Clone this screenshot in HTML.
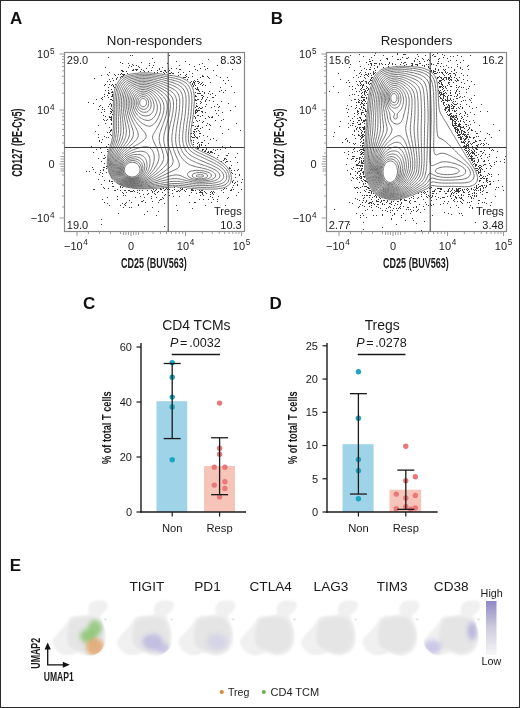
<!DOCTYPE html><html><head><meta charset="utf-8"><style>svg{will-change:transform}html,body{margin:0;padding:0;background:#fff;width:520px;height:708px;overflow:hidden}</style></head><body><svg width="520" height="708" viewBox="0 0 520 708" style="display:block">
<defs><filter id="blur2" x="-50%" y="-50%" width="200%" height="200%"><feGaussianBlur stdDeviation="2"/></filter><filter id="blur07" x="-20%" y="-20%" width="140%" height="140%"><feGaussianBlur stdDeviation="0.7"/></filter><filter id="blur10" x="-20%" y="-20%" width="140%" height="140%"><feGaussianBlur stdDeviation="1.0"/></filter><filter id="blur15" x="-20%" y="-20%" width="140%" height="140%"><feGaussianBlur stdDeviation="1.8"/></filter><linearGradient id="lg" x1="0" y1="0" x2="0" y2="1"><stop offset="0" stop-color="#8f88c6"/><stop offset="0.5" stop-color="#cfcdde"/><stop offset="1" stop-color="#f6f6f6"/></linearGradient></defs>
<rect x="0" y="0" width="520" height="708" fill="#fff"/>
<g font-family='"Liberation Sans", sans-serif'>
<g fill="none" stroke="#5c5c5c" stroke-width="0.85" stroke-linejoin="round">
<path d="M216.5,189.0 215.0,189.0 213.5,189.1 212.0,189.1 210.5,189.1 209.0,189.1 207.5,189.1 206.0,189.1 204.5,189.1 203.0,189.1 201.5,189.1 200.0,189.1 198.5,189.1 197.0,189.0 196.0,188.7 194.5,188.6 193.0,188.6 191.5,188.5 190.5,188.2 189.0,188.1 187.5,188.0 186.5,187.7 185.0,187.6 183.5,187.6 182.5,187.2 181.0,187.1 179.5,187.1 178.0,187.1 177.0,186.7 175.5,186.7 174.0,186.7 173.0,187.1 171.5,187.1 170.0,187.1 168.5,187.2 167.5,187.5 166.0,187.6 164.5,187.7 163.0,187.7 162.0,188.1 160.5,188.1 159.0,188.1 157.5,188.2 156.0,188.2 154.5,188.3 153.2,188.5 152.0,188.6 150.5,188.7 149.0,188.7 147.5,188.7 146.0,188.8 144.5,188.8 143.0,188.8 141.5,188.8 140.0,188.8 138.5,188.8 137.0,188.7 136.0,188.4 134.5,188.3 133.0,188.2 132.0,187.9 130.5,187.8 129.0,187.7 128.0,187.3 126.5,187.2 125.5,186.8 124.0,186.7 123.0,186.2 122.0,185.8 121.0,185.3 120.0,184.8 119.0,184.3 118.0,183.7 117.0,183.2 116.3,182.5 115.5,181.8 114.5,181.2 113.8,180.5 113.0,179.7 112.4,179.0 111.8,178.0 111.2,177.0 110.7,176.0 110.2,175.0 109.7,174.0 109.3,173.0 108.8,172.0 108.5,170.7 108.3,169.5 107.9,168.5 107.7,167.0 107.4,166.0 107.3,164.5 107.3,163.0 107.3,161.5 107.3,160.0 107.4,158.5 107.7,157.5 107.8,156.0 107.9,154.5 108.3,153.5 108.4,152.0 108.8,151.0 109.0,149.8 109.4,148.5 109.8,147.5 110.0,146.4 110.4,145.0 110.9,144.0 111.3,143.0 111.5,141.8 111.9,140.5 112.0,139.4 112.4,138.0 112.4,136.5 112.8,135.5 112.9,134.0 112.9,132.5 113.0,131.4 113.3,130.0 113.3,128.5 113.4,127.0 113.4,125.5 113.4,124.0 113.4,122.5 113.4,121.0 113.4,119.5 113.4,118.0 113.4,116.5 113.3,115.0 113.3,113.5 113.3,112.0 113.3,110.5 113.0,109.5 113.0,108.0 113.3,107.0 113.3,105.5 113.3,104.0 113.3,102.5 113.4,101.0 113.4,99.5 113.4,98.0 113.4,96.5 113.5,95.4 113.9,94.0 114.0,92.5 114.4,91.5 114.5,90.4 114.9,89.0 115.4,88.0 115.8,87.0 116.0,86.0 116.5,84.9 117.0,83.9 117.5,82.9 118.0,82.0 118.9,81.0 119.5,80.0 120.0,79.4 121.0,78.5 121.5,78.0 122.5,77.4 123.5,76.8 124.5,76.0 125.5,75.8 126.5,75.4 127.5,74.9 128.9,74.5 130.0,74.3 131.0,74.0 132.5,73.9 133.9,73.5 135.0,73.4 136.5,73.3 138.0,73.3 139.0,72.9 140.5,72.9 142.0,72.9 143.5,72.8 145.0,72.8 146.5,72.9 148.0,72.9 149.5,72.9 151.0,72.9 152.0,73.3 153.5,73.3 155.0,73.4 156.5,73.4 157.6,73.5 159.0,73.8 160.5,73.9 162.0,74.0 163.0,74.4 164.5,74.5 165.5,74.8 167.0,74.9 168.5,75.0 169.5,75.4 171.0,75.5 172.0,75.5 173.5,75.9 174.7,76.0 176.0,76.4 177.2,76.5 178.5,76.9 179.5,77.1 180.8,77.5 182.0,78.0 183.0,78.5 184.0,79.0 185.0,79.5 186.0,80.0 186.8,80.5 187.5,81.0 188.5,81.8 189.2,82.5 190.0,83.4 190.5,84.1 191.0,85.0 191.7,86.0 192.2,87.0 192.5,88.0 193.0,89.1 193.4,90.5 193.5,91.5 193.9,93.0 194.0,94.0 194.1,95.5 194.3,97.0 194.4,98.5 194.4,100.0 194.4,101.5 194.3,103.0 194.1,104.5 194.0,106.0 194.0,107.5 193.9,108.5 193.6,110.0 193.6,111.5 193.5,113.0 193.4,114.0 193.1,115.5 193.0,117.0 192.9,118.0 192.5,119.5 192.5,120.5 192.1,122.0 192.0,123.5 191.6,124.5 191.5,126.0 191.5,127.2 191.1,128.5 191.0,130.0 191.0,131.5 190.9,132.5 190.6,134.0 190.6,135.5 190.6,137.0 190.6,138.5 190.6,140.0 191.0,141.0 191.2,142.5 191.6,143.5 192.1,144.5 192.6,145.5 193.5,146.4 194.0,147.0 195.0,147.9 196.0,148.5 196.6,149.0 197.5,149.5 198.5,150.0 199.5,150.5 200.5,151.0 201.5,151.5 202.5,152.0 203.8,152.5 204.8,153.0 205.9,153.5 206.9,154.0 208.0,154.5 209.0,155.0 210.0,155.5 211.0,156.0 212.0,156.5 213.0,157.0 214.0,157.5 214.9,158.0 215.8,158.5 216.5,159.0 217.5,159.5 218.5,160.1 219.5,160.9 220.5,161.5 221.4,162.0 222.0,162.5 223.0,163.4 224.0,164.0 224.5,164.5 225.5,165.4 226.1,166.0 227.0,166.9 227.5,167.5 228.1,168.5 229.0,169.5 229.5,170.5 230.0,171.5 230.1,172.5 230.6,173.5 231.0,174.5 231.1,176.0 231.4,177.5 231.4,179.0 231.1,180.5 230.9,181.5 230.5,182.6 230.0,183.5 229.3,184.5 228.5,185.3 227.6,186.0 226.8,186.5 225.7,187.0 224.5,187.5 223.5,187.6 222.5,188.0 221.0,188.2 220.0,188.5 218.5,188.6 217.0,189.0Z"/>
<path d="M144.5,188.0 143.0,188.1 141.5,188.1 140.0,188.1 138.5,188.0 137.5,188.0 136.0,187.9 134.5,187.7 133.0,187.5 132.0,187.4 130.5,187.2 129.2,187.0 128.0,186.8 126.5,186.5 125.5,186.3 124.5,186.0 123.0,185.5 122.0,185.1 121.0,184.7 120.0,184.2 119.0,183.6 118.2,183.0 117.5,182.5 116.5,181.8 115.6,181.0 115.0,180.4 114.1,179.5 113.5,178.9 112.8,178.0 112.1,177.0 111.5,176.0 111.0,175.0 110.6,174.0 110.2,173.0 109.9,172.0 109.5,170.7 109.2,169.5 109.0,168.5 108.7,167.0 108.5,165.6 108.4,164.5 108.3,163.0 108.4,161.5 108.5,160.0 108.6,159.0 108.7,157.5 108.9,156.0 109.1,155.0 109.4,153.5 109.6,152.5 110.0,151.1 110.3,150.0 110.6,149.0 111.0,147.9 111.5,146.5 111.8,145.5 112.2,144.5 112.5,143.5 113.0,142.0 113.2,141.0 113.5,139.8 113.8,138.5 114.0,137.1 114.2,136.0 114.4,134.5 114.5,133.2 114.6,132.0 114.7,130.5 114.8,129.0 114.9,127.5 114.9,126.0 114.9,124.5 114.9,123.0 114.9,121.5 114.9,120.0 114.9,118.5 114.9,117.0 114.8,115.5 114.8,114.0 114.7,112.5 114.7,111.0 114.7,109.5 114.7,108.0 114.7,106.5 114.7,105.0 114.8,103.5 114.8,102.0 114.9,100.5 115.0,99.0 115.0,98.0 115.1,96.5 115.3,95.0 115.5,93.7 115.7,92.5 116.0,91.5 116.4,90.0 116.7,89.0 117.1,88.0 117.5,87.0 118.0,85.9 118.5,84.9 119.0,83.9 119.6,83.0 120.3,82.0 121.0,81.1 121.5,80.5 122.5,79.6 123.2,79.0 124.0,78.4 125.0,77.8 126.0,77.3 127.0,76.9 128.0,76.5 129.5,76.0 130.5,75.8 131.7,75.5 133.0,75.2 134.5,75.0 135.5,74.9 137.0,74.7 138.5,74.5 139.5,74.4 141.0,74.3 142.5,74.2 144.0,74.2 145.5,74.2 147.0,74.3 148.5,74.4 150.0,74.5 151.0,74.5 152.5,74.7 154.0,74.8 155.5,75.0 156.5,75.1 158.0,75.3 159.5,75.5 160.5,75.6 162.0,75.9 163.0,76.1 164.5,76.3 165.5,76.5 167.0,76.8 168.1,77.0 169.5,77.3 170.7,77.5 172.0,77.7 173.3,78.0 174.5,78.2 175.6,78.5 177.0,78.8 178.0,79.1 179.2,79.5 180.5,80.0 181.5,80.4 182.5,80.9 183.5,81.4 184.4,82.0 185.2,82.5 186.0,83.1 186.9,84.0 187.5,84.6 188.2,85.5 188.9,86.5 189.5,87.5 190.0,88.5 190.4,89.5 190.7,90.5 191.0,91.6 191.3,93.0 191.5,94.3 191.6,95.5 191.8,97.0 191.8,98.5 191.9,100.0 191.9,101.5 191.8,103.0 191.7,104.5 191.7,106.0 191.5,107.5 191.5,108.5 191.3,110.0 191.2,111.5 191.0,113.0 190.9,114.0 190.8,115.5 190.6,117.0 190.4,118.0 190.2,119.5 190.0,120.8 189.8,122.0 189.6,123.5 189.5,124.5 189.3,126.0 189.1,127.5 189.0,128.5 188.8,130.0 188.7,131.5 188.5,133.0 188.5,134.0 188.4,135.5 188.3,137.0 188.4,138.5 188.5,140.0 188.6,141.0 188.9,142.5 189.2,143.5 189.6,144.5 190.1,145.5 190.6,146.5 191.3,147.5 192.0,148.3 192.7,149.0 193.5,149.7 194.5,150.4 195.5,151.0 196.3,151.5 197.3,152.0 198.2,152.5 199.3,153.0 200.3,153.5 201.4,154.0 202.4,154.5 203.5,155.0 204.5,155.5 205.5,156.0 206.5,156.4 207.5,156.9 208.5,157.4 209.5,157.9 210.5,158.4 211.5,158.9 212.5,159.4 213.5,159.9 214.5,160.4 215.5,161.0 216.4,161.5 217.2,162.0 218.0,162.5 219.0,163.1 220.0,163.8 221.0,164.5 221.7,165.0 222.5,165.6 223.5,166.5 224.1,167.0 225.0,167.9 225.6,168.5 226.4,169.5 227.0,170.4 227.5,171.2 228.0,172.3 228.5,173.5 228.8,174.5 229.0,175.5 229.2,177.0 229.2,178.5 229.0,179.6 228.5,181.0 228.0,182.0 227.5,182.7 226.7,183.5 226.0,184.1 225.0,184.7 224.0,185.2 223.0,185.5 221.5,186.0 220.5,186.2 219.2,186.5 218.0,186.7 216.5,186.9 215.4,187.0 214.0,187.1 212.5,187.2 211.0,187.2 209.5,187.3 208.0,187.3 206.5,187.3 205.0,187.4 203.5,187.4 202.0,187.4 200.5,187.4 199.0,187.3 197.5,187.3 196.0,187.2 194.5,187.0 193.5,187.0 192.0,186.8 190.5,186.6 189.3,186.5 188.0,186.4 186.5,186.2 185.0,186.0 184.0,185.9 182.5,185.7 181.0,185.6 180.0,185.5 178.5,185.4 177.0,185.3 175.5,185.3 174.0,185.3 172.5,185.4 171.2,185.5 170.0,185.6 168.5,185.8 167.0,185.9 166.0,186.1 164.5,186.2 163.0,186.4 162.0,186.5 160.5,186.6 159.0,186.8 157.5,186.9 156.5,187.0 155.0,187.1 153.5,187.3 152.0,187.4 150.9,187.5 149.5,187.6 148.0,187.8 146.5,187.9 145.0,188.0Z"/>
<path d="M144.5,187.0 143.0,187.1 141.5,187.2 140.0,187.2 138.5,187.2 137.0,187.1 135.5,187.0 134.5,186.9 133.0,186.8 131.5,186.6 130.5,186.4 129.0,186.2 127.8,186.0 126.5,185.7 125.5,185.5 124.0,185.0 123.0,184.7 122.0,184.3 121.0,183.8 120.0,183.2 119.0,182.6 118.2,182.0 117.5,181.5 116.5,180.6 115.8,180.0 115.0,179.2 114.4,178.5 113.6,177.5 113.0,176.6 112.5,175.8 112.0,174.8 111.5,173.7 111.1,172.5 110.7,171.5 110.5,170.5 110.1,169.0 109.9,168.0 109.7,166.5 109.5,165.0 109.5,164.0 109.4,162.5 109.5,161.3 109.6,160.0 109.8,158.5 110.0,157.0 110.2,156.0 110.5,154.5 110.7,153.5 111.0,152.4 111.4,151.0 111.8,150.0 112.1,149.0 112.5,147.9 113.0,146.6 113.4,145.5 113.8,144.5 114.1,143.5 114.5,142.3 114.9,141.0 115.1,140.0 115.4,138.5 115.6,137.5 115.9,136.0 116.0,135.0 116.2,133.5 116.4,132.0 116.5,130.5 116.5,129.5 116.6,128.0 116.6,126.5 116.6,125.0 116.6,123.5 116.6,122.0 116.6,120.5 116.6,119.0 116.5,117.5 116.5,116.5 116.4,115.0 116.4,113.5 116.3,112.0 116.3,110.5 116.3,109.0 116.3,107.5 116.3,106.0 116.3,104.5 116.4,103.0 116.4,101.5 116.5,100.0 116.5,99.0 116.6,97.5 116.8,96.0 117.0,94.5 117.2,93.5 117.5,92.2 117.8,91.0 118.1,90.0 118.5,89.0 119.0,87.7 119.5,86.6 120.0,85.6 120.5,84.7 121.0,83.9 121.6,83.0 122.5,82.0 123.0,81.4 124.0,80.5 124.7,80.0 125.5,79.4 126.5,78.9 127.5,78.4 128.5,78.0 129.9,77.5 131.0,77.2 132.0,76.9 133.5,76.6 134.5,76.5 136.0,76.2 137.5,76.0 138.5,75.9 140.0,75.8 141.5,75.7 143.0,75.6 144.5,75.6 146.0,75.6 147.5,75.7 149.0,75.8 150.5,75.9 151.5,76.0 153.0,76.2 154.5,76.4 155.6,76.5 157.0,76.7 158.5,77.0 159.5,77.1 161.0,77.4 162.0,77.6 163.5,78.0 164.5,78.2 165.9,78.5 167.0,78.8 168.0,79.0 169.5,79.3 170.5,79.6 172.0,79.9 173.0,80.2 174.2,80.5 175.5,80.9 176.5,81.2 177.5,81.5 178.8,82.0 179.9,82.5 180.9,83.0 181.8,83.5 182.5,84.0 183.5,84.7 184.4,85.5 185.0,86.1 185.7,87.0 186.4,88.0 187.0,89.0 187.5,90.0 187.8,91.0 188.2,92.0 188.5,93.4 188.7,94.5 188.9,96.0 189.0,97.0 189.1,98.5 189.1,100.0 189.1,101.5 189.1,103.0 189.0,104.5 189.0,105.5 188.9,107.0 188.8,108.5 188.7,110.0 188.5,111.5 188.4,112.5 188.3,114.0 188.1,115.5 188.0,116.5 187.8,118.0 187.5,119.5 187.4,120.5 187.2,122.0 187.0,123.3 186.8,124.5 186.6,126.0 186.5,127.3 186.4,128.5 186.2,130.0 186.1,131.5 186.0,132.5 185.9,134.0 185.8,135.5 185.8,137.0 185.8,138.5 185.9,140.0 186.0,141.2 186.2,142.5 186.5,143.6 186.9,145.0 187.3,146.0 187.8,147.0 188.3,148.0 189.0,149.0 189.5,149.7 190.3,150.5 191.0,151.2 192.0,152.0 192.7,152.5 193.5,153.0 194.5,153.6 195.5,154.2 196.5,154.7 197.5,155.2 198.5,155.7 199.5,156.1 200.5,156.6 201.5,157.1 202.5,157.6 203.5,158.0 204.5,158.5 205.6,159.0 206.7,159.5 207.7,160.0 208.8,160.5 209.8,161.0 210.9,161.5 211.9,162.0 212.9,162.5 213.9,163.0 214.9,163.5 215.8,164.0 216.6,164.5 217.5,165.0 218.5,165.6 219.5,166.3 220.5,167.0 221.1,167.5 222.0,168.2 222.9,169.0 223.5,169.6 224.3,170.5 225.0,171.5 225.5,172.3 226.0,173.3 226.4,174.5 226.6,175.5 226.8,177.0 226.6,178.5 226.3,179.5 225.7,180.5 225.0,181.4 224.3,182.0 223.5,182.6 222.5,183.1 221.5,183.5 220.1,184.0 219.0,184.3 218.0,184.5 216.5,184.8 215.1,185.0 214.0,185.1 212.5,185.2 211.0,185.4 209.5,185.4 208.2,185.5 207.0,185.5 205.5,185.6 204.0,185.6 202.5,185.6 201.0,185.6 199.5,185.6 198.0,185.6 196.7,185.5 195.5,185.4 194.0,185.3 192.5,185.2 191.1,185.0 190.0,184.9 188.5,184.7 187.0,184.5 186.0,184.4 184.5,184.2 183.0,184.0 182.0,183.9 180.5,183.8 179.0,183.6 177.5,183.5 176.0,183.5 174.5,183.5 173.0,183.6 171.5,183.7 170.0,183.8 168.7,184.0 167.5,184.2 166.0,184.4 165.0,184.5 163.5,184.7 162.0,184.9 161.0,185.1 159.5,185.3 158.0,185.4 157.0,185.6 155.5,185.8 154.0,185.9 153.0,186.1 151.5,186.2 150.0,186.4 149.0,186.6 147.5,186.7 146.0,186.9 144.7,187.0Z"/>
<path d="M145.0,186.0 143.5,186.2 142.0,186.3 140.5,186.4 139.0,186.4 137.5,186.4 136.0,186.3 134.5,186.2 133.0,186.1 132.0,186.0 130.5,185.8 129.0,185.5 128.0,185.4 126.5,185.0 125.5,184.8 124.5,184.5 123.2,184.0 122.1,183.5 121.1,183.0 120.3,182.5 119.5,182.0 118.5,181.3 117.5,180.5 117.0,180.0 116.0,179.1 115.5,178.5 114.6,177.5 114.0,176.6 113.5,175.8 113.0,174.8 112.5,173.7 112.0,172.5 111.7,171.5 111.4,170.5 111.1,169.0 110.9,168.0 110.7,166.5 110.5,165.0 110.5,163.5 110.6,162.0 110.7,160.5 110.9,159.0 111.0,158.0 111.3,156.5 111.6,155.5 111.9,154.0 112.2,153.0 112.6,152.0 113.0,150.8 113.5,149.5 113.9,148.5 114.3,147.5 114.7,146.5 115.2,145.5 115.6,144.5 116.0,143.3 116.5,142.0 116.8,141.0 117.1,140.0 117.4,138.5 117.6,137.5 117.9,136.0 118.1,135.0 118.3,133.5 118.4,132.0 118.5,131.0 118.6,129.5 118.6,128.0 118.6,126.5 118.6,125.0 118.6,123.5 118.6,122.0 118.5,120.5 118.5,119.5 118.4,118.0 118.3,116.5 118.3,115.0 118.2,113.5 118.1,112.0 118.0,110.5 118.0,109.5 118.0,108.0 118.0,106.5 118.0,105.0 118.0,104.0 118.0,102.5 118.1,101.0 118.2,99.5 118.3,98.0 118.4,96.5 118.6,95.5 118.8,94.0 119.1,93.0 119.5,91.5 119.8,90.5 120.2,89.5 120.6,88.5 121.0,87.5 121.5,86.5 122.1,85.5 122.8,84.5 123.5,83.5 124.0,83.0 125.0,82.0 125.6,81.5 126.5,80.9 127.5,80.3 128.5,79.8 129.5,79.3 130.5,79.0 132.0,78.5 133.0,78.3 134.3,78.0 135.5,77.8 137.0,77.5 138.0,77.4 139.5,77.2 141.0,77.1 142.5,77.0 144.0,77.0 145.5,77.0 147.0,77.1 148.5,77.2 150.0,77.4 151.3,77.5 152.5,77.7 154.0,77.9 155.0,78.0 156.5,78.3 157.5,78.5 159.0,78.8 160.0,79.1 161.5,79.4 162.5,79.7 163.6,80.0 165.0,80.4 166.0,80.7 167.1,81.0 168.5,81.4 169.5,81.7 170.6,82.0 172.0,82.4 173.0,82.8 174.0,83.1 175.1,83.5 176.4,84.0 177.5,84.5 178.4,85.0 179.3,85.5 180.1,86.0 181.0,86.7 181.9,87.5 182.5,88.1 183.2,89.0 183.8,90.0 184.4,91.0 184.8,92.0 185.1,93.0 185.5,94.5 185.7,95.5 185.9,97.0 186.0,98.3 186.1,99.5 186.1,101.0 186.1,102.5 186.0,104.0 186.0,105.0 185.9,106.5 185.8,108.0 185.7,109.5 185.5,111.0 185.4,112.0 185.3,113.5 185.1,115.0 185.0,116.0 184.8,117.5 184.5,119.0 184.4,120.0 184.2,121.5 184.0,122.8 183.8,124.0 183.6,125.5 183.5,126.6 183.3,128.0 183.2,129.5 183.0,131.0 182.9,132.0 182.8,133.5 182.7,135.0 182.7,136.5 182.6,138.0 182.7,139.5 182.8,141.0 183.0,142.5 183.2,143.5 183.5,144.8 183.9,146.0 184.2,147.0 184.6,148.0 185.1,149.0 185.6,150.0 186.3,151.0 187.0,152.0 187.5,152.6 188.4,153.5 189.0,154.0 190.0,154.8 191.0,155.5 191.8,156.0 192.6,156.5 193.5,157.0 194.5,157.5 195.5,158.0 196.5,158.5 197.6,159.0 198.7,159.5 199.8,160.0 200.9,160.5 202.0,161.0 203.0,161.4 204.0,161.8 205.0,162.2 206.0,162.7 207.0,163.1 208.0,163.5 209.2,164.0 210.3,164.5 211.5,165.0 212.5,165.5 213.5,166.0 214.5,166.5 215.5,167.0 216.4,167.5 217.2,168.0 218.0,168.5 219.0,169.2 220.0,170.0 220.6,170.5 221.5,171.4 222.0,172.0 222.7,173.0 223.2,174.0 223.5,175.0 223.7,176.5 223.5,177.6 223.0,178.7 222.4,179.5 221.5,180.3 220.5,181.0 219.5,181.5 218.5,181.9 217.5,182.2 216.4,182.5 215.0,182.8 213.9,183.0 212.5,183.2 211.0,183.4 209.9,183.5 208.5,183.6 207.0,183.7 205.5,183.8 204.0,183.9 202.5,183.9 201.0,183.9 199.5,183.9 198.0,183.9 196.5,183.8 195.0,183.7 193.5,183.5 192.5,183.4 191.0,183.2 189.5,183.0 188.5,182.9 187.0,182.6 186.0,182.5 184.5,182.2 183.0,182.0 182.0,181.9 180.5,181.7 179.2,181.5 178.0,181.4 176.5,181.3 175.0,181.3 173.5,181.3 172.0,181.4 171.0,181.5 169.5,181.7 168.0,182.0 167.0,182.1 165.5,182.4 164.5,182.6 163.0,182.9 162.0,183.1 160.5,183.4 159.5,183.6 158.0,183.8 157.0,184.0 155.5,184.3 154.3,184.5 153.0,184.7 151.5,185.0 150.5,185.2 149.0,185.4 148.0,185.6 146.5,185.8 145.1,186.0Z"/>
<path d="M141.0,185.5 139.5,185.6 138.0,185.6 136.5,185.6 135.0,185.6 134.0,185.5 132.5,185.4 131.0,185.2 129.6,185.0 128.5,184.8 127.0,184.5 126.0,184.2 125.0,183.9 123.8,183.5 122.7,183.0 121.7,182.5 120.8,182.0 120.0,181.5 119.0,180.7 118.1,180.0 117.5,179.4 116.6,178.5 116.0,177.9 115.3,177.0 114.6,176.0 114.1,175.0 113.6,174.0 113.2,173.0 112.8,172.0 112.5,171.0 112.1,169.5 111.9,168.5 111.7,167.0 111.6,165.5 111.6,164.0 111.6,162.5 111.8,161.0 112.0,159.5 112.2,158.5 112.5,157.0 112.8,156.0 113.0,155.0 113.5,153.6 113.9,152.5 114.3,151.5 114.7,150.5 115.2,149.5 115.6,148.5 116.1,147.5 116.6,146.5 117.1,145.5 117.5,144.5 118.0,143.4 118.5,142.2 118.9,141.0 119.3,140.0 119.6,139.0 119.9,137.5 120.2,136.5 120.4,135.0 120.6,134.0 120.8,132.5 120.9,131.0 120.9,129.5 120.9,128.0 120.9,126.5 120.8,125.0 120.8,123.5 120.7,122.0 120.6,120.5 120.5,119.5 120.4,118.0 120.3,116.5 120.1,115.0 120.0,113.5 120.0,112.5 119.9,111.0 119.8,109.5 119.7,108.0 119.7,106.5 119.7,105.0 119.7,103.5 119.8,102.0 119.8,100.5 119.9,99.0 120.0,97.9 120.2,96.5 120.4,95.0 120.6,94.0 121.0,92.5 121.3,91.5 121.7,90.5 122.1,89.5 122.5,88.5 123.0,87.5 123.6,86.5 124.3,85.5 125.0,84.6 125.5,84.0 126.5,83.1 127.3,82.5 128.0,82.0 129.0,81.4 130.0,81.0 131.2,80.5 132.5,80.1 133.5,79.8 134.7,79.5 136.0,79.2 137.3,79.0 138.5,78.8 140.0,78.7 141.5,78.5 142.5,78.5 144.0,78.5 145.5,78.5 146.5,78.5 148.0,78.7 149.5,78.8 150.8,79.0 152.0,79.2 153.5,79.4 154.5,79.6 156.0,80.0 157.0,80.2 158.2,80.5 159.5,80.9 160.5,81.2 161.6,81.5 163.0,82.0 164.0,82.3 165.0,82.7 166.0,83.0 167.4,83.5 168.5,83.9 169.5,84.3 170.5,84.6 171.5,85.0 172.6,85.5 173.8,86.0 174.8,86.5 175.8,87.0 176.7,87.5 177.5,88.1 178.5,88.8 179.2,89.5 180.0,90.4 180.5,91.1 181.1,92.0 181.6,93.0 182.0,94.2 182.4,95.5 182.6,96.5 182.8,98.0 182.9,99.5 182.9,101.0 182.9,102.5 182.9,104.0 182.8,105.5 182.7,107.0 182.6,108.5 182.5,109.6 182.4,111.0 182.2,112.5 182.0,114.0 181.9,115.0 181.7,116.5 181.5,117.8 181.3,119.0 181.1,120.5 180.9,121.5 180.7,123.0 180.5,124.3 180.3,125.5 180.1,127.0 180.0,128.1 179.8,129.5 179.7,131.0 179.5,132.5 179.4,133.5 179.3,135.0 179.2,136.5 179.2,138.0 179.2,139.5 179.3,141.0 179.5,142.5 179.6,143.5 179.9,145.0 180.2,146.0 180.5,147.0 181.0,148.5 181.4,149.5 181.8,150.5 182.3,151.5 182.9,152.5 183.5,153.5 184.0,154.2 184.6,155.0 185.5,156.0 186.0,156.5 187.0,157.4 187.7,158.0 188.5,158.5 189.5,159.2 190.5,159.8 191.5,160.3 192.5,160.9 193.5,161.3 194.5,161.8 195.5,162.2 196.5,162.7 197.5,163.0 198.7,163.5 200.0,164.0 201.0,164.3 202.0,164.7 203.0,165.0 204.4,165.5 205.5,165.9 206.5,166.2 207.5,166.6 208.7,167.0 210.0,167.5 211.0,167.9 212.0,168.3 213.0,168.8 214.0,169.3 215.0,169.8 216.0,170.5 216.8,171.0 217.5,171.6 218.5,172.5 219.0,173.2 219.5,174.0 219.9,175.5 219.7,177.0 219.1,178.0 218.5,178.6 217.5,179.4 216.5,179.9 215.5,180.3 214.5,180.6 213.2,181.0 212.0,181.3 210.9,181.5 209.5,181.7 208.0,181.9 207.0,182.0 205.5,182.2 204.0,182.3 202.5,182.4 201.0,182.4 199.5,182.4 198.0,182.3 196.5,182.2 195.0,182.1 194.0,182.0 192.5,181.8 191.0,181.5 190.0,181.3 188.5,181.0 187.5,180.8 186.1,180.5 185.0,180.2 184.0,180.0 182.5,179.6 181.5,179.4 180.0,179.1 179.0,178.9 177.5,178.7 176.0,178.6 174.5,178.6 173.0,178.6 171.5,178.8 170.2,179.0 169.0,179.2 167.8,179.5 166.5,179.8 165.5,180.1 164.0,180.5 163.0,180.7 162.0,181.0 160.5,181.4 159.5,181.7 158.2,182.0 157.0,182.3 156.0,182.6 154.5,182.9 153.5,183.2 152.2,183.5 151.0,183.8 150.0,184.0 148.5,184.3 147.5,184.5 146.0,184.8 145.0,185.0 143.5,185.2 142.0,185.4 141.0,185.5Z"/>
<path d="M142.0,184.5 140.5,184.7 139.0,184.9 137.5,184.9 136.0,184.9 134.5,184.9 133.0,184.8 131.5,184.6 130.5,184.5 129.0,184.3 127.7,184.0 126.5,183.7 125.5,183.4 124.3,183.0 123.2,182.5 122.2,182.0 121.3,181.5 120.5,180.9 119.5,180.2 118.7,179.5 118.0,178.9 117.2,178.0 116.5,177.2 116.0,176.5 115.3,175.5 114.8,174.5 114.3,173.5 113.9,172.5 113.5,171.2 113.2,170.0 113.0,169.0 112.8,167.5 112.7,166.0 112.6,164.5 112.7,163.0 112.9,161.5 113.0,160.5 113.3,159.0 113.5,158.0 114.0,156.5 114.3,155.5 114.6,154.5 115.0,153.5 115.5,152.4 116.0,151.4 116.5,150.4 117.0,149.4 117.5,148.5 118.0,147.5 118.6,146.5 119.1,145.5 119.7,144.5 120.2,143.5 120.7,142.5 121.1,141.5 121.5,140.5 122.0,139.1 122.4,138.0 122.6,137.0 123.0,135.5 123.2,134.5 123.4,133.0 123.5,131.5 123.5,130.5 123.5,129.1 123.5,128.0 123.3,126.5 123.2,125.0 123.1,123.5 122.9,122.5 122.8,121.0 122.6,119.5 122.5,118.5 122.3,117.0 122.1,115.5 122.0,114.4 121.9,113.0 121.7,111.5 121.6,110.0 121.5,108.5 121.5,107.5 121.4,106.0 121.4,104.5 121.4,103.0 121.5,101.5 121.5,100.5 121.6,99.0 121.8,97.5 122.0,96.0 122.2,95.0 122.5,93.6 122.8,92.5 123.2,91.5 123.5,90.5 124.0,89.5 124.5,88.5 125.1,87.5 125.8,86.5 126.5,85.6 127.1,85.0 128.0,84.2 129.0,83.5 129.8,83.0 130.8,82.5 132.0,82.0 133.0,81.6 134.0,81.3 135.2,81.0 136.5,80.7 137.6,80.5 139.0,80.3 140.5,80.1 141.9,80.0 143.0,80.0 144.5,80.0 145.6,80.0 147.0,80.1 148.5,80.3 150.0,80.5 151.0,80.6 152.5,80.9 153.5,81.2 154.9,81.5 156.0,81.8 157.0,82.1 158.3,82.5 159.5,82.9 160.5,83.3 161.5,83.6 162.5,84.0 163.6,84.5 164.8,85.0 166.0,85.5 167.0,86.0 168.0,86.4 169.0,86.9 170.0,87.3 171.0,87.8 172.0,88.4 173.0,88.9 174.0,89.5 174.7,90.0 175.5,90.6 176.4,91.5 177.0,92.1 177.6,93.0 178.2,94.0 178.7,95.0 179.0,96.0 179.4,97.5 179.6,98.5 179.7,100.0 179.8,101.5 179.8,103.0 179.7,104.5 179.6,106.0 179.5,107.5 179.5,108.5 179.3,110.0 179.2,111.5 179.0,112.8 178.8,114.0 178.6,115.5 178.5,116.5 178.2,118.0 178.0,119.2 177.8,120.5 177.5,122.0 177.4,123.0 177.1,124.5 176.9,125.5 176.7,127.0 176.5,128.5 176.4,129.5 176.2,131.0 176.0,132.5 175.9,133.5 175.8,135.0 175.7,136.5 175.6,138.0 175.6,139.5 175.7,141.0 175.8,142.5 176.0,143.9 176.2,145.0 176.5,146.2 176.8,147.5 177.2,148.5 177.5,149.5 178.0,150.8 178.5,152.0 178.9,153.0 179.4,154.0 179.9,155.0 180.5,156.0 181.0,156.8 181.5,157.5 182.2,158.5 183.0,159.4 183.5,160.0 184.5,161.0 185.0,161.5 186.0,162.3 186.9,163.0 187.7,163.5 188.5,164.0 189.5,164.6 190.5,165.0 191.7,165.5 193.0,165.9 194.0,166.2 195.0,166.5 196.5,166.9 197.5,167.1 199.0,167.4 200.0,167.6 201.5,167.9 202.5,168.2 203.9,168.5 205.0,168.8 206.0,169.0 207.5,169.5 208.5,169.8 209.5,170.2 210.5,170.6 211.5,171.1 212.5,171.6 213.5,172.2 214.4,173.0 215.0,173.7 215.5,174.5 215.7,176.0 215.2,177.0 214.5,177.8 213.5,178.5 212.5,179.0 211.5,179.4 210.5,179.7 209.4,180.0 208.0,180.3 207.0,180.5 205.5,180.7 204.0,180.9 202.6,181.0 201.5,181.0 200.0,181.1 198.5,181.0 197.5,181.0 196.0,180.8 194.5,180.6 193.5,180.4 192.0,180.1 191.0,179.9 189.6,179.5 188.5,179.2 187.5,178.8 186.5,178.4 185.5,178.0 184.5,177.5 183.4,177.0 182.4,176.5 181.3,176.0 180.0,175.5 179.0,175.2 177.5,175.0 176.5,174.9 175.0,175.0 174.0,175.1 172.5,175.3 171.5,175.5 170.0,175.9 169.0,176.2 168.0,176.5 166.6,177.0 165.5,177.4 164.5,177.7 163.5,178.1 162.5,178.5 161.1,179.0 160.0,179.4 159.0,179.8 158.0,180.1 156.9,180.5 155.5,181.0 154.5,181.3 153.5,181.6 152.3,182.0 151.0,182.4 150.0,182.7 148.9,183.0 147.5,183.4 146.5,183.6 145.0,184.0 144.0,184.2 142.5,184.5Z"/>
<path d="M139.5,184.0 138.0,184.2 136.5,184.2 135.0,184.2 133.5,184.2 132.0,184.1 131.0,184.0 129.5,183.7 128.3,183.5 127.0,183.2 126.0,182.9 124.9,182.5 123.7,182.0 122.7,181.5 121.9,181.0 121.0,180.4 120.0,179.7 119.2,179.0 118.5,178.3 117.8,177.5 117.0,176.5 116.5,175.8 116.0,175.0 115.5,174.0 115.0,172.9 114.5,171.5 114.3,170.5 114.0,169.2 113.8,168.0 113.7,166.5 113.7,165.0 113.7,163.5 113.9,162.0 114.1,161.0 114.4,159.5 114.7,158.5 115.0,157.5 115.5,156.1 115.9,155.0 116.4,154.0 116.9,153.0 117.4,152.0 117.9,151.0 118.5,150.0 119.0,149.2 119.5,148.4 120.1,147.5 120.8,146.5 121.4,145.5 122.0,144.5 122.5,143.7 123.0,142.8 123.5,141.9 124.0,140.9 124.5,139.8 125.0,138.6 125.4,137.5 125.7,136.5 126.0,135.2 126.2,134.0 126.3,132.5 126.4,131.0 126.3,129.5 126.1,128.0 126.0,127.0 125.8,125.5 125.5,124.0 125.3,123.0 125.1,121.5 124.9,120.5 124.6,119.0 124.5,118.0 124.2,116.5 124.0,115.0 123.9,114.0 123.7,112.5 123.5,111.2 123.4,110.0 123.3,108.5 123.2,107.0 123.1,105.5 123.1,104.0 123.1,102.5 123.2,101.0 123.3,99.5 123.4,98.0 123.5,97.0 123.8,95.5 124.0,94.5 124.5,93.0 124.8,92.0 125.2,91.0 125.7,90.0 126.3,89.0 126.9,88.0 127.5,87.3 128.2,86.5 129.0,85.8 130.0,85.0 130.8,84.5 131.7,84.0 132.8,83.5 134.0,83.0 135.0,82.7 136.0,82.4 137.5,82.1 138.5,81.9 140.0,81.7 141.5,81.5 142.5,81.5 144.0,81.5 145.2,81.5 146.5,81.6 148.0,81.8 149.5,82.0 150.5,82.2 151.9,82.5 153.0,82.8 154.0,83.1 155.4,83.5 156.5,83.9 157.5,84.2 158.5,84.6 159.5,85.1 160.5,85.5 161.6,86.0 162.6,86.5 163.6,87.0 164.6,87.5 165.5,88.0 166.5,88.5 167.5,89.1 168.5,89.7 169.5,90.3 170.5,90.9 171.3,91.5 172.0,92.0 173.0,92.9 173.6,93.5 174.4,94.5 175.0,95.4 175.5,96.4 175.9,97.5 176.2,98.5 176.5,100.0 176.6,101.0 176.6,102.5 176.6,104.0 176.6,105.5 176.5,106.8 176.4,108.0 176.3,109.5 176.1,111.0 176.0,112.0 175.7,113.5 175.5,115.0 175.3,116.0 175.1,117.5 174.9,118.5 174.6,120.0 174.4,121.0 174.1,122.5 173.9,123.5 173.6,125.0 173.4,126.0 173.1,127.5 173.0,128.5 172.7,130.0 172.5,131.4 172.4,132.5 172.2,134.0 172.0,135.5 171.9,136.5 171.9,138.0 171.8,139.5 171.9,141.0 172.0,142.2 172.2,143.5 172.4,145.0 172.6,146.0 173.0,147.4 173.3,148.5 173.6,149.5 174.0,150.6 174.5,152.0 174.9,153.0 175.3,154.0 175.7,155.0 176.1,156.0 176.6,157.0 177.0,158.0 177.5,159.1 178.0,160.2 178.5,161.4 178.9,162.5 179.2,163.5 179.4,165.0 179.1,166.5 178.5,167.5 178.0,168.0 177.0,168.7 176.0,169.3 175.0,169.8 174.0,170.2 173.0,170.7 172.0,171.1 171.0,171.6 170.0,172.0 169.0,172.5 168.0,173.0 167.0,173.5 166.0,174.0 165.0,174.5 164.0,175.0 163.0,175.5 162.0,176.0 161.0,176.5 160.0,177.0 159.0,177.5 157.9,178.0 156.8,178.5 155.7,179.0 154.5,179.5 153.5,179.9 152.5,180.3 151.5,180.7 150.5,181.1 149.5,181.5 148.1,182.0 147.0,182.3 146.0,182.7 144.8,183.0 143.5,183.3 142.5,183.5 141.0,183.8 139.7,184.0Z"/>
<path d="M204.5,179.6 203.0,179.8 201.5,179.9 200.0,179.9 198.5,179.8 197.0,179.7 195.5,179.5 194.5,179.3 193.3,179.0 192.0,178.6 191.0,178.1 190.0,177.6 189.1,177.0 188.5,176.5 187.8,175.5 187.5,174.5 187.6,173.5 188.3,172.5 189.0,172.0 190.0,171.5 191.4,171.0 192.5,170.8 194.0,170.6 195.0,170.5 196.5,170.4 198.0,170.4 199.5,170.5 200.5,170.6 202.0,170.7 203.5,171.0 204.5,171.2 205.8,171.5 207.0,171.9 208.0,172.2 209.0,172.7 210.0,173.3 210.8,174.0 211.4,175.0 211.2,176.5 210.5,177.3 209.5,178.0 208.5,178.5 207.5,178.8 206.5,179.1 205.0,179.5Z"/>
<path d="M136.5,183.5 135.0,183.6 133.5,183.5 132.5,183.5 131.0,183.3 129.5,183.1 128.5,182.9 127.0,182.6 126.0,182.2 125.0,181.9 124.0,181.4 123.0,180.9 122.0,180.3 121.0,179.5 120.3,179.0 119.5,178.2 118.8,177.5 118.0,176.5 117.5,175.8 117.0,175.0 116.4,174.0 116.0,173.0 115.5,171.6 115.2,170.5 115.0,169.5 114.8,168.0 114.7,166.5 114.7,165.0 114.8,163.5 115.0,162.3 115.3,161.0 115.5,160.0 116.0,158.5 116.3,157.5 116.8,156.5 117.2,155.5 117.7,154.5 118.2,153.5 118.8,152.5 119.5,151.5 120.0,150.7 120.5,150.0 121.2,149.0 122.0,148.0 122.5,147.3 123.1,146.5 123.9,145.5 124.5,144.7 125.0,144.0 125.7,143.0 126.4,142.0 127.0,141.0 127.5,140.1 128.0,139.1 128.5,138.0 128.9,137.0 129.2,136.0 129.5,134.5 129.6,133.5 129.6,132.0 129.5,130.9 129.3,129.5 129.0,128.0 128.8,127.0 128.5,125.7 128.2,124.5 127.9,123.5 127.6,122.0 127.3,121.0 127.0,119.8 126.7,118.5 126.5,117.5 126.2,116.0 126.0,115.0 125.7,113.5 125.5,112.5 125.3,111.0 125.1,109.5 125.0,108.5 124.9,107.0 124.8,105.5 124.8,104.0 124.8,102.5 124.8,101.0 124.9,99.5 125.0,98.5 125.2,97.0 125.5,95.8 125.8,94.5 126.1,93.5 126.5,92.5 127.0,91.4 127.5,90.5 128.1,89.5 128.9,88.5 129.5,87.8 130.4,87.0 131.0,86.5 132.0,85.8 133.0,85.3 134.0,84.8 135.0,84.4 136.4,84.0 137.5,83.7 138.5,83.5 140.0,83.2 141.5,83.1 143.0,83.0 144.0,83.0 145.0,83.0 146.5,83.2 148.0,83.4 149.0,83.6 150.5,83.9 151.5,84.2 152.7,84.5 154.0,84.9 155.0,85.3 156.0,85.7 157.0,86.2 158.0,86.6 159.0,87.1 160.0,87.7 161.0,88.2 162.0,88.8 163.0,89.4 163.9,90.0 164.7,90.5 165.5,91.0 166.5,91.7 167.5,92.5 168.2,93.0 169.0,93.7 169.9,94.5 170.5,95.1 171.2,96.0 171.9,97.0 172.4,98.0 172.8,99.0 173.1,100.0 173.3,101.5 173.5,103.0 173.5,104.0 173.5,105.5 173.5,106.5 173.3,108.0 173.2,109.5 173.0,111.0 172.9,112.0 172.6,113.5 172.4,114.5 172.2,116.0 172.0,117.0 171.6,118.5 171.4,119.5 171.1,121.0 170.8,122.0 170.5,123.4 170.2,124.5 170.0,125.5 169.7,127.0 169.4,128.0 169.1,129.5 168.9,130.5 168.6,132.0 168.5,133.0 168.2,134.5 168.1,136.0 168.0,137.0 167.9,138.5 167.9,140.0 168.0,141.3 168.1,142.5 168.3,144.0 168.5,145.0 168.9,146.5 169.1,147.5 169.5,148.7 169.9,150.0 170.3,151.0 170.6,152.0 171.0,153.1 171.5,154.5 171.8,155.5 172.1,156.5 172.5,157.8 172.8,159.0 173.0,160.3 173.1,161.5 173.0,162.5 172.5,164.0 172.0,164.9 171.5,165.5 170.6,166.5 170.0,167.1 169.0,167.9 168.2,168.5 167.5,169.1 166.5,169.8 165.5,170.5 164.8,171.0 164.0,171.6 163.0,172.3 162.0,172.9 161.2,173.5 160.4,174.0 159.5,174.6 158.5,175.2 157.5,175.8 156.5,176.4 155.5,177.0 154.5,177.5 153.6,178.0 152.7,178.5 151.7,179.0 150.7,179.5 149.6,180.0 148.5,180.5 147.5,180.9 146.5,181.3 145.5,181.7 144.5,182.0 143.0,182.5 142.0,182.7 140.7,183.0 139.5,183.2 138.0,183.4 136.8,183.5Z"/>
<path d="M203.0,178.6 201.5,178.7 200.0,178.8 198.5,178.7 197.0,178.5 196.0,178.3 194.8,178.0 193.7,177.5 192.9,177.0 192.2,176.0 192.5,174.6 193.1,174.0 194.0,173.5 195.4,173.0 196.5,172.8 198.0,172.6 199.5,172.5 201.0,172.6 202.5,172.8 203.8,173.0 205.0,173.4 206.0,173.8 207.0,174.4 207.5,175.0 207.5,176.5 207.0,177.1 206.0,177.7 205.0,178.1 203.5,178.5Z"/>
<path d="M138.5,182.6 137.0,182.8 135.5,182.9 134.0,182.9 132.5,182.9 131.0,182.7 129.5,182.5 128.5,182.3 127.3,182.0 126.0,181.6 125.0,181.2 124.0,180.7 123.0,180.1 122.1,179.5 121.5,179.0 120.5,178.2 119.8,177.5 119.0,176.5 118.5,175.9 117.9,175.0 117.4,174.0 116.9,173.0 116.5,171.8 116.1,170.5 115.9,169.5 115.8,168.0 115.7,166.5 115.7,165.0 115.9,163.5 116.1,162.5 116.5,161.0 116.8,160.0 117.1,159.0 117.5,158.0 118.0,157.0 118.5,156.0 119.0,155.0 119.7,154.0 120.3,153.0 121.0,152.1 121.5,151.4 122.3,150.5 123.0,149.6 123.6,149.0 124.5,148.0 125.0,147.4 125.9,146.5 126.5,145.8 127.3,145.0 128.0,144.2 128.6,143.5 129.5,142.5 130.0,141.8 130.6,141.0 131.3,140.0 131.9,139.0 132.4,138.0 132.9,137.0 133.1,136.0 133.4,134.5 133.4,133.0 133.2,131.5 133.0,130.5 132.6,129.0 132.2,128.0 131.9,127.0 131.5,125.9 131.0,124.5 130.6,123.5 130.3,122.5 129.9,121.5 129.5,120.3 129.1,119.0 128.8,118.0 128.5,117.0 128.1,115.5 127.8,114.5 127.5,113.1 127.3,112.0 127.0,110.5 126.9,109.5 126.7,108.0 126.5,106.5 126.5,105.5 126.4,104.0 126.4,102.5 126.5,101.0 126.5,100.0 126.7,98.5 127.0,97.0 127.2,96.0 127.5,94.9 128.0,93.5 128.4,92.5 129.0,91.5 129.5,90.7 130.0,90.0 130.9,89.0 131.5,88.4 132.5,87.6 133.5,87.0 134.5,86.5 135.5,86.0 136.5,85.7 137.5,85.4 139.0,85.0 140.0,84.8 141.5,84.6 143.0,84.6 144.5,84.6 146.0,84.7 147.5,84.9 148.5,85.1 150.0,85.5 151.0,85.8 152.0,86.1 153.0,86.5 154.1,87.0 155.2,87.5 156.2,88.0 157.1,88.5 158.0,89.0 159.0,89.6 160.0,90.3 161.0,91.0 161.7,91.5 162.5,92.1 163.5,92.9 164.2,93.5 165.0,94.2 165.9,95.0 166.5,95.6 167.3,96.5 168.0,97.4 168.5,98.1 169.0,99.0 169.5,100.1 170.0,101.5 170.2,102.5 170.3,104.0 170.4,105.5 170.4,107.0 170.2,108.5 170.1,110.0 169.9,111.0 169.7,112.5 169.5,113.6 169.2,115.0 169.0,116.0 168.6,117.5 168.4,118.5 168.0,119.8 167.7,121.0 167.4,122.0 167.0,123.4 166.7,124.5 166.4,125.5 166.0,126.9 165.7,128.0 165.4,129.0 165.0,130.5 164.8,131.5 164.5,132.7 164.2,134.0 164.0,135.5 163.9,136.5 163.8,138.0 163.8,139.5 163.8,141.0 164.0,142.3 164.2,143.5 164.5,144.9 164.8,146.0 165.0,147.0 165.5,148.5 165.8,149.5 166.2,150.5 166.5,151.5 167.0,153.0 167.3,154.0 167.6,155.0 168.0,156.5 168.1,157.5 168.2,159.0 168.1,160.5 167.9,161.5 167.5,162.5 167.0,163.5 166.3,164.5 165.5,165.5 165.0,166.0 164.1,167.0 163.5,167.6 162.6,168.5 162.0,169.0 161.0,170.0 160.4,170.5 159.5,171.3 158.7,172.0 158.0,172.5 157.0,173.3 156.2,174.0 155.5,174.5 154.5,175.2 153.5,175.9 152.7,176.5 151.9,177.0 151.0,177.6 150.0,178.2 149.0,178.7 148.0,179.3 147.0,179.8 146.0,180.3 145.0,180.7 144.0,181.1 142.9,181.5 141.5,181.9 140.5,182.2 139.0,182.5Z"/>
<path d="M201.5,177.0 200.0,177.1 198.5,177.0 197.5,176.8 196.5,176.5 196.5,175.3 197.5,174.9 199.0,174.7 200.5,174.7 202.0,174.8 203.0,175.1 203.9,176.0 203.0,176.7 201.7,177.0Z"/>
<path d="M137.0,182.1 135.5,182.2 134.0,182.3 132.5,182.2 131.0,182.1 130.0,182.0 128.5,181.7 127.5,181.4 126.3,181.0 125.1,180.5 124.1,180.0 123.3,179.5 122.5,178.9 121.5,178.1 120.9,177.5 120.0,176.6 119.5,175.9 118.9,175.0 118.3,174.0 117.8,173.0 117.5,172.0 117.1,170.5 116.9,169.5 116.7,168.0 116.7,166.5 116.8,165.0 117.0,163.6 117.2,162.5 117.5,161.5 118.0,160.1 118.5,159.0 119.0,158.0 119.5,157.0 120.0,156.2 120.5,155.4 121.1,154.5 121.9,153.5 122.5,152.8 123.2,152.0 124.0,151.2 124.7,150.5 125.5,149.7 126.3,149.0 127.0,148.4 128.0,147.5 128.6,147.0 129.5,146.3 130.4,145.5 131.0,145.0 132.0,144.2 132.8,143.5 133.5,142.8 134.4,142.0 135.0,141.4 135.8,140.5 136.5,139.7 137.0,138.9 137.5,138.0 138.0,136.8 138.2,135.5 138.2,134.0 138.0,132.8 137.6,131.5 137.2,130.5 136.7,129.5 136.3,128.5 135.7,127.5 135.2,126.5 134.7,125.5 134.1,124.5 133.6,123.5 133.1,122.5 132.6,121.5 132.2,120.5 131.7,119.5 131.3,118.5 130.9,117.5 130.5,116.4 130.0,115.0 129.7,114.0 129.4,113.0 129.0,111.5 128.8,110.5 128.5,109.0 128.4,108.0 128.2,106.5 128.1,105.0 128.1,103.5 128.1,102.0 128.2,100.5 128.3,99.0 128.5,97.9 128.8,96.5 129.1,95.5 129.5,94.5 130.0,93.4 130.5,92.5 131.1,91.5 132.0,90.5 132.5,90.0 133.5,89.1 134.4,88.5 135.3,88.0 136.4,87.5 137.5,87.1 138.5,86.8 139.8,86.5 141.0,86.3 142.5,86.2 144.0,86.2 145.5,86.3 147.0,86.5 148.0,86.7 149.0,87.0 150.5,87.5 151.5,87.9 152.5,88.3 153.5,88.8 154.5,89.3 155.5,89.9 156.4,90.5 157.1,91.0 158.0,91.7 159.0,92.5 159.6,93.0 160.5,93.8 161.3,94.5 162.0,95.2 162.7,96.0 163.5,96.8 164.0,97.5 164.8,98.5 165.4,99.5 166.0,100.5 166.4,101.5 166.7,102.5 167.0,103.8 167.2,105.0 167.2,106.5 167.2,108.0 167.1,109.5 166.9,110.5 166.7,112.0 166.5,113.0 166.2,114.5 165.9,115.5 165.5,117.0 165.2,118.0 164.9,119.0 164.5,120.2 164.0,121.5 163.7,122.5 163.3,123.5 163.0,124.5 162.5,125.8 162.0,127.0 161.7,128.0 161.3,129.0 161.0,130.0 160.5,131.4 160.1,132.5 159.9,133.5 159.5,135.0 159.4,136.0 159.2,137.5 159.2,139.0 159.3,140.5 159.5,141.8 159.7,143.0 160.0,144.0 160.4,145.5 160.8,146.5 161.1,147.5 161.5,148.7 162.0,150.0 162.3,151.0 162.6,152.0 163.0,153.2 163.3,154.5 163.5,155.5 163.7,157.0 163.6,158.5 163.5,159.5 163.0,161.0 162.6,162.0 162.1,163.0 161.5,164.0 161.0,164.7 160.5,165.5 159.7,166.5 159.0,167.4 158.5,168.0 157.7,169.0 157.0,169.8 156.4,170.5 155.5,171.4 154.9,172.0 154.0,172.9 153.4,173.5 152.5,174.3 151.6,175.0 151.0,175.5 150.0,176.3 149.1,177.0 148.3,177.5 147.5,178.0 146.5,178.7 145.5,179.2 144.5,179.7 143.5,180.2 142.5,180.6 141.4,181.0 140.0,181.4 139.0,181.7 137.5,182.0Z"/>
<path d="M135.5,181.5 134.0,181.6 132.5,181.6 131.0,181.5 130.0,181.4 128.5,181.1 127.5,180.8 126.5,180.4 125.5,180.0 124.5,179.5 123.5,178.8 122.5,178.0 121.9,177.5 121.0,176.6 120.5,176.0 119.8,175.0 119.2,174.0 118.8,173.0 118.4,172.0 118.0,170.6 117.8,169.5 117.7,168.0 117.7,166.5 117.8,165.0 118.0,164.0 118.4,162.5 118.7,161.5 119.2,160.5 119.6,159.5 120.2,158.5 120.8,157.5 121.5,156.5 122.0,155.8 122.7,155.0 123.5,154.1 124.1,153.5 125.0,152.6 125.7,152.0 126.5,151.4 127.5,150.6 128.3,150.0 129.0,149.5 130.0,148.8 131.0,148.2 132.0,147.6 133.0,147.0 133.9,146.5 134.8,146.0 135.6,145.5 136.5,145.0 137.5,144.4 138.5,143.9 139.5,143.3 140.5,142.7 141.5,142.0 142.2,141.5 143.0,140.9 144.0,140.1 144.6,139.5 145.4,138.5 145.9,137.5 146.2,136.5 146.0,135.0 145.6,134.0 145.0,133.0 144.5,132.3 143.9,131.5 143.1,130.5 142.5,129.8 141.8,129.0 141.0,128.0 140.5,127.5 139.7,126.5 139.0,125.7 138.4,125.0 137.6,124.0 137.0,123.2 136.5,122.5 135.8,121.5 135.1,120.5 134.5,119.5 134.0,118.7 133.5,117.8 133.0,116.8 132.5,115.7 132.0,114.5 131.6,113.5 131.3,112.5 130.9,111.5 130.5,110.0 130.3,109.0 130.0,107.5 129.9,106.5 129.8,105.0 129.7,103.5 129.7,102.0 129.8,100.5 130.0,99.0 130.2,98.0 130.5,96.8 131.0,95.5 131.4,94.5 132.0,93.5 132.5,92.7 133.1,92.0 134.0,91.1 134.7,90.5 135.5,89.9 136.5,89.4 137.5,88.9 138.6,88.5 140.0,88.1 141.0,87.9 142.5,87.8 144.0,87.8 145.5,87.9 146.5,88.1 148.0,88.5 149.0,88.8 150.0,89.2 151.0,89.6 152.0,90.2 153.0,90.8 154.0,91.4 154.8,92.0 155.5,92.5 156.5,93.4 157.2,94.0 158.0,94.8 158.6,95.5 159.5,96.5 160.0,97.1 160.7,98.0 161.4,99.0 162.0,100.0 162.5,100.9 163.0,102.0 163.4,103.0 163.6,104.0 163.9,105.5 164.0,106.5 164.0,108.0 164.0,109.0 163.8,110.5 163.5,112.0 163.3,113.0 163.0,114.2 162.6,115.5 162.3,116.5 162.0,117.5 161.5,118.7 161.0,120.0 160.6,121.0 160.1,122.0 159.6,123.0 159.2,124.0 158.7,125.0 158.1,126.0 157.6,127.0 157.0,128.0 156.5,128.9 156.0,129.8 155.5,130.6 155.0,131.5 154.4,132.5 153.8,133.5 153.3,134.5 152.9,135.5 152.6,137.0 152.7,138.5 153.0,139.6 153.5,140.9 154.0,142.0 154.4,143.0 154.9,144.0 155.4,145.0 155.9,146.0 156.3,147.0 156.8,148.0 157.2,149.0 157.6,150.0 158.0,151.1 158.4,152.5 158.7,153.5 158.9,155.0 159.0,156.0 159.0,157.5 158.9,158.5 158.6,160.0 158.3,161.0 157.9,162.0 157.5,163.0 157.0,164.0 156.5,165.0 156.0,166.0 155.4,167.0 154.8,168.0 154.1,169.0 153.5,169.9 153.0,170.6 152.3,171.5 151.5,172.4 151.0,173.0 150.1,174.0 149.5,174.6 148.5,175.5 147.9,176.0 147.0,176.7 146.0,177.5 145.2,178.0 144.4,178.5 143.5,179.0 142.5,179.5 141.5,180.0 140.2,180.5 139.0,180.9 138.0,181.1 136.5,181.4 135.5,181.5Z"/>
<path d="M150.0,126.1 148.5,126.1 147.5,125.9 146.1,125.5 145.0,125.0 144.1,124.5 143.2,124.0 142.5,123.5 141.5,122.8 140.5,122.0 139.9,121.5 139.0,120.7 138.3,120.0 137.5,119.1 137.0,118.5 136.2,117.5 135.5,116.5 135.0,115.7 134.5,114.8 134.0,113.9 133.5,112.9 133.0,111.7 132.6,110.5 132.3,109.5 132.0,108.5 131.7,107.0 131.5,105.8 131.4,104.5 131.3,103.0 131.4,101.5 131.5,100.2 131.7,99.0 132.0,97.8 132.4,96.5 132.9,95.5 133.5,94.5 134.0,93.7 134.6,93.0 135.5,92.2 136.4,91.5 137.2,91.0 138.2,90.5 139.5,90.0 140.5,89.7 142.0,89.5 143.0,89.4 144.4,89.5 145.5,89.6 147.0,90.0 148.0,90.3 149.0,90.7 150.0,91.2 151.0,91.8 152.0,92.5 152.7,93.0 153.5,93.6 154.4,94.5 155.0,95.1 155.8,96.0 156.5,96.8 157.0,97.5 157.7,98.5 158.3,99.5 158.8,100.5 159.3,101.5 159.7,102.5 160.1,103.5 160.5,105.0 160.6,106.0 160.7,107.5 160.7,109.0 160.5,110.5 160.4,111.5 160.0,113.0 159.7,114.0 159.4,115.0 159.0,116.0 158.5,117.1 158.0,118.1 157.5,119.1 157.0,120.0 156.3,121.0 155.6,122.0 155.0,122.8 154.3,123.5 153.5,124.3 152.6,125.0 151.8,125.5 150.5,126.0Z"/>
<path d="M134.0,181.0 132.5,181.0 131.5,181.0 130.0,180.8 128.7,180.5 127.5,180.1 126.5,179.7 125.5,179.3 124.5,178.7 123.5,178.0 122.9,177.5 122.0,176.6 121.5,176.0 120.7,175.0 120.1,174.0 119.7,173.0 119.3,172.0 119.0,171.0 118.7,169.5 118.6,168.0 118.7,166.5 118.9,165.0 119.1,164.0 119.5,162.8 120.0,161.5 120.5,160.5 121.0,159.6 121.5,158.8 122.1,158.0 122.9,157.0 123.5,156.3 124.3,155.5 125.0,154.9 126.0,154.0 126.7,153.5 127.5,152.9 128.5,152.3 129.5,151.7 130.5,151.1 131.5,150.6 132.5,150.2 133.5,149.7 134.5,149.3 135.5,149.0 136.8,148.5 138.0,148.1 139.0,147.9 140.4,147.5 141.5,147.2 142.8,147.0 144.0,146.8 145.5,146.7 147.0,146.8 148.2,147.0 149.4,147.5 150.2,148.0 151.0,148.7 151.7,149.5 152.4,150.5 152.9,151.5 153.3,152.5 153.7,153.5 154.0,154.9 154.2,156.0 154.2,157.5 154.2,159.0 154.0,160.4 153.8,161.5 153.5,162.9 153.2,164.0 152.9,165.0 152.5,166.0 152.0,167.2 151.5,168.3 151.0,169.3 150.5,170.2 150.0,171.0 149.3,172.0 148.6,173.0 148.0,173.7 147.3,174.5 146.5,175.3 145.8,176.0 145.0,176.7 144.0,177.4 143.2,178.0 142.4,178.5 141.4,179.0 140.4,179.5 139.1,180.0 138.0,180.3 137.0,180.6 135.5,180.9 134.1,181.0Z"/>
<path d="M150.0,120.1 148.5,120.4 147.0,120.4 145.5,120.1 144.5,119.9 143.5,119.5 142.5,119.0 141.5,118.5 140.5,117.8 139.5,117.0 138.9,116.5 138.0,115.6 137.4,115.0 136.6,114.0 136.0,113.1 135.5,112.3 135.0,111.4 134.5,110.3 134.0,109.0 133.7,108.0 133.4,107.0 133.1,105.5 133.0,104.1 133.0,103.0 133.0,101.7 133.1,100.5 133.4,99.0 133.7,98.0 134.1,97.0 134.6,96.0 135.3,95.0 136.0,94.2 136.7,93.5 137.5,92.9 138.5,92.3 139.5,91.8 140.5,91.5 142.0,91.2 143.5,91.1 145.0,91.3 146.0,91.5 147.4,92.0 148.5,92.5 149.4,93.0 150.1,93.5 151.0,94.2 151.9,95.0 152.5,95.6 153.3,96.5 154.0,97.5 154.5,98.2 155.0,99.1 155.5,100.0 156.0,101.1 156.5,102.4 156.8,103.5 157.1,104.5 157.3,106.0 157.4,107.5 157.3,109.0 157.1,110.5 156.9,111.5 156.5,112.7 156.0,113.9 155.5,114.9 155.0,115.8 154.5,116.5 153.7,117.5 153.0,118.2 152.1,119.0 151.3,119.5 150.1,120.0Z"/>
<path d="M136.0,180.1 134.5,180.3 133.0,180.4 131.5,180.4 130.0,180.2 129.0,180.0 127.5,179.5 126.5,179.1 125.5,178.5 124.7,178.0 124.0,177.5 123.0,176.6 122.4,176.0 121.7,175.0 121.0,174.0 120.5,173.0 120.2,172.0 119.9,171.0 119.6,169.5 119.6,168.0 119.7,166.5 120.0,165.0 120.3,164.0 120.6,163.0 121.1,162.0 121.6,161.0 122.3,160.0 123.0,159.0 123.5,158.5 124.4,157.5 125.0,156.9 126.0,156.1 126.8,155.5 127.6,155.0 128.5,154.5 129.5,153.9 130.5,153.4 131.6,153.0 133.0,152.5 134.0,152.2 135.0,151.9 136.5,151.6 137.5,151.5 139.0,151.3 140.5,151.3 142.0,151.3 143.1,151.5 144.5,151.8 145.5,152.2 146.5,152.8 147.3,153.5 148.0,154.3 148.5,155.0 149.0,156.0 149.5,157.4 149.7,158.5 150.0,160.0 150.0,161.0 150.0,162.5 149.9,163.5 149.8,165.0 149.5,166.2 149.2,167.5 148.8,168.5 148.4,169.5 148.0,170.5 147.5,171.5 146.9,172.5 146.2,173.5 145.5,174.3 144.9,175.0 144.0,175.9 143.4,176.5 142.5,177.2 141.5,177.9 140.5,178.5 139.5,179.0 138.5,179.4 137.5,179.7 136.4,180.0Z"/>
<path d="M148.5,115.5 147.0,115.9 145.5,115.9 144.0,115.7 143.0,115.5 141.8,115.0 140.9,114.5 140.0,113.9 139.0,113.1 138.4,112.5 137.5,111.5 137.0,110.8 136.5,110.0 136.0,109.0 135.5,107.8 135.1,106.5 134.9,105.5 134.6,104.0 134.6,102.5 134.7,101.0 135.0,99.6 135.4,98.5 135.8,97.5 136.4,96.5 137.0,95.7 137.7,95.0 138.5,94.4 139.5,93.8 140.5,93.3 141.8,93.0 143.0,92.9 144.5,93.0 145.5,93.2 146.5,93.6 147.5,94.0 148.5,94.7 149.5,95.5 150.0,96.0 150.9,97.0 151.5,97.8 152.0,98.6 152.5,99.5 153.0,100.6 153.5,102.0 153.7,103.0 154.0,104.5 154.1,105.5 154.1,107.0 154.0,108.0 153.7,109.5 153.3,110.5 152.9,111.5 152.3,112.5 151.5,113.5 151.0,114.0 150.0,114.8 149.0,115.3Z"/>
<path d="M135.5,179.5 134.0,179.7 132.5,179.8 131.0,179.7 129.6,179.5 128.5,179.2 127.5,178.8 126.5,178.4 125.5,177.8 124.5,177.0 123.9,176.5 123.0,175.6 122.5,174.9 121.9,174.0 121.4,173.0 121.0,171.9 120.7,170.5 120.5,169.0 120.6,167.5 120.8,166.0 121.1,165.0 121.5,163.8 122.0,162.8 122.5,161.9 123.1,161.0 123.9,160.0 124.5,159.4 125.5,158.5 126.1,158.0 127.0,157.3 128.0,156.7 129.0,156.2 130.0,155.8 131.0,155.4 132.2,155.0 133.5,154.7 134.7,154.5 136.0,154.4 137.5,154.4 139.0,154.5 140.0,154.7 141.1,155.0 142.3,155.5 143.1,156.0 144.0,156.7 144.7,157.5 145.4,158.5 145.9,159.5 146.3,160.5 146.6,161.5 146.9,163.0 147.0,164.0 147.0,165.5 147.0,166.5 146.7,168.0 146.5,169.0 146.0,170.5 145.6,171.5 145.0,172.5 144.5,173.4 144.0,174.1 143.2,175.0 142.5,175.8 141.7,176.5 141.0,177.0 140.0,177.7 139.0,178.3 138.0,178.7 137.0,179.1 135.6,179.5Z"/>
<path d="M146.5,112.0 145.0,112.3 143.5,112.3 142.3,112.0 141.1,111.5 140.3,111.0 139.5,110.4 138.7,109.5 138.0,108.6 137.5,107.8 137.0,106.7 136.6,105.5 136.4,104.5 136.2,103.0 136.3,101.5 136.5,100.5 137.0,99.0 137.5,98.0 138.0,97.3 138.7,96.5 139.5,95.8 140.5,95.3 141.5,94.9 143.0,94.7 144.5,94.8 145.5,95.1 146.5,95.6 147.5,96.3 148.3,97.0 149.0,97.8 149.5,98.5 150.0,99.5 150.5,100.6 150.9,102.0 151.1,103.0 151.2,104.5 151.1,106.0 150.9,107.0 150.5,108.1 150.0,109.1 149.4,110.0 148.5,110.9 147.7,111.5 146.6,112.0Z"/>
<path d="M134.5,179.0 133.0,179.2 131.5,179.2 130.1,179.0 129.0,178.7 128.0,178.4 127.0,177.9 126.0,177.3 125.0,176.6 124.3,176.0 123.5,175.0 123.0,174.3 122.5,173.5 122.0,172.3 121.6,171.0 121.5,170.0 121.4,168.5 121.5,167.5 121.8,166.0 122.2,165.0 122.6,164.0 123.2,163.0 123.9,162.0 124.5,161.3 125.3,160.5 126.0,159.9 127.0,159.2 128.0,158.6 129.0,158.1 130.0,157.7 131.0,157.3 132.5,157.0 133.5,156.9 135.0,156.8 136.5,156.9 137.5,157.1 138.9,157.5 140.0,158.0 140.8,158.5 141.5,159.1 142.4,160.0 143.0,160.8 143.5,161.6 144.0,162.7 144.4,164.0 144.6,165.0 144.8,166.5 144.7,168.0 144.5,169.5 144.2,170.5 143.9,171.5 143.4,172.5 142.9,173.5 142.2,174.5 141.5,175.3 140.8,176.0 140.0,176.6 139.0,177.3 138.0,177.9 137.0,178.3 136.0,178.7 134.7,179.0Z"/>
<path d="M145.0,109.2 143.5,109.4 142.0,109.1 141.0,108.6 140.1,108.0 139.5,107.3 138.9,106.5 138.4,105.5 138.0,104.0 137.9,103.0 138.0,101.5 138.2,100.5 138.6,99.5 139.2,98.5 140.0,97.7 141.0,97.0 142.0,96.7 143.5,96.5 145.0,96.9 146.0,97.5 146.6,98.0 147.5,99.0 148.0,100.0 148.4,101.0 148.6,102.0 148.7,103.5 148.5,105.0 148.2,106.0 147.7,107.0 147.0,107.9 146.3,108.5 145.4,109.0Z"/>
<path d="M133.5,178.5 132.0,178.6 130.9,178.5 129.5,178.2 128.5,177.9 127.5,177.5 126.5,176.9 125.5,176.1 124.8,175.5 124.0,174.5 123.5,173.7 123.0,172.7 122.6,171.5 122.4,170.5 122.3,169.0 122.5,167.5 122.7,166.5 123.1,165.5 123.6,164.5 124.2,163.5 125.0,162.5 125.5,162.0 126.5,161.2 127.5,160.5 128.4,160.0 129.5,159.6 130.5,159.2 131.6,159.0 133.0,158.8 134.5,158.9 135.5,159.0 137.0,159.4 138.0,159.8 139.0,160.4 139.8,161.0 140.5,161.7 141.2,162.5 141.8,163.5 142.3,164.5 142.6,165.5 142.9,167.0 143.0,168.5 142.8,170.0 142.5,171.3 142.0,172.5 141.5,173.5 141.0,174.2 140.4,175.0 139.5,175.9 138.7,176.5 138.0,177.0 137.0,177.5 135.9,178.0 134.5,178.4 133.5,178.5Z"/>
<path d="M144.0,106.7 142.5,106.7 141.5,106.3 140.6,105.5 140.0,104.5 139.7,103.5 139.7,102.0 140.0,100.7 140.5,99.9 141.4,99.0 142.5,98.6 143.1,98.5 144.5,98.9 145.3,99.5 146.0,100.4 146.4,101.5 146.6,102.5 146.5,103.6 146.0,105.0 145.5,105.7 144.5,106.5Z"/>
<path d="M134.5,177.6 133.0,177.9 131.5,177.9 130.0,177.6 129.0,177.4 128.0,176.9 127.0,176.4 126.0,175.6 125.4,175.0 124.6,174.0 124.0,173.0 123.6,172.0 123.4,171.0 123.2,169.5 123.4,168.0 123.6,167.0 124.0,166.0 124.5,165.0 125.3,164.0 126.0,163.2 126.9,162.5 127.6,162.0 128.5,161.5 129.8,161.0 131.0,160.7 132.5,160.5 134.0,160.6 135.5,161.0 136.5,161.3 137.5,161.9 138.4,162.5 139.0,163.0 139.8,164.0 140.5,165.0 140.9,166.0 141.2,167.0 141.5,168.5 141.4,170.0 141.1,171.5 140.8,172.5 140.2,173.5 139.5,174.5 139.0,175.1 138.0,176.0 137.2,176.5 136.3,177.0 135.0,177.5Z"/>
<path d="M134.5,176.6 133.0,176.9 131.5,177.0 130.0,176.7 129.0,176.4 128.0,175.9 127.0,175.2 126.3,174.5 125.5,173.5 125.0,172.6 124.6,171.5 124.4,170.5 124.4,169.0 124.6,168.0 125.0,166.7 125.5,165.8 126.1,165.0 127.0,164.1 127.8,163.5 128.7,163.0 130.0,162.5 131.0,162.3 132.5,162.2 134.0,162.4 135.0,162.6 136.0,163.1 137.0,163.7 137.9,164.5 138.5,165.1 139.1,166.0 139.5,167.0 139.9,168.5 140.0,169.5 140.0,170.5 139.6,172.0 139.1,173.0 138.5,173.9 138.0,174.5 137.0,175.4 136.1,176.0 135.0,176.5Z"/>
</g>
<g fill="#3a3a3a">
<rect x="95" y="131" width="1" height="1"/>
<rect x="217" y="199" width="1" height="1"/>
<rect x="180" y="74" width="1" height="1"/>
<rect x="143" y="200" width="1" height="1"/>
<rect x="111" y="99" width="1" height="1"/>
<rect x="212" y="116" width="1" height="1"/>
<rect x="202" y="190" width="1" height="1"/>
<rect x="112" y="114" width="1" height="1"/>
<rect x="197" y="138" width="1" height="1"/>
<rect x="167" y="63" width="1" height="1"/>
<rect x="232" y="181" width="1" height="1"/>
<rect x="195" y="136" width="1" height="1"/>
<rect x="205" y="101" width="1" height="1"/>
<rect x="94" y="189" width="1" height="1"/>
<rect x="202" y="98" width="1" height="1"/>
<rect x="203" y="121" width="1" height="1"/>
<rect x="172" y="73" width="1" height="1"/>
<rect x="195" y="113" width="1" height="1"/>
<rect x="194" y="82" width="1" height="1"/>
<rect x="112" y="91" width="1" height="1"/>
<rect x="233" y="180" width="1" height="1"/>
<rect x="210" y="94" width="1" height="1"/>
<rect x="198" y="126" width="1" height="1"/>
<rect x="123" y="207" width="1" height="1"/>
<rect x="126" y="202" width="1" height="1"/>
<rect x="95" y="172" width="1" height="1"/>
<rect x="197" y="137" width="1" height="1"/>
<rect x="204" y="93" width="1" height="1"/>
<rect x="183" y="77" width="1" height="1"/>
<rect x="124" y="204" width="1" height="1"/>
<rect x="194" y="132" width="1" height="1"/>
<rect x="157" y="72" width="1" height="1"/>
<rect x="220" y="149" width="1" height="1"/>
<rect x="120" y="187" width="1" height="1"/>
<rect x="100" y="148" width="1" height="1"/>
<rect x="169" y="195" width="1" height="1"/>
<rect x="153" y="65" width="1" height="1"/>
<rect x="98" y="134" width="1" height="1"/>
<rect x="202" y="122" width="1" height="1"/>
<rect x="168" y="68" width="1" height="1"/>
<rect x="93" y="152" width="1" height="1"/>
<rect x="213" y="191" width="1" height="1"/>
<rect x="199" y="145" width="1" height="1"/>
<rect x="199" y="91" width="1" height="1"/>
<rect x="200" y="191" width="1" height="1"/>
<rect x="110" y="131" width="1" height="1"/>
<rect x="199" y="131" width="1" height="1"/>
<rect x="109" y="181" width="1" height="1"/>
<rect x="123" y="75" width="1" height="1"/>
<rect x="124" y="190" width="1" height="1"/>
<rect x="224" y="159" width="1" height="1"/>
<rect x="224" y="188" width="1" height="1"/>
<rect x="107" y="81" width="1" height="1"/>
<rect x="182" y="189" width="1" height="1"/>
<rect x="228" y="80" width="1" height="1"/>
<rect x="197" y="70" width="1" height="1"/>
<rect x="122" y="192" width="1" height="1"/>
<rect x="200" y="192" width="1" height="1"/>
<rect x="157" y="192" width="1" height="1"/>
<rect x="98" y="125" width="1" height="1"/>
<rect x="212" y="93" width="1" height="1"/>
<rect x="152" y="58" width="1" height="1"/>
<rect x="208" y="152" width="1" height="1"/>
<rect x="234" y="170" width="1" height="1"/>
<rect x="154" y="191" width="1" height="1"/>
<rect x="112" y="94" width="1" height="1"/>
<rect x="109" y="84" width="1" height="1"/>
<rect x="207" y="152" width="1" height="1"/>
<rect x="231" y="189" width="1" height="1"/>
<rect x="104" y="202" width="1" height="1"/>
<rect x="216" y="75" width="1" height="1"/>
<rect x="197" y="126" width="1" height="1"/>
<rect x="202" y="194" width="1" height="1"/>
<rect x="200" y="116" width="1" height="1"/>
<rect x="199" y="144" width="1" height="1"/>
<rect x="149" y="63" width="1" height="1"/>
<rect x="105" y="157" width="1" height="1"/>
<rect x="210" y="196" width="1" height="1"/>
<rect x="195" y="190" width="1" height="1"/>
<rect x="172" y="193" width="1" height="1"/>
<rect x="104" y="155" width="1" height="1"/>
<rect x="111" y="89" width="1" height="1"/>
<rect x="233" y="185" width="1" height="1"/>
<rect x="105" y="84" width="1" height="1"/>
<rect x="230" y="190" width="1" height="1"/>
<rect x="176" y="68" width="1" height="1"/>
<rect x="184" y="190" width="1" height="1"/>
<rect x="185" y="77" width="1" height="1"/>
<rect x="201" y="108" width="1" height="1"/>
<rect x="206" y="99" width="1" height="1"/>
<rect x="227" y="161" width="1" height="1"/>
<rect x="116" y="79" width="1" height="1"/>
<rect x="111" y="112" width="1" height="1"/>
<rect x="108" y="57" width="1" height="1"/>
<rect x="195" y="92" width="1" height="1"/>
<rect x="109" y="116" width="1" height="1"/>
<rect x="122" y="71" width="1" height="1"/>
<rect x="210" y="151" width="1" height="1"/>
<rect x="111" y="109" width="1" height="1"/>
<rect x="106" y="172" width="1" height="1"/>
<rect x="237" y="153" width="1" height="1"/>
<rect x="195" y="117" width="1" height="1"/>
<rect x="152" y="192" width="1" height="1"/>
<rect x="204" y="151" width="1" height="1"/>
<rect x="156" y="189" width="1" height="1"/>
<rect x="196" y="103" width="1" height="1"/>
<rect x="194" y="137" width="1" height="1"/>
<rect x="191" y="81" width="1" height="1"/>
<rect x="101" y="219" width="1" height="1"/>
<rect x="196" y="89" width="1" height="1"/>
<rect x="199" y="91" width="1" height="1"/>
<rect x="159" y="69" width="1" height="1"/>
<rect x="225" y="90" width="1" height="1"/>
<rect x="101" y="184" width="1" height="1"/>
<rect x="104" y="163" width="1" height="1"/>
<rect x="170" y="73" width="1" height="1"/>
<rect x="98" y="109" width="1" height="1"/>
<rect x="105" y="116" width="1" height="1"/>
<rect x="227" y="155" width="1" height="1"/>
<rect x="197" y="121" width="1" height="1"/>
<rect x="201" y="144" width="1" height="1"/>
<rect x="199" y="190" width="1" height="1"/>
<rect x="102" y="173" width="1" height="1"/>
<rect x="199" y="107" width="1" height="1"/>
<rect x="104" y="120" width="1" height="1"/>
<rect x="195" y="107" width="1" height="1"/>
<rect x="160" y="71" width="1" height="1"/>
<rect x="193" y="82" width="1" height="1"/>
<rect x="215" y="95" width="1" height="1"/>
<rect x="96" y="99" width="1" height="1"/>
<rect x="201" y="99" width="1" height="1"/>
<rect x="201" y="142" width="1" height="1"/>
<rect x="120" y="205" width="1" height="1"/>
<rect x="122" y="187" width="1" height="1"/>
<rect x="161" y="189" width="1" height="1"/>
<rect x="241" y="182" width="1" height="1"/>
<rect x="205" y="145" width="1" height="1"/>
<rect x="179" y="196" width="1" height="1"/>
<rect x="230" y="161" width="1" height="1"/>
<rect x="228" y="129" width="1" height="1"/>
<rect x="132" y="70" width="1" height="1"/>
<rect x="202" y="127" width="1" height="1"/>
<rect x="192" y="84" width="1" height="1"/>
<rect x="123" y="74" width="1" height="1"/>
<rect x="240" y="130" width="1" height="1"/>
<rect x="168" y="188" width="1" height="1"/>
<rect x="111" y="96" width="1" height="1"/>
<rect x="237" y="185" width="1" height="1"/>
<rect x="222" y="133" width="1" height="1"/>
<rect x="185" y="75" width="1" height="1"/>
<rect x="189" y="202" width="1" height="1"/>
<rect x="222" y="112" width="1" height="1"/>
<rect x="112" y="96" width="1" height="1"/>
<rect x="152" y="191" width="1" height="1"/>
<rect x="183" y="72" width="1" height="1"/>
<rect x="239" y="175" width="1" height="1"/>
<rect x="223" y="80" width="1" height="1"/>
<rect x="104" y="111" width="1" height="1"/>
<rect x="108" y="87" width="1" height="1"/>
<rect x="211" y="191" width="1" height="1"/>
<rect x="111" y="111" width="1" height="1"/>
<rect x="225" y="205" width="1" height="1"/>
<rect x="203" y="149" width="1" height="1"/>
<rect x="237" y="162" width="1" height="1"/>
<rect x="193" y="133" width="1" height="1"/>
<rect x="195" y="99" width="1" height="1"/>
<rect x="101" y="112" width="1" height="1"/>
<rect x="227" y="198" width="1" height="1"/>
<rect x="210" y="82" width="1" height="1"/>
<rect x="147" y="211" width="1" height="1"/>
<rect x="112" y="183" width="1" height="1"/>
<rect x="99" y="106" width="1" height="1"/>
<rect x="101" y="152" width="1" height="1"/>
<rect x="196" y="109" width="1" height="1"/>
<rect x="199" y="110" width="1" height="1"/>
<rect x="110" y="130" width="1" height="1"/>
<rect x="176" y="61" width="1" height="1"/>
<rect x="196" y="128" width="1" height="1"/>
<rect x="109" y="205" width="1" height="1"/>
<rect x="195" y="95" width="1" height="1"/>
<rect x="109" y="180" width="1" height="1"/>
<rect x="110" y="119" width="1" height="1"/>
<rect x="115" y="84" width="1" height="1"/>
<rect x="147" y="194" width="1" height="1"/>
<rect x="185" y="61" width="1" height="1"/>
<rect x="207" y="97" width="1" height="1"/>
<rect x="164" y="226" width="1" height="1"/>
<rect x="112" y="92" width="1" height="1"/>
<rect x="179" y="191" width="1" height="1"/>
<rect x="102" y="147" width="1" height="1"/>
<rect x="115" y="190" width="1" height="1"/>
<rect x="215" y="150" width="1" height="1"/>
<rect x="219" y="106" width="1" height="1"/>
<rect x="234" y="183" width="1" height="1"/>
<rect x="132" y="64" width="1" height="1"/>
<rect x="196" y="120" width="1" height="1"/>
<rect x="201" y="108" width="1" height="1"/>
<rect x="206" y="125" width="1" height="1"/>
<rect x="127" y="73" width="1" height="1"/>
<rect x="113" y="85" width="1" height="1"/>
<rect x="216" y="140" width="1" height="1"/>
<rect x="198" y="110" width="1" height="1"/>
<rect x="165" y="189" width="1" height="1"/>
<rect x="222" y="146" width="1" height="1"/>
<rect x="199" y="192" width="1" height="1"/>
<rect x="99" y="174" width="1" height="1"/>
<rect x="91" y="146" width="1" height="1"/>
<rect x="104" y="96" width="1" height="1"/>
<rect x="104" y="188" width="1" height="1"/>
<rect x="221" y="90" width="1" height="1"/>
<rect x="205" y="69" width="1" height="1"/>
<rect x="194" y="202" width="1" height="1"/>
<rect x="108" y="137" width="1" height="1"/>
<rect x="113" y="186" width="1" height="1"/>
<rect x="110" y="134" width="1" height="1"/>
<rect x="206" y="148" width="1" height="1"/>
<rect x="189" y="64" width="1" height="1"/>
<rect x="194" y="80" width="1" height="1"/>
<rect x="225" y="158" width="1" height="1"/>
<rect x="202" y="142" width="1" height="1"/>
<rect x="207" y="76" width="1" height="1"/>
<rect x="159" y="200" width="1" height="1"/>
<rect x="202" y="75" width="1" height="1"/>
<rect x="193" y="131" width="1" height="1"/>
<rect x="178" y="75" width="1" height="1"/>
<rect x="100" y="170" width="1" height="1"/>
<rect x="198" y="93" width="1" height="1"/>
<rect x="173" y="73" width="1" height="1"/>
<rect x="128" y="67" width="1" height="1"/>
<rect x="116" y="78" width="1" height="1"/>
<rect x="110" y="81" width="1" height="1"/>
<rect x="104" y="136" width="1" height="1"/>
<rect x="221" y="120" width="1" height="1"/>
<rect x="152" y="201" width="1" height="1"/>
<rect x="129" y="200" width="1" height="1"/>
<rect x="117" y="189" width="1" height="1"/>
<rect x="217" y="157" width="1" height="1"/>
<rect x="131" y="191" width="1" height="1"/>
<rect x="151" y="198" width="1" height="1"/>
<rect x="167" y="63" width="1" height="1"/>
<rect x="178" y="72" width="1" height="1"/>
<rect x="108" y="106" width="1" height="1"/>
<rect x="157" y="70" width="1" height="1"/>
<rect x="197" y="146" width="1" height="1"/>
<rect x="202" y="91" width="1" height="1"/>
<rect x="223" y="92" width="1" height="1"/>
<rect x="111" y="96" width="1" height="1"/>
<rect x="123" y="71" width="1" height="1"/>
<rect x="235" y="177" width="1" height="1"/>
<rect x="228" y="153" width="1" height="1"/>
<rect x="197" y="147" width="1" height="1"/>
<rect x="199" y="64" width="1" height="1"/>
<rect x="209" y="117" width="1" height="1"/>
<rect x="223" y="160" width="1" height="1"/>
<rect x="122" y="76" width="1" height="1"/>
<rect x="218" y="110" width="1" height="1"/>
<rect x="141" y="62" width="1" height="1"/>
<rect x="213" y="70" width="1" height="1"/>
<rect x="193" y="85" width="1" height="1"/>
<rect x="103" y="115" width="1" height="1"/>
<rect x="105" y="123" width="1" height="1"/>
<rect x="154" y="193" width="1" height="1"/>
<rect x="205" y="100" width="1" height="1"/>
<rect x="120" y="62" width="1" height="1"/>
<rect x="191" y="190" width="1" height="1"/>
<rect x="159" y="68" width="1" height="1"/>
<rect x="151" y="70" width="1" height="1"/>
<rect x="211" y="202" width="1" height="1"/>
<rect x="112" y="181" width="1" height="1"/>
<rect x="110" y="103" width="1" height="1"/>
<rect x="118" y="74" width="1" height="1"/>
<rect x="110" y="111" width="1" height="1"/>
<rect x="200" y="103" width="1" height="1"/>
<rect x="126" y="192" width="1" height="1"/>
<rect x="194" y="116" width="1" height="1"/>
<rect x="232" y="69" width="1" height="1"/>
<rect x="162" y="197" width="1" height="1"/>
<rect x="206" y="149" width="1" height="1"/>
<rect x="163" y="72" width="1" height="1"/>
<rect x="109" y="72" width="1" height="1"/>
<rect x="236" y="123" width="1" height="1"/>
<rect x="144" y="71" width="1" height="1"/>
<rect x="107" y="151" width="1" height="1"/>
<rect x="225" y="148" width="1" height="1"/>
<rect x="133" y="65" width="1" height="1"/>
<rect x="133" y="190" width="1" height="1"/>
<rect x="182" y="188" width="1" height="1"/>
<rect x="117" y="196" width="1" height="1"/>
<rect x="235" y="157" width="1" height="1"/>
<rect x="225" y="162" width="1" height="1"/>
<rect x="117" y="77" width="1" height="1"/>
<rect x="128" y="63" width="1" height="1"/>
<rect x="137" y="69" width="1" height="1"/>
<rect x="158" y="202" width="1" height="1"/>
<rect x="208" y="152" width="1" height="1"/>
<rect x="199" y="199" width="1" height="1"/>
<rect x="206" y="104" width="1" height="1"/>
<rect x="232" y="182" width="1" height="1"/>
<rect x="135" y="69" width="1" height="1"/>
<rect x="208" y="77" width="1" height="1"/>
<rect x="208" y="93" width="1" height="1"/>
<rect x="213" y="138" width="1" height="1"/>
<rect x="191" y="140" width="1" height="1"/>
<rect x="194" y="129" width="1" height="1"/>
<rect x="110" y="117" width="1" height="1"/>
<rect x="193" y="142" width="1" height="1"/>
<rect x="164" y="203" width="1" height="1"/>
<rect x="193" y="122" width="1" height="1"/>
<rect x="177" y="191" width="1" height="1"/>
<rect x="146" y="68" width="1" height="1"/>
<rect x="215" y="110" width="1" height="1"/>
<rect x="193" y="140" width="1" height="1"/>
<rect x="96" y="149" width="1" height="1"/>
<rect x="197" y="89" width="1" height="1"/>
<rect x="110" y="113" width="1" height="1"/>
<rect x="203" y="199" width="1" height="1"/>
<rect x="209" y="153" width="1" height="1"/>
<rect x="108" y="144" width="1" height="1"/>
<rect x="133" y="69" width="1" height="1"/>
<rect x="162" y="67" width="1" height="1"/>
<rect x="225" y="83" width="1" height="1"/>
<rect x="120" y="74" width="1" height="1"/>
<rect x="192" y="208" width="1" height="1"/>
<rect x="130" y="55" width="1" height="1"/>
<rect x="211" y="107" width="1" height="1"/>
<rect x="207" y="68" width="1" height="1"/>
<rect x="211" y="151" width="1" height="1"/>
<rect x="139" y="67" width="1" height="1"/>
<rect x="179" y="69" width="1" height="1"/>
<rect x="164" y="70" width="1" height="1"/>
<rect x="108" y="93" width="1" height="1"/>
<rect x="198" y="142" width="1" height="1"/>
<rect x="241" y="189" width="1" height="1"/>
<rect x="204" y="92" width="1" height="1"/>
<rect x="201" y="95" width="1" height="1"/>
<rect x="172" y="190" width="1" height="1"/>
<rect x="242" y="179" width="1" height="1"/>
<rect x="121" y="73" width="1" height="1"/>
<rect x="120" y="190" width="1" height="1"/>
<rect x="231" y="190" width="1" height="1"/>
<rect x="109" y="79" width="1" height="1"/>
<rect x="217" y="149" width="1" height="1"/>
<rect x="193" y="81" width="1" height="1"/>
<rect x="197" y="88" width="1" height="1"/>
<rect x="200" y="128" width="1" height="1"/>
<rect x="199" y="133" width="1" height="1"/>
<rect x="195" y="126" width="1" height="1"/>
<rect x="196" y="137" width="1" height="1"/>
<rect x="194" y="84" width="1" height="1"/>
<rect x="108" y="188" width="1" height="1"/>
<rect x="104" y="94" width="1" height="1"/>
<rect x="189" y="195" width="1" height="1"/>
<rect x="109" y="132" width="1" height="1"/>
<rect x="212" y="97" width="1" height="1"/>
<rect x="112" y="78" width="1" height="1"/>
<rect x="197" y="126" width="1" height="1"/>
<rect x="102" y="109" width="1" height="1"/>
<rect x="213" y="149" width="1" height="1"/>
<rect x="111" y="129" width="1" height="1"/>
<rect x="179" y="65" width="1" height="1"/>
<rect x="130" y="191" width="1" height="1"/>
<rect x="152" y="67" width="1" height="1"/>
<rect x="201" y="190" width="1" height="1"/>
<rect x="181" y="189" width="1" height="1"/>
<rect x="210" y="196" width="1" height="1"/>
<rect x="218" y="155" width="1" height="1"/>
<rect x="183" y="77" width="1" height="1"/>
<rect x="223" y="119" width="1" height="1"/>
<rect x="107" y="119" width="1" height="1"/>
<rect x="205" y="150" width="1" height="1"/>
<rect x="197" y="110" width="1" height="1"/>
<rect x="104" y="158" width="1" height="1"/>
<rect x="198" y="83" width="1" height="1"/>
<rect x="100" y="105" width="1" height="1"/>
<rect x="192" y="137" width="1" height="1"/>
<rect x="111" y="117" width="1" height="1"/>
<rect x="164" y="73" width="1" height="1"/>
<rect x="107" y="203" width="1" height="1"/>
<rect x="227" y="161" width="1" height="1"/>
<rect x="129" y="190" width="1" height="1"/>
<rect x="111" y="106" width="1" height="1"/>
<rect x="117" y="199" width="1" height="1"/>
<rect x="178" y="190" width="1" height="1"/>
<rect x="131" y="207" width="1" height="1"/>
<rect x="199" y="82" width="1" height="1"/>
<rect x="210" y="125" width="1" height="1"/>
<rect x="230" y="110" width="1" height="1"/>
<rect x="198" y="148" width="1" height="1"/>
<rect x="198" y="90" width="1" height="1"/>
<rect x="148" y="71" width="1" height="1"/>
<rect x="198" y="125" width="1" height="1"/>
<rect x="208" y="151" width="1" height="1"/>
<rect x="195" y="110" width="1" height="1"/>
<rect x="158" y="211" width="1" height="1"/>
<rect x="112" y="114" width="1" height="1"/>
<rect x="202" y="97" width="1" height="1"/>
<rect x="191" y="189" width="1" height="1"/>
<rect x="111" y="124" width="1" height="1"/>
<rect x="199" y="93" width="1" height="1"/>
<rect x="202" y="95" width="1" height="1"/>
<rect x="208" y="199" width="1" height="1"/>
<rect x="131" y="202" width="1" height="1"/>
<rect x="211" y="152" width="1" height="1"/>
<rect x="112" y="94" width="1" height="1"/>
<rect x="103" y="167" width="1" height="1"/>
<rect x="195" y="85" width="1" height="1"/>
<rect x="196" y="100" width="1" height="1"/>
<rect x="207" y="136" width="1" height="1"/>
<rect x="205" y="112" width="1" height="1"/>
<rect x="111" y="105" width="1" height="1"/>
<rect x="176" y="205" width="1" height="1"/>
<rect x="227" y="77" width="1" height="1"/>
<rect x="197" y="148" width="1" height="1"/>
<rect x="131" y="66" width="1" height="1"/>
<rect x="140" y="71" width="1" height="1"/>
<rect x="194" y="83" width="1" height="1"/>
<rect x="118" y="213" width="1" height="1"/>
<rect x="100" y="172" width="1" height="1"/>
<rect x="162" y="192" width="1" height="1"/>
<rect x="105" y="67" width="1" height="1"/>
<rect x="226" y="159" width="1" height="1"/>
<rect x="111" y="119" width="1" height="1"/>
<rect x="198" y="115" width="1" height="1"/>
<rect x="104" y="167" width="1" height="1"/>
<rect x="110" y="99" width="1" height="1"/>
<rect x="196" y="131" width="1" height="1"/>
<rect x="209" y="91" width="1" height="1"/>
<rect x="202" y="111" width="1" height="1"/>
<rect x="203" y="135" width="1" height="1"/>
<rect x="192" y="76" width="1" height="1"/>
<rect x="197" y="93" width="1" height="1"/>
<rect x="218" y="115" width="1" height="1"/>
<rect x="193" y="125" width="1" height="1"/>
<rect x="160" y="189" width="1" height="1"/>
<rect x="210" y="152" width="1" height="1"/>
<rect x="99" y="141" width="1" height="1"/>
<rect x="191" y="192" width="1" height="1"/>
<rect x="198" y="81" width="1" height="1"/>
<rect x="189" y="71" width="1" height="1"/>
<rect x="196" y="112" width="1" height="1"/>
<rect x="114" y="74" width="1" height="1"/>
<rect x="210" y="139" width="1" height="1"/>
<rect x="201" y="142" width="1" height="1"/>
<rect x="107" y="74" width="1" height="1"/>
<rect x="103" y="169" width="1" height="1"/>
<rect x="99" y="140" width="1" height="1"/>
<rect x="208" y="116" width="1" height="1"/>
<rect x="173" y="196" width="1" height="1"/>
<rect x="132" y="191" width="1" height="1"/>
<rect x="205" y="85" width="1" height="1"/>
<rect x="94" y="78" width="1" height="1"/>
<rect x="125" y="195" width="1" height="1"/>
<rect x="186" y="76" width="1" height="1"/>
<rect x="235" y="182" width="1" height="1"/>
<rect x="197" y="99" width="1" height="1"/>
<rect x="196" y="106" width="1" height="1"/>
<rect x="102" y="139" width="1" height="1"/>
<rect x="140" y="196" width="1" height="1"/>
<rect x="132" y="55" width="1" height="1"/>
<rect x="202" y="76" width="1" height="1"/>
<rect x="89" y="171" width="1" height="1"/>
<rect x="201" y="111" width="1" height="1"/>
<rect x="107" y="95" width="1" height="1"/>
<rect x="195" y="202" width="1" height="1"/>
<rect x="209" y="91" width="1" height="1"/>
<rect x="93" y="169" width="1" height="1"/>
<rect x="145" y="202" width="1" height="1"/>
<rect x="237" y="184" width="1" height="1"/>
<rect x="92" y="167" width="1" height="1"/>
<rect x="86" y="171" width="1" height="1"/>
<rect x="233" y="189" width="1" height="1"/>
<rect x="234" y="92" width="1" height="1"/>
<rect x="213" y="149" width="1" height="1"/>
<rect x="186" y="189" width="1" height="1"/>
<rect x="212" y="193" width="1" height="1"/>
<rect x="164" y="195" width="1" height="1"/>
<rect x="123" y="195" width="1" height="1"/>
<rect x="122" y="71" width="1" height="1"/>
<rect x="104" y="109" width="1" height="1"/>
<rect x="202" y="122" width="1" height="1"/>
<rect x="148" y="193" width="1" height="1"/>
<rect x="197" y="115" width="1" height="1"/>
<rect x="108" y="92" width="1" height="1"/>
<rect x="141" y="62" width="1" height="1"/>
<rect x="195" y="96" width="1" height="1"/>
<rect x="174" y="187" width="1" height="1"/>
<rect x="154" y="62" width="1" height="1"/>
<rect x="188" y="77" width="1" height="1"/>
<rect x="102" y="99" width="1" height="1"/>
<rect x="111" y="135" width="1" height="1"/>
<rect x="102" y="107" width="1" height="1"/>
<rect x="123" y="193" width="1" height="1"/>
<rect x="201" y="83" width="1" height="1"/>
<rect x="204" y="140" width="1" height="1"/>
<rect x="232" y="187" width="1" height="1"/>
<rect x="107" y="197" width="1" height="1"/>
<rect x="238" y="192" width="1" height="1"/>
<rect x="186" y="74" width="1" height="1"/>
<rect x="166" y="188" width="1" height="1"/>
<rect x="98" y="158" width="1" height="1"/>
<rect x="111" y="116" width="1" height="1"/>
<rect x="202" y="63" width="1" height="1"/>
<rect x="120" y="77" width="1" height="1"/>
<rect x="104" y="180" width="1" height="1"/>
<rect x="136" y="70" width="1" height="1"/>
<rect x="198" y="99" width="1" height="1"/>
<rect x="108" y="90" width="1" height="1"/>
<rect x="98" y="179" width="1" height="1"/>
<rect x="205" y="106" width="1" height="1"/>
<rect x="169" y="70" width="1" height="1"/>
<rect x="110" y="108" width="1" height="1"/>
<rect x="213" y="101" width="1" height="1"/>
<rect x="238" y="169" width="1" height="1"/>
<rect x="209" y="100" width="1" height="1"/>
<rect x="237" y="162" width="1" height="1"/>
<rect x="199" y="136" width="1" height="1"/>
<rect x="206" y="193" width="1" height="1"/>
<rect x="235" y="174" width="1" height="1"/>
<rect x="216" y="113" width="1" height="1"/>
<rect x="195" y="126" width="1" height="1"/>
<rect x="209" y="124" width="1" height="1"/>
<rect x="210" y="192" width="1" height="1"/>
<rect x="122" y="74" width="1" height="1"/>
<rect x="109" y="117" width="1" height="1"/>
<rect x="191" y="136" width="1" height="1"/>
<rect x="103" y="119" width="1" height="1"/>
<rect x="230" y="146" width="1" height="1"/>
<rect x="194" y="129" width="1" height="1"/>
<rect x="202" y="115" width="1" height="1"/>
<rect x="221" y="161" width="1" height="1"/>
<rect x="200" y="101" width="1" height="1"/>
<rect x="199" y="147" width="1" height="1"/>
<rect x="232" y="173" width="1" height="1"/>
<rect x="192" y="73" width="1" height="1"/>
<rect x="205" y="101" width="1" height="1"/>
<rect x="102" y="199" width="1" height="1"/>
<rect x="125" y="203" width="1" height="1"/>
<rect x="144" y="214" width="1" height="1"/>
<rect x="138" y="66" width="1" height="1"/>
<rect x="193" y="190" width="1" height="1"/>
<rect x="163" y="198" width="1" height="1"/>
<rect x="210" y="194" width="1" height="1"/>
<rect x="229" y="168" width="1" height="1"/>
<rect x="103" y="158" width="1" height="1"/>
<rect x="231" y="170" width="1" height="1"/>
<rect x="101" y="142" width="1" height="1"/>
<rect x="93" y="189" width="1" height="1"/>
<rect x="195" y="129" width="1" height="1"/>
<rect x="113" y="86" width="1" height="1"/>
<rect x="165" y="70" width="1" height="1"/>
<rect x="213" y="194" width="1" height="1"/>
<rect x="112" y="181" width="1" height="1"/>
<rect x="209" y="78" width="1" height="1"/>
<rect x="151" y="190" width="1" height="1"/>
<rect x="213" y="97" width="1" height="1"/>
<rect x="205" y="151" width="1" height="1"/>
<rect x="214" y="106" width="1" height="1"/>
<rect x="203" y="84" width="1" height="1"/>
<rect x="187" y="79" width="1" height="1"/>
<rect x="133" y="69" width="1" height="1"/>
<rect x="180" y="69" width="1" height="1"/>
<rect x="200" y="68" width="1" height="1"/>
<rect x="122" y="70" width="1" height="1"/>
<rect x="139" y="190" width="1" height="1"/>
<rect x="107" y="132" width="1" height="1"/>
<rect x="169" y="73" width="1" height="1"/>
<rect x="200" y="133" width="1" height="1"/>
<rect x="106" y="137" width="1" height="1"/>
<rect x="197" y="128" width="1" height="1"/>
<rect x="192" y="83" width="1" height="1"/>
<rect x="195" y="118" width="1" height="1"/>
<rect x="201" y="192" width="1" height="1"/>
<rect x="112" y="110" width="1" height="1"/>
<rect x="111" y="130" width="1" height="1"/>
<rect x="135" y="197" width="1" height="1"/>
<rect x="114" y="87" width="1" height="1"/>
<rect x="231" y="172" width="1" height="1"/>
<rect x="109" y="127" width="1" height="1"/>
<rect x="226" y="188" width="1" height="1"/>
<rect x="235" y="106" width="1" height="1"/>
<rect x="98" y="137" width="1" height="1"/>
<rect x="198" y="108" width="1" height="1"/>
<rect x="137" y="192" width="1" height="1"/>
<rect x="236" y="195" width="1" height="1"/>
<rect x="202" y="150" width="1" height="1"/>
<rect x="152" y="207" width="1" height="1"/>
<rect x="239" y="174" width="1" height="1"/>
<rect x="221" y="190" width="1" height="1"/>
<rect x="202" y="193" width="1" height="1"/>
<rect x="109" y="93" width="1" height="1"/>
<rect x="177" y="210" width="1" height="1"/>
<rect x="195" y="111" width="1" height="1"/>
<rect x="209" y="129" width="1" height="1"/>
<rect x="197" y="79" width="1" height="1"/>
<rect x="142" y="190" width="1" height="1"/>
<rect x="228" y="103" width="1" height="1"/>
<rect x="226" y="161" width="1" height="1"/>
<rect x="104" y="85" width="1" height="1"/>
<rect x="196" y="105" width="1" height="1"/>
<rect x="196" y="110" width="1" height="1"/>
<rect x="195" y="88" width="1" height="1"/>
<rect x="129" y="65" width="1" height="1"/>
<rect x="120" y="186" width="1" height="1"/>
<rect x="213" y="199" width="1" height="1"/>
<rect x="193" y="86" width="1" height="1"/>
<rect x="220" y="77" width="1" height="1"/>
<rect x="111" y="104" width="1" height="1"/>
<rect x="121" y="70" width="1" height="1"/>
<rect x="214" y="153" width="1" height="1"/>
<rect x="200" y="108" width="1" height="1"/>
<rect x="99" y="141" width="1" height="1"/>
<rect x="165" y="194" width="1" height="1"/>
<rect x="202" y="192" width="1" height="1"/>
<rect x="151" y="196" width="1" height="1"/>
<rect x="156" y="197" width="1" height="1"/>
<rect x="201" y="145" width="1" height="1"/>
<rect x="198" y="130" width="1" height="1"/>
<rect x="217" y="65" width="1" height="1"/>
<rect x="165" y="71" width="1" height="1"/>
<rect x="191" y="133" width="1" height="1"/>
<rect x="134" y="191" width="1" height="1"/>
<rect x="211" y="117" width="1" height="1"/>
<rect x="169" y="55" width="1" height="1"/>
<rect x="112" y="84" width="1" height="1"/>
<rect x="112" y="183" width="1" height="1"/>
<rect x="203" y="76" width="1" height="1"/>
<rect x="190" y="82" width="1" height="1"/>
<rect x="195" y="95" width="1" height="1"/>
<rect x="101" y="147" width="1" height="1"/>
<rect x="164" y="190" width="1" height="1"/>
<rect x="111" y="85" width="1" height="1"/>
<rect x="197" y="146" width="1" height="1"/>
<rect x="194" y="135" width="1" height="1"/>
<rect x="215" y="120" width="1" height="1"/>
<rect x="208" y="143" width="1" height="1"/>
<rect x="192" y="190" width="1" height="1"/>
<rect x="202" y="85" width="1" height="1"/>
<rect x="209" y="129" width="1" height="1"/>
<rect x="126" y="71" width="1" height="1"/>
<rect x="194" y="131" width="1" height="1"/>
<rect x="160" y="188" width="1" height="1"/>
<rect x="101" y="224" width="1" height="1"/>
<rect x="192" y="125" width="1" height="1"/>
<rect x="203" y="96" width="1" height="1"/>
<rect x="197" y="143" width="1" height="1"/>
<rect x="200" y="108" width="1" height="1"/>
<rect x="166" y="72" width="1" height="1"/>
<rect x="194" y="134" width="1" height="1"/>
<rect x="153" y="189" width="1" height="1"/>
<rect x="139" y="193" width="1" height="1"/>
<rect x="129" y="207" width="1" height="1"/>
<rect x="195" y="107" width="1" height="1"/>
<rect x="105" y="90" width="1" height="1"/>
<rect x="171" y="72" width="1" height="1"/>
<rect x="103" y="119" width="1" height="1"/>
<rect x="128" y="190" width="1" height="1"/>
<rect x="220" y="87" width="1" height="1"/>
<rect x="185" y="191" width="1" height="1"/>
<rect x="229" y="167" width="1" height="1"/>
<rect x="202" y="82" width="1" height="1"/>
<rect x="107" y="151" width="1" height="1"/>
<rect x="125" y="190" width="1" height="1"/>
<rect x="212" y="197" width="1" height="1"/>
<rect x="200" y="77" width="1" height="1"/>
<rect x="147" y="190" width="1" height="1"/>
<rect x="103" y="187" width="1" height="1"/>
<rect x="198" y="89" width="1" height="1"/>
<rect x="108" y="97" width="1" height="1"/>
<rect x="142" y="201" width="1" height="1"/>
<rect x="202" y="107" width="1" height="1"/>
<rect x="196" y="96" width="1" height="1"/>
<rect x="237" y="170" width="1" height="1"/>
<rect x="124" y="74" width="1" height="1"/>
<rect x="220" y="126" width="1" height="1"/>
<rect x="197" y="106" width="1" height="1"/>
<rect x="197" y="137" width="1" height="1"/>
<rect x="199" y="146" width="1" height="1"/>
<rect x="212" y="152" width="1" height="1"/>
<rect x="205" y="118" width="1" height="1"/>
<rect x="196" y="193" width="1" height="1"/>
<rect x="155" y="190" width="1" height="1"/>
<rect x="228" y="197" width="1" height="1"/>
<rect x="111" y="120" width="1" height="1"/>
<rect x="232" y="173" width="1" height="1"/>
<rect x="111" y="118" width="1" height="1"/>
<rect x="112" y="94" width="1" height="1"/>
<rect x="209" y="153" width="1" height="1"/>
<rect x="161" y="199" width="1" height="1"/>
<rect x="223" y="189" width="1" height="1"/>
<rect x="112" y="95" width="1" height="1"/>
<rect x="231" y="86" width="1" height="1"/>
<rect x="112" y="186" width="1" height="1"/>
<rect x="106" y="166" width="1" height="1"/>
<rect x="223" y="192" width="1" height="1"/>
<rect x="101" y="75" width="1" height="1"/>
<rect x="204" y="191" width="1" height="1"/>
<rect x="212" y="117" width="1" height="1"/>
<rect x="200" y="93" width="1" height="1"/>
<rect x="217" y="104" width="1" height="1"/>
<rect x="156" y="215" width="1" height="1"/>
<rect x="217" y="201" width="1" height="1"/>
<rect x="133" y="70" width="1" height="1"/>
<rect x="112" y="100" width="1" height="1"/>
<rect x="231" y="170" width="1" height="1"/>
<rect x="136" y="65" width="1" height="1"/>
<rect x="149" y="65" width="1" height="1"/>
<rect x="204" y="66" width="1" height="1"/>
<rect x="168" y="192" width="1" height="1"/>
<rect x="88" y="102" width="1" height="1"/>
<rect x="195" y="100" width="1" height="1"/>
<rect x="180" y="188" width="1" height="1"/>
<rect x="195" y="100" width="1" height="1"/>
<rect x="102" y="176" width="1" height="1"/>
<rect x="218" y="107" width="1" height="1"/>
<rect x="102" y="97" width="1" height="1"/>
<rect x="195" y="110" width="1" height="1"/>
<rect x="184" y="77" width="1" height="1"/>
<rect x="195" y="69" width="1" height="1"/>
<rect x="205" y="192" width="1" height="1"/>
<rect x="168" y="192" width="1" height="1"/>
<rect x="111" y="123" width="1" height="1"/>
<rect x="101" y="161" width="1" height="1"/>
<rect x="212" y="192" width="1" height="1"/>
<rect x="197" y="111" width="1" height="1"/>
<rect x="230" y="168" width="1" height="1"/>
<rect x="111" y="181" width="1" height="1"/>
<rect x="143" y="70" width="1" height="1"/>
<rect x="123" y="74" width="1" height="1"/>
<rect x="233" y="180" width="1" height="1"/>
<rect x="231" y="165" width="1" height="1"/>
<rect x="113" y="80" width="1" height="1"/>
<rect x="195" y="190" width="1" height="1"/>
<rect x="167" y="189" width="1" height="1"/>
<rect x="201" y="102" width="1" height="1"/>
<rect x="93" y="103" width="1" height="1"/>
<rect x="168" y="71" width="1" height="1"/>
<rect x="106" y="120" width="1" height="1"/>
<rect x="161" y="71" width="1" height="1"/>
<rect x="193" y="137" width="1" height="1"/>
<rect x="107" y="149" width="1" height="1"/>
<rect x="193" y="144" width="1" height="1"/>
<rect x="141" y="69" width="1" height="1"/>
<rect x="202" y="149" width="1" height="1"/>
<rect x="237" y="181" width="1" height="1"/>
<rect x="108" y="75" width="1" height="1"/>
<rect x="106" y="146" width="1" height="1"/>
<rect x="114" y="190" width="1" height="1"/>
<rect x="195" y="81" width="1" height="1"/>
<rect x="203" y="195" width="1" height="1"/>
<rect x="138" y="204" width="1" height="1"/>
<rect x="106" y="168" width="1" height="1"/>
<rect x="214" y="192" width="1" height="1"/>
<rect x="108" y="93" width="1" height="1"/>
<rect x="226" y="155" width="1" height="1"/>
<rect x="144" y="197" width="1" height="1"/>
<rect x="194" y="66" width="1" height="1"/>
<rect x="137" y="190" width="1" height="1"/>
<rect x="197" y="87" width="1" height="1"/>
<rect x="169" y="189" width="1" height="1"/>
<rect x="207" y="152" width="1" height="1"/>
<rect x="174" y="189" width="1" height="1"/>
<rect x="202" y="112" width="1" height="1"/>
<rect x="199" y="120" width="1" height="1"/>
<rect x="218" y="196" width="1" height="1"/>
<rect x="136" y="69" width="1" height="1"/>
<rect x="121" y="76" width="1" height="1"/>
<rect x="205" y="205" width="1" height="1"/>
<rect x="200" y="195" width="1" height="1"/>
<rect x="115" y="75" width="1" height="1"/>
<rect x="125" y="205" width="1" height="1"/>
<rect x="111" y="92" width="1" height="1"/>
<rect x="155" y="194" width="1" height="1"/>
<rect x="143" y="194" width="1" height="1"/>
<rect x="122" y="63" width="1" height="1"/>
<rect x="208" y="59" width="1" height="1"/>
<rect x="221" y="101" width="1" height="1"/>
<rect x="162" y="197" width="1" height="1"/>
<rect x="163" y="188" width="1" height="1"/>
<rect x="111" y="111" width="1" height="1"/>
<rect x="158" y="191" width="1" height="1"/>
<rect x="101" y="98" width="1" height="1"/>
<rect x="109" y="104" width="1" height="1"/>
<rect x="197" y="81" width="1" height="1"/>
<rect x="141" y="201" width="1" height="1"/>
<rect x="192" y="189" width="1" height="1"/>
<rect x="207" y="123" width="1" height="1"/>
<rect x="219" y="91" width="1" height="1"/>
<rect x="122" y="203" width="1" height="1"/>
<rect x="195" y="112" width="1" height="1"/>
<rect x="200" y="84" width="1" height="1"/>
<rect x="111" y="116" width="1" height="1"/>
<rect x="103" y="170" width="1" height="1"/>
<rect x="233" y="185" width="1" height="1"/>
<rect x="154" y="72" width="1" height="1"/>
<rect x="160" y="199" width="1" height="1"/>
<rect x="224" y="158" width="1" height="1"/>
<rect x="171" y="68" width="1" height="1"/>
<rect x="176" y="191" width="1" height="1"/>
<rect x="138" y="205" width="1" height="1"/>
<rect x="180" y="190" width="1" height="1"/>
</g>
<text x="10.0" y="23.8" font-size="17" text-anchor="start" font-weight="bold" fill="#111" >A</text>
<text x="154.5" y="44.9" font-size="13.3" text-anchor="middle" font-weight="normal" fill="#1a1a1a" >Non-responders</text>
<rect x="64.5" y="52.5" width="180" height="179" fill="none" stroke="#888" stroke-width="1.2"/>
<line x1="168.2" y1="52.5" x2="168.2" y2="231.5" stroke="#3a3a3a" stroke-width="1"/>
<line x1="64.5" y1="147.5" x2="244.5" y2="147.5" stroke="#3a3a3a" stroke-width="1"/>
<text x="66.8" y="63.5" font-size="11" text-anchor="start" font-weight="normal" fill="#1a1a1a" >29.0</text>
<text x="241.7" y="63.5" font-size="11" text-anchor="end" font-weight="normal" fill="#1a1a1a" >8.33</text>
<text x="66.8" y="229" font-size="11" text-anchor="start" font-weight="normal" fill="#1a1a1a" >19.0</text>
<text x="241.7" y="215" font-size="11" text-anchor="end" font-weight="normal" fill="#1a1a1a" >Tregs</text>
<text x="241.7" y="228.8" font-size="11" text-anchor="end" font-weight="normal" fill="#1a1a1a" >10.3</text>
<line x1="59.5" y1="54" x2="64.5" y2="54" stroke="#999" stroke-width="1"/>
<text x="54.5" y="58.4" font-size="11" text-anchor="end" fill="#1a1a1a">10<tspan font-size="8.2" dx="0.6" dy="-4.9">5</tspan></text>
<line x1="59.5" y1="110" x2="64.5" y2="110" stroke="#999" stroke-width="1"/>
<text x="54.5" y="114.4" font-size="11" text-anchor="end" fill="#1a1a1a">10<tspan font-size="8.2" dx="0.6" dy="-4.9">4</tspan></text>
<line x1="59.5" y1="218" x2="64.5" y2="218" stroke="#999" stroke-width="1"/>
<text x="54.5" y="222.4" font-size="11" text-anchor="end" fill="#1a1a1a">&#8722;10<tspan font-size="8.2" dx="0.6" dy="-4.9">4</tspan></text>
<line x1="59.5" y1="164" x2="64.5" y2="164" stroke="#999" stroke-width="1"/>
<text x="54.5" y="167.9" font-size="11" text-anchor="end" font-weight="normal" fill="#1a1a1a" >0</text>
<line x1="60.5" y1="156.5" x2="64.5" y2="156.5" stroke="#8a8a8a" stroke-width="0.8"/>
<line x1="60.5" y1="159" x2="64.5" y2="159" stroke="#8a8a8a" stroke-width="0.8"/>
<line x1="60.5" y1="161.5" x2="64.5" y2="161.5" stroke="#8a8a8a" stroke-width="0.8"/>
<line x1="60.5" y1="166.5" x2="64.5" y2="166.5" stroke="#8a8a8a" stroke-width="0.8"/>
<line x1="60.5" y1="169" x2="64.5" y2="169" stroke="#8a8a8a" stroke-width="0.8"/>
<line x1="60.5" y1="171" x2="64.5" y2="171" stroke="#8a8a8a" stroke-width="0.8"/>
<line x1="123.5" y1="231.5" x2="123.5" y2="235.0" stroke="#8a8a8a" stroke-width="0.8"/>
<line x1="126.0" y1="231.5" x2="126.0" y2="235.0" stroke="#8a8a8a" stroke-width="0.8"/>
<line x1="128.5" y1="231.5" x2="128.5" y2="235.0" stroke="#8a8a8a" stroke-width="0.8"/>
<line x1="133.5" y1="231.5" x2="133.5" y2="235.0" stroke="#8a8a8a" stroke-width="0.8"/>
<line x1="136.0" y1="231.5" x2="136.0" y2="235.0" stroke="#8a8a8a" stroke-width="0.8"/>
<line x1="138.5" y1="231.5" x2="138.5" y2="235.0" stroke="#8a8a8a" stroke-width="0.8"/>
<line x1="62.0" y1="93.14232024281705" x2="64.5" y2="93.14232024281705" stroke="#8a8a8a" stroke-width="0.8"/>
<line x1="62.0" y1="83.28120973569891" x2="64.5" y2="83.28120973569891" stroke="#8a8a8a" stroke-width="0.8"/>
<line x1="62.0" y1="76.2846404856341" x2="64.5" y2="76.2846404856341" stroke="#8a8a8a" stroke-width="0.8"/>
<line x1="62.0" y1="70.85767975718295" x2="64.5" y2="70.85767975718295" stroke="#8a8a8a" stroke-width="0.8"/>
<line x1="62.0" y1="66.42352997851596" x2="64.5" y2="66.42352997851596" stroke="#8a8a8a" stroke-width="0.8"/>
<line x1="62.0" y1="62.67450975920162" x2="64.5" y2="62.67450975920162" stroke="#8a8a8a" stroke-width="0.8"/>
<line x1="62.0" y1="59.426960728451164" x2="64.5" y2="59.426960728451164" stroke="#8a8a8a" stroke-width="0.8"/>
<line x1="62.0" y1="56.56241947139781" x2="64.5" y2="56.56241947139781" stroke="#8a8a8a" stroke-width="0.8"/>
<line x1="62.0" y1="113.2" x2="64.5" y2="113.2" stroke="#8a8a8a" stroke-width="0.8"/>
<line x1="62.0" y1="116.6" x2="64.5" y2="116.6" stroke="#8a8a8a" stroke-width="0.8"/>
<line x1="62.0" y1="120.1" x2="64.5" y2="120.1" stroke="#8a8a8a" stroke-width="0.8"/>
<line x1="62.0" y1="124.5" x2="64.5" y2="124.5" stroke="#8a8a8a" stroke-width="0.8"/>
<line x1="62.0" y1="129.5" x2="64.5" y2="129.5" stroke="#8a8a8a" stroke-width="0.8"/>
<line x1="62.0" y1="135.5" x2="64.5" y2="135.5" stroke="#8a8a8a" stroke-width="0.8"/>
<line x1="62.0" y1="143" x2="64.5" y2="143" stroke="#8a8a8a" stroke-width="0.8"/>
<line x1="62.0" y1="153" x2="64.5" y2="153" stroke="#8a8a8a" stroke-width="0.8"/>
<line x1="62.0" y1="175" x2="64.5" y2="175" stroke="#8a8a8a" stroke-width="0.8"/>
<line x1="62.0" y1="185" x2="64.5" y2="185" stroke="#8a8a8a" stroke-width="0.8"/>
<line x1="62.0" y1="196" x2="64.5" y2="196" stroke="#8a8a8a" stroke-width="0.8"/>
<line x1="62.0" y1="207" x2="64.5" y2="207" stroke="#8a8a8a" stroke-width="0.8"/>
<line x1="77.0" y1="231.5" x2="77.0" y2="236.0" stroke="#999" stroke-width="1"/>
<text x="76.0" y="249.5" font-size="11" text-anchor="middle" fill="#1a1a1a">&#8722;10<tspan font-size="8.2" dx="0.6" dy="-4.9">4</tspan></text>
<line x1="185.5" y1="231.5" x2="185.5" y2="236.0" stroke="#999" stroke-width="1"/>
<text x="185.5" y="249.5" font-size="11" text-anchor="middle" fill="#1a1a1a">10<tspan font-size="8.2" dx="0.6" dy="-4.9">4</tspan></text>
<line x1="241.5" y1="231.5" x2="241.5" y2="236.0" stroke="#999" stroke-width="1"/>
<text x="241.5" y="249.5" font-size="11" text-anchor="middle" fill="#1a1a1a">10<tspan font-size="8.2" dx="0.6" dy="-4.9">5</tspan></text>
<line x1="131.0" y1="231.5" x2="131.0" y2="236.0" stroke="#999" stroke-width="1"/>
<text x="131.0" y="249.6" font-size="11" text-anchor="middle" font-weight="normal" fill="#1a1a1a" >0</text>
<line x1="202.35767975718295" y1="231.5" x2="202.35767975718295" y2="234.0" stroke="#8a8a8a" stroke-width="0.8"/>
<line x1="212.2187902643011" y1="231.5" x2="212.2187902643011" y2="234.0" stroke="#8a8a8a" stroke-width="0.8"/>
<line x1="219.2153595143659" y1="231.5" x2="219.2153595143659" y2="234.0" stroke="#8a8a8a" stroke-width="0.8"/>
<line x1="224.64232024281705" y1="231.5" x2="224.64232024281705" y2="234.0" stroke="#8a8a8a" stroke-width="0.8"/>
<line x1="229.07647002148406" y1="231.5" x2="229.07647002148406" y2="234.0" stroke="#8a8a8a" stroke-width="0.8"/>
<line x1="232.8254902407984" y1="231.5" x2="232.8254902407984" y2="234.0" stroke="#8a8a8a" stroke-width="0.8"/>
<line x1="236.07303927154885" y1="231.5" x2="236.07303927154885" y2="234.0" stroke="#8a8a8a" stroke-width="0.8"/>
<line x1="238.93758052860218" y1="231.5" x2="238.93758052860218" y2="234.0" stroke="#8a8a8a" stroke-width="0.8"/>
<line x1="182.7" y1="231.5" x2="182.7" y2="234.0" stroke="#8a8a8a" stroke-width="0.8"/>
<line x1="179.3" y1="231.5" x2="179.3" y2="234.0" stroke="#8a8a8a" stroke-width="0.8"/>
<line x1="175.8" y1="231.5" x2="175.8" y2="234.0" stroke="#8a8a8a" stroke-width="0.8"/>
<line x1="171.5" y1="231.5" x2="171.5" y2="234.0" stroke="#8a8a8a" stroke-width="0.8"/>
<line x1="166.5" y1="231.5" x2="166.5" y2="234.0" stroke="#8a8a8a" stroke-width="0.8"/>
<line x1="160.5" y1="231.5" x2="160.5" y2="234.0" stroke="#8a8a8a" stroke-width="0.8"/>
<line x1="153.0" y1="231.5" x2="153.0" y2="234.0" stroke="#8a8a8a" stroke-width="0.8"/>
<line x1="143.0" y1="231.5" x2="143.0" y2="234.0" stroke="#8a8a8a" stroke-width="0.8"/>
<line x1="120.5" y1="231.5" x2="120.5" y2="234.0" stroke="#8a8a8a" stroke-width="0.8"/>
<line x1="110.5" y1="231.5" x2="110.5" y2="234.0" stroke="#8a8a8a" stroke-width="0.8"/>
<line x1="99.5" y1="231.5" x2="99.5" y2="234.0" stroke="#8a8a8a" stroke-width="0.8"/>
<line x1="88.5" y1="231.5" x2="88.5" y2="234.0" stroke="#8a8a8a" stroke-width="0.8"/>
<text x="153.9" y="268.2" font-size="14.2" text-anchor="middle" textLength="65.6" lengthAdjust="spacingAndGlyphs" font-weight="bold" fill="#1a1a1a">CD25 (BUV563)</text>
<text transform="translate(21.799999999999997,142.6) rotate(-90)" x="0" y="0" font-size="14.2" text-anchor="middle" textLength="68.4" lengthAdjust="spacingAndGlyphs" font-weight="bold" fill="#1a1a1a">CD127 (PE-Cy5)</text>
<g fill="none" stroke="#5c5c5c" stroke-width="0.85" stroke-linejoin="round">
<path d="M397.0,199.6 395.5,199.7 394.0,199.8 392.5,199.8 391.0,199.8 389.5,199.7 388.5,199.3 387.2,199.0 386.0,198.7 385.0,198.3 383.8,198.0 382.5,197.7 381.5,197.2 380.5,196.8 379.5,196.3 378.3,196.0 377.3,195.5 376.5,194.8 375.5,194.2 374.8,193.5 374.0,192.7 373.3,192.0 372.5,191.1 372.0,190.2 371.5,189.3 370.9,188.5 370.4,187.5 369.9,186.5 369.3,185.5 368.9,184.5 368.4,183.5 367.9,182.5 367.4,181.5 366.9,180.5 366.5,179.2 366.2,178.0 365.8,177.0 365.4,176.0 365.3,174.5 365.0,173.2 364.9,172.0 364.8,170.5 364.8,169.0 364.8,167.5 364.8,166.0 364.8,164.5 364.8,163.0 364.8,161.5 364.8,160.0 364.8,158.5 364.8,157.0 364.8,155.5 364.8,154.0 364.8,152.5 364.8,151.0 364.8,149.5 364.9,148.0 364.9,146.5 364.9,145.0 364.9,143.5 365.2,142.5 365.3,141.0 365.3,139.5 365.4,138.0 365.4,136.5 365.5,135.3 365.8,134.0 365.8,132.5 365.9,131.0 365.9,129.5 365.9,128.0 366.2,127.0 366.3,125.5 366.3,124.0 366.4,122.5 366.4,121.0 366.7,120.0 366.8,118.5 366.8,117.0 366.9,115.5 366.9,114.0 367.2,113.0 367.3,111.5 367.4,110.0 367.4,108.5 367.5,107.3 367.8,106.0 367.8,104.5 367.9,103.0 367.9,101.5 368.3,100.5 368.3,99.0 368.4,97.5 368.7,96.5 368.9,95.0 369.0,93.9 369.4,92.5 369.5,91.4 369.9,90.0 370.3,89.0 370.5,87.8 370.9,86.5 371.3,85.5 371.4,84.0 371.9,83.0 372.3,82.0 372.5,80.9 372.9,79.5 373.4,78.5 373.9,77.5 374.4,76.5 375.0,75.8 375.5,74.9 376.3,74.0 377.0,73.3 377.8,72.5 378.5,71.8 379.4,71.0 380.0,70.5 381.0,69.9 382.0,69.4 383.0,68.9 384.4,68.5 385.5,68.3 386.5,67.9 388.0,67.8 389.0,67.4 390.5,67.3 391.9,67.0 393.0,66.9 394.5,66.8 395.8,66.5 397.0,66.4 398.5,66.3 400.0,66.3 401.5,66.3 403.0,66.3 404.5,66.3 406.0,66.3 407.5,66.4 409.0,66.4 410.5,66.4 411.6,66.5 413.0,66.8 414.5,66.9 416.0,66.9 417.5,67.0 418.5,67.3 420.0,67.4 421.0,67.5 422.5,68.0 423.5,68.4 424.5,68.5 425.5,69.0 426.9,69.5 427.9,70.0 428.8,70.5 429.5,71.0 430.5,71.5 431.5,72.4 432.4,73.0 433.0,73.6 433.8,74.5 434.5,75.5 435.0,76.1 435.5,77.0 436.0,78.1 436.5,79.5 436.6,80.5 437.0,81.5 437.1,83.0 437.5,84.2 437.5,85.5 437.6,87.0 438.0,88.5 438.0,89.5 438.0,91.0 438.1,92.5 438.3,94.0 438.3,95.5 438.3,97.0 438.4,98.5 438.4,100.0 438.5,101.5 438.6,102.5 438.7,104.0 438.8,105.5 439.0,107.0 439.1,108.0 439.3,109.5 439.5,110.5 440.0,112.0 440.4,113.0 440.9,114.0 441.5,115.0 442.0,115.8 442.5,116.7 443.0,117.5 443.6,118.5 444.2,119.5 444.8,120.5 445.4,121.5 446.0,122.5 446.5,123.3 447.0,124.1 447.5,125.0 448.1,126.0 448.7,127.0 449.3,128.0 449.9,129.0 450.5,130.0 451.0,130.8 451.5,131.7 452.0,132.5 452.6,133.5 453.2,134.5 453.8,135.5 454.4,136.5 455.0,137.5 455.5,138.4 456.0,139.2 456.5,140.1 457.1,141.0 457.6,142.0 458.2,143.0 458.8,144.0 459.4,145.0 460.0,146.0 460.5,146.8 461.0,147.6 461.5,148.5 462.1,149.5 462.7,150.5 463.3,151.5 463.9,152.5 464.5,153.4 465.0,154.2 465.5,155.0 466.2,156.0 466.8,157.0 467.5,158.0 468.0,158.7 468.5,159.5 469.2,160.5 469.9,161.5 470.5,162.4 471.0,163.1 471.5,164.0 472.2,165.0 472.9,166.0 473.5,167.0 474.0,168.0 474.5,169.0 475.0,169.7 475.5,170.8 476.0,171.9 476.4,173.0 476.8,174.0 477.1,175.0 477.4,176.5 477.6,177.5 477.6,179.0 477.4,180.0 477.0,181.3 476.5,182.3 476.0,183.0 475.0,184.0 474.3,184.5 473.5,185.0 472.4,185.5 471.0,186.0 470.0,186.2 468.5,186.5 467.5,186.6 466.0,186.7 464.5,186.8 463.0,186.7 461.5,186.7 460.0,186.6 458.5,186.5 457.5,186.5 456.0,186.4 454.5,186.4 453.0,186.4 451.5,186.4 450.0,186.4 448.5,186.4 447.0,186.4 445.5,186.4 444.0,186.4 442.5,186.4 441.0,186.4 439.5,186.3 438.0,186.3 436.5,186.1 435.5,186.0 434.0,185.7 433.0,185.5 431.9,185.5 430.5,186.0 430.0,186.5 429.0,187.1 428.0,188.0 427.0,188.5 426.1,189.0 425.1,189.5 424.1,190.0 423.1,190.5 422.1,191.0 421.0,191.5 420.0,191.7 419.0,192.2 418.0,192.7 417.0,193.2 416.0,193.6 415.0,194.1 414.0,194.6 413.0,195.1 411.7,195.5 410.5,195.8 409.5,196.2 408.5,196.6 407.2,197.0 406.0,197.2 405.0,197.7 403.7,198.0 402.5,198.2 401.5,198.6 400.0,198.8 399.0,199.2 397.5,199.3Z"/>
<path d="M394.0,199.0 392.5,199.1 391.4,199.0 390.0,198.8 388.5,198.6 387.5,198.3 386.4,198.0 385.0,197.6 384.0,197.3 383.0,196.9 381.9,196.5 380.7,196.0 379.6,195.5 378.6,195.0 377.7,194.5 376.9,194.0 376.0,193.3 375.1,192.5 374.5,191.9 373.8,191.0 373.1,190.0 372.5,189.1 372.0,188.3 371.5,187.4 371.0,186.4 370.5,185.4 370.0,184.4 369.5,183.4 369.0,182.3 368.5,181.2 368.0,180.0 367.6,179.0 367.3,178.0 367.0,177.0 366.6,175.5 366.4,174.5 366.2,173.0 366.0,171.5 366.0,170.5 365.9,169.0 365.9,167.5 365.9,166.0 365.9,164.5 365.9,163.0 365.9,161.5 365.9,160.0 366.0,158.5 366.0,157.0 366.0,155.5 366.0,154.4 366.0,153.0 366.0,151.5 366.1,150.0 366.1,148.5 366.2,147.0 366.2,145.5 366.3,144.0 366.4,142.5 366.5,141.1 366.6,140.0 366.7,138.5 366.8,137.0 366.9,135.5 367.0,134.0 367.1,133.0 367.1,131.5 367.2,130.0 367.3,128.5 367.4,127.0 367.5,126.0 367.6,124.5 367.7,123.0 367.8,121.5 367.9,120.0 368.0,118.5 368.1,117.5 368.2,116.0 368.3,114.5 368.4,113.0 368.5,112.0 368.6,110.5 368.7,109.0 368.9,107.5 369.0,106.0 369.1,105.0 369.2,103.5 369.3,102.0 369.5,100.5 369.6,99.5 369.8,98.0 370.0,96.5 370.2,95.5 370.4,94.0 370.7,93.0 371.0,91.6 371.3,90.5 371.5,89.5 371.9,88.0 372.2,87.0 372.5,86.0 372.9,84.5 373.2,83.5 373.5,82.5 374.0,81.2 374.5,80.0 374.9,79.0 375.4,78.0 376.0,77.0 376.5,76.2 377.1,75.5 377.9,74.5 378.5,73.9 379.4,73.0 380.0,72.5 381.0,71.8 382.0,71.2 383.0,70.6 384.0,70.2 385.0,69.9 386.3,69.5 387.5,69.2 388.5,69.0 390.0,68.7 391.5,68.5 392.5,68.4 394.0,68.2 395.4,68.0 396.5,67.9 398.0,67.8 399.5,67.7 401.0,67.6 402.5,67.7 404.0,67.7 405.5,67.8 407.0,67.9 408.1,68.0 409.5,68.1 411.0,68.3 412.5,68.4 413.5,68.5 415.0,68.7 416.5,68.9 417.5,69.0 419.0,69.3 420.1,69.5 421.5,69.9 422.5,70.2 423.5,70.5 424.7,71.0 425.8,71.5 426.8,72.0 427.7,72.5 428.5,73.0 429.5,73.7 430.5,74.5 431.0,75.0 431.9,76.0 432.5,76.8 433.0,77.5 433.5,78.5 434.0,79.6 434.5,81.0 434.7,82.0 435.0,83.3 435.2,84.5 435.4,86.0 435.5,87.0 435.7,88.5 435.8,90.0 435.9,91.5 436.0,93.0 436.0,94.0 436.1,95.5 436.1,97.0 436.1,98.5 436.2,100.0 436.2,101.5 436.2,103.0 436.3,104.5 436.3,106.0 436.4,107.5 436.4,109.0 436.4,110.5 436.5,112.0 436.5,113.0 436.5,114.5 436.6,116.0 436.6,117.5 436.7,119.0 436.7,120.5 436.7,122.0 436.7,123.5 436.7,125.0 436.8,126.5 436.8,128.0 436.9,129.5 437.0,131.0 437.1,132.0 437.3,133.5 437.5,134.9 437.8,136.0 438.2,137.0 439.0,137.9 440.0,138.3 441.0,138.7 442.0,139.2 443.0,139.8 444.0,140.5 444.6,141.0 445.5,141.7 446.4,142.5 447.0,143.0 448.0,143.9 448.6,144.5 449.5,145.3 450.2,146.0 451.0,146.7 451.8,147.5 452.5,148.2 453.3,149.0 454.0,149.6 454.9,150.5 455.5,151.1 456.4,152.0 457.0,152.6 458.0,153.5 458.5,154.0 459.5,155.0 460.0,155.5 461.0,156.5 461.5,157.0 462.5,158.0 463.0,158.5 464.0,159.5 464.5,160.0 465.5,161.0 466.0,161.5 467.0,162.5 467.5,163.1 468.3,164.0 469.0,164.8 469.6,165.5 470.3,166.5 471.0,167.4 471.5,168.2 472.0,169.0 472.5,170.0 473.0,171.0 473.5,172.4 473.8,173.5 474.0,174.6 474.1,176.0 474.0,177.0 473.5,178.5 473.0,179.3 472.5,180.0 471.5,180.8 470.5,181.4 469.5,181.9 468.5,182.2 467.2,182.5 466.0,182.7 464.5,182.8 463.0,182.9 461.5,183.0 460.0,183.0 458.5,183.0 457.0,183.0 455.8,183.0 454.5,183.0 453.0,183.0 451.5,183.1 450.0,183.1 448.5,183.1 447.0,183.1 445.5,183.1 444.0,183.1 442.5,183.0 441.5,183.0 440.0,182.9 438.5,182.8 437.0,182.6 436.0,182.4 434.5,182.0 433.5,181.8 432.0,182.0 431.1,182.5 430.5,183.0 429.5,183.9 428.9,184.5 428.0,185.3 427.1,186.0 426.4,186.5 425.5,187.1 424.5,187.7 423.5,188.2 422.5,188.7 421.5,189.3 420.5,189.8 419.5,190.3 418.5,190.8 417.5,191.3 416.5,191.8 415.5,192.3 414.5,192.8 413.5,193.2 412.5,193.7 411.5,194.1 410.5,194.5 409.4,195.0 408.0,195.5 407.0,195.8 406.0,196.2 405.0,196.5 403.5,197.0 402.5,197.2 401.5,197.5 400.0,197.9 399.0,198.2 397.6,198.5 396.5,198.7 395.0,198.9 394.0,199.0Z"/>
<path d="M394.5,198.0 393.0,198.1 391.5,198.1 390.5,198.0 389.0,197.8 387.9,197.5 386.5,197.1 385.5,196.8 384.5,196.5 383.1,196.0 382.0,195.6 381.0,195.1 380.0,194.7 379.0,194.1 378.0,193.5 377.2,193.0 376.5,192.4 375.6,191.5 375.0,190.9 374.3,190.0 373.6,189.0 373.0,188.0 372.5,187.1 372.0,186.1 371.5,185.1 371.0,184.1 370.5,183.1 370.0,182.0 369.6,181.0 369.2,180.0 368.8,179.0 368.4,178.0 368.0,176.6 367.7,175.5 367.5,174.3 367.3,173.0 367.2,171.5 367.1,170.0 367.1,168.5 367.1,167.0 367.1,165.5 367.1,164.0 367.1,162.5 367.1,161.0 367.2,159.5 367.2,158.0 367.2,156.5 367.3,155.0 367.3,153.5 367.3,152.0 367.4,150.5 367.4,149.0 367.5,147.9 367.6,146.5 367.7,145.0 367.8,143.5 367.9,142.0 368.0,140.7 368.1,139.5 368.2,138.0 368.3,136.5 368.4,135.0 368.5,134.0 368.6,132.5 368.7,131.0 368.8,129.5 368.9,128.0 369.0,126.5 369.1,125.5 369.1,124.0 369.2,122.5 369.3,121.0 369.4,119.5 369.5,118.5 369.6,117.0 369.7,115.5 369.8,114.0 370.0,112.5 370.0,111.5 370.2,110.0 370.3,108.5 370.4,107.0 370.5,105.8 370.6,104.5 370.8,103.0 370.9,101.5 371.0,100.5 371.2,99.0 371.4,97.5 371.5,96.5 371.8,95.0 372.0,94.0 372.3,92.5 372.6,91.5 373.0,90.0 373.2,89.0 373.5,88.0 373.9,86.5 374.2,85.5 374.5,84.5 375.0,83.1 375.4,82.0 375.8,81.0 376.2,80.0 376.7,79.0 377.3,78.0 377.9,77.0 378.5,76.3 379.2,75.5 380.0,74.6 380.7,74.0 381.5,73.4 382.5,72.7 383.5,72.2 384.5,71.7 385.5,71.3 386.5,71.0 388.0,70.6 389.0,70.4 390.5,70.1 391.5,70.0 393.0,69.8 394.5,69.6 395.5,69.5 397.0,69.3 398.5,69.2 400.0,69.2 401.5,69.2 403.0,69.3 404.5,69.4 405.6,69.5 407.0,69.7 408.5,69.8 409.9,70.0 411.0,70.2 412.5,70.4 413.5,70.5 415.0,70.7 416.5,71.0 417.5,71.2 418.8,71.5 420.0,71.8 421.0,72.2 422.0,72.5 423.1,73.0 424.2,73.5 425.2,74.0 426.0,74.5 427.0,75.2 428.0,75.9 428.6,76.5 429.5,77.4 430.0,78.1 430.6,79.0 431.1,80.0 431.6,81.0 432.0,82.3 432.3,83.5 432.5,84.5 432.8,86.0 433.0,87.3 433.1,88.5 433.3,90.0 433.4,91.5 433.5,92.5 433.6,94.0 433.6,95.5 433.7,97.0 433.7,98.5 433.8,100.0 433.8,101.5 433.9,103.0 433.9,104.5 433.9,106.0 434.0,107.5 434.0,109.0 434.0,110.0 434.0,111.5 434.1,113.0 434.1,114.5 434.1,116.0 434.1,117.5 434.1,119.0 434.1,120.5 434.1,122.0 434.0,123.5 434.0,124.5 433.9,126.0 433.9,127.5 433.9,129.0 433.9,130.5 433.9,132.0 433.8,133.5 433.8,135.0 433.8,136.5 433.8,138.0 433.8,139.5 433.7,141.0 433.7,142.5 433.7,144.0 433.7,145.5 433.7,147.0 433.8,148.5 433.9,150.0 434.0,151.3 434.2,152.5 434.6,153.5 435.2,154.5 436.5,154.9 437.6,154.5 438.7,154.0 440.0,153.5 441.0,153.3 442.5,153.2 444.0,153.4 445.0,153.6 446.2,154.0 447.5,154.5 448.5,155.0 449.5,155.4 450.5,155.9 451.5,156.5 452.5,157.0 453.4,157.5 454.3,158.0 455.2,158.5 456.1,159.0 457.0,159.5 458.0,160.1 459.0,160.7 460.0,161.3 461.0,162.0 461.8,162.5 462.6,163.0 463.5,163.7 464.5,164.4 465.3,165.0 466.0,165.6 466.9,166.5 467.5,167.1 468.3,168.0 469.0,168.9 469.5,169.8 470.0,170.9 470.3,172.0 470.4,173.5 470.0,175.0 469.5,175.9 469.0,176.6 468.0,177.4 467.0,178.0 466.0,178.4 465.0,178.7 464.0,179.0 462.5,179.3 461.0,179.5 460.0,179.6 458.5,179.7 457.0,179.8 455.5,179.9 454.0,180.0 453.0,180.0 451.5,180.1 450.0,180.1 448.5,180.1 447.0,180.1 445.5,180.1 444.0,180.1 442.5,180.0 441.5,179.9 440.0,179.8 438.5,179.6 437.5,179.4 436.0,179.0 435.0,178.7 434.0,178.4 432.5,178.0 432.0,178.0 430.5,178.5 430.0,179.0 429.2,180.0 428.6,181.0 428.0,181.8 427.5,182.5 426.6,183.5 426.0,184.1 425.0,184.9 424.2,185.5 423.5,186.0 422.5,186.6 421.5,187.2 420.5,187.8 419.5,188.4 418.5,188.9 417.5,189.5 416.6,190.0 415.7,190.5 414.8,191.0 413.8,191.5 412.8,192.0 411.8,192.5 410.8,193.0 409.7,193.5 408.5,194.0 407.5,194.4 406.5,194.8 405.5,195.1 404.5,195.5 403.0,196.0 402.0,196.3 401.0,196.6 399.6,197.0 398.5,197.3 397.5,197.5 396.0,197.8 394.9,198.0Z"/>
<path d="M395.5,197.0 394.0,197.2 392.5,197.3 391.0,197.2 389.5,197.0 388.5,196.8 387.2,196.5 386.0,196.1 385.0,195.8 384.0,195.5 382.8,195.0 381.7,194.5 380.6,194.0 379.7,193.5 378.9,193.0 378.0,192.4 377.0,191.6 376.4,191.0 375.5,190.0 375.0,189.3 374.5,188.5 373.8,187.5 373.3,186.5 372.8,185.5 372.3,184.5 371.8,183.5 371.3,182.5 370.9,181.5 370.5,180.5 370.0,179.3 369.5,178.0 369.2,177.0 369.0,176.0 368.7,174.5 368.5,173.5 368.3,172.0 368.2,170.5 368.2,169.0 368.2,167.5 368.2,166.0 368.2,164.5 368.3,163.0 368.3,161.5 368.4,160.0 368.4,158.5 368.5,157.0 368.5,156.0 368.6,154.5 368.7,153.0 368.8,151.5 368.8,150.0 369.0,148.5 369.0,147.5 369.2,146.0 369.3,144.5 369.5,143.0 369.6,142.0 369.7,140.5 369.9,139.0 370.0,137.6 370.1,136.5 370.2,135.0 370.4,133.5 370.5,132.0 370.6,131.0 370.7,129.5 370.8,128.0 370.8,126.5 370.9,125.0 371.0,123.6 371.1,122.5 371.2,121.0 371.2,119.5 371.3,118.0 371.4,116.5 371.5,115.5 371.6,114.0 371.7,112.5 371.8,111.0 372.0,109.5 372.0,108.5 372.1,107.0 372.3,105.5 372.4,104.0 372.5,102.8 372.6,101.5 372.8,100.0 373.0,98.5 373.1,97.5 373.3,96.0 373.5,95.0 373.8,93.5 374.1,92.5 374.4,91.0 374.7,90.0 375.0,88.9 375.4,87.5 375.7,86.5 376.0,85.5 376.5,84.0 376.8,83.0 377.2,82.0 377.7,81.0 378.2,80.0 378.7,79.0 379.4,78.0 380.0,77.3 380.7,76.5 381.5,75.7 382.3,75.0 383.0,74.5 384.0,73.9 385.0,73.4 386.0,72.9 387.3,72.5 388.5,72.2 389.5,71.9 391.0,71.6 392.0,71.5 393.5,71.3 395.0,71.1 396.5,71.0 397.5,71.0 399.0,70.9 400.5,70.9 401.5,71.0 403.0,71.1 404.5,71.3 405.9,71.5 407.0,71.7 408.5,71.9 409.5,72.1 411.0,72.4 412.0,72.6 413.5,72.9 414.5,73.1 415.9,73.5 417.0,73.8 418.0,74.1 419.2,74.5 420.4,75.0 421.5,75.5 422.5,76.0 423.3,76.5 424.1,77.0 425.0,77.7 425.9,78.5 426.5,79.1 427.2,80.0 427.8,81.0 428.3,82.0 428.8,83.0 429.1,84.0 429.5,85.5 429.7,86.5 429.9,88.0 430.1,89.0 430.3,90.5 430.4,92.0 430.5,93.0 430.6,94.5 430.7,96.0 430.8,97.5 430.8,99.0 430.9,100.5 430.9,102.0 431.0,103.5 431.0,104.5 431.0,106.0 431.1,107.5 431.1,109.0 431.2,110.5 431.2,112.0 431.2,113.5 431.2,115.0 431.2,116.5 431.2,118.0 431.2,119.5 431.2,121.0 431.1,122.5 431.1,124.0 431.0,125.5 431.0,126.5 430.9,128.0 430.9,129.5 430.9,131.0 430.9,132.5 430.8,134.0 430.8,135.5 430.7,137.0 430.7,138.5 430.6,140.0 430.5,141.5 430.5,142.5 430.4,144.0 430.3,145.5 430.3,147.0 430.2,148.5 430.2,150.0 430.1,151.5 430.1,153.0 430.1,154.5 430.0,156.0 430.0,157.5 430.0,159.0 430.1,160.5 430.1,162.0 430.3,163.5 430.5,164.5 431.3,165.5 432.5,165.6 433.5,165.3 434.5,164.8 435.5,164.4 436.5,163.9 437.5,163.5 438.7,163.0 440.0,162.5 441.0,162.2 442.0,162.0 443.5,161.8 445.0,161.7 446.5,161.8 448.0,161.9 449.0,162.1 450.5,162.4 451.5,162.7 452.7,163.0 454.0,163.4 455.0,163.7 456.0,164.0 457.3,164.5 458.5,165.0 459.5,165.4 460.5,165.9 461.5,166.5 462.3,167.0 463.1,167.5 464.0,168.3 464.7,169.0 465.3,170.0 465.7,171.0 465.6,172.5 465.0,173.5 464.5,174.0 463.5,174.7 462.5,175.3 461.5,175.7 460.4,176.0 459.0,176.3 458.0,176.5 456.5,176.8 455.0,177.0 454.0,177.1 452.5,177.2 451.0,177.3 449.5,177.4 448.0,177.4 446.5,177.4 445.0,177.4 443.5,177.3 442.0,177.2 440.5,177.0 439.5,176.8 438.0,176.5 437.0,176.3 436.0,175.9 434.9,175.5 433.8,175.0 432.8,174.5 431.9,174.0 430.8,173.5 429.5,173.4 428.8,174.0 428.2,175.0 427.7,176.0 427.4,177.0 427.0,178.0 426.5,179.1 426.0,180.1 425.4,181.0 424.6,182.0 424.0,182.7 423.1,183.5 422.5,184.0 421.5,184.8 420.5,185.5 419.7,186.0 419.0,186.5 418.0,187.1 417.0,187.8 416.0,188.4 415.0,189.0 414.2,189.5 413.4,190.0 412.5,190.5 411.5,191.1 410.5,191.6 409.5,192.1 408.5,192.6 407.5,193.1 406.5,193.5 405.3,194.0 404.0,194.5 403.0,194.9 402.0,195.2 401.0,195.6 399.7,196.0 398.5,196.3 397.5,196.6 396.0,196.9Z"/>
<path d="M396.0,196.0 394.5,196.3 393.0,196.4 391.5,196.4 390.0,196.2 388.7,196.0 387.5,195.7 386.5,195.4 385.1,195.0 384.0,194.6 383.0,194.2 382.0,193.7 381.0,193.2 380.0,192.6 379.0,192.0 378.4,191.5 377.5,190.7 376.8,190.0 376.0,189.0 375.5,188.3 375.0,187.5 374.4,186.5 373.8,185.5 373.3,184.5 372.9,183.5 372.4,182.5 372.0,181.5 371.5,180.3 371.0,179.0 370.7,178.0 370.4,177.0 370.0,175.6 369.8,174.5 369.5,173.0 369.4,172.0 369.3,170.5 369.3,169.0 369.3,167.5 369.3,166.0 369.4,164.5 369.4,163.0 369.5,161.5 369.6,160.5 369.6,159.0 369.7,157.5 369.8,156.0 370.0,154.5 370.0,153.5 370.2,152.0 370.3,150.5 370.5,149.0 370.6,148.0 370.8,146.5 371.0,145.0 371.1,144.0 371.3,142.5 371.5,141.0 371.6,140.0 371.8,138.5 372.0,137.3 372.2,136.0 372.3,134.5 372.5,133.0 372.6,132.0 372.7,130.5 372.8,129.0 372.9,127.5 373.0,126.1 373.1,125.0 373.1,123.5 373.2,122.0 373.3,120.5 373.3,119.0 373.4,117.5 373.5,116.1 373.6,115.0 373.7,113.5 373.7,112.0 373.8,110.5 373.9,109.0 374.0,107.9 374.1,106.5 374.2,105.0 374.3,103.5 374.4,102.0 374.5,101.0 374.7,99.5 374.9,98.0 375.0,97.0 375.2,95.5 375.5,94.2 375.7,93.0 376.0,91.9 376.4,90.5 376.6,89.5 377.0,88.1 377.3,87.0 377.7,86.0 378.0,85.0 378.5,83.6 379.0,82.5 379.4,81.5 380.0,80.5 380.5,79.7 381.0,79.0 381.8,78.0 382.5,77.3 383.4,76.5 384.0,76.0 385.0,75.4 386.0,74.9 387.0,74.4 388.3,74.0 389.5,73.7 390.5,73.4 392.0,73.2 393.1,73.0 394.5,72.9 396.0,72.7 397.5,72.7 399.0,72.7 400.5,72.8 402.0,73.0 403.0,73.1 404.5,73.4 405.5,73.6 407.0,73.9 408.0,74.1 409.4,74.5 410.5,74.8 411.5,75.1 413.0,75.5 414.0,75.8 415.0,76.2 416.0,76.5 417.3,77.0 418.4,77.5 419.4,78.0 420.2,78.5 421.0,79.0 422.0,79.7 422.8,80.5 423.5,81.2 424.1,82.0 424.8,83.0 425.3,84.0 425.7,85.0 426.0,86.0 426.4,87.5 426.6,88.5 426.8,90.0 427.0,91.2 427.1,92.5 427.3,94.0 427.4,95.5 427.5,97.0 427.5,98.0 427.6,99.5 427.7,101.0 427.8,102.5 427.8,104.0 427.9,105.5 427.9,107.0 428.0,108.5 428.0,110.0 428.0,111.0 428.1,112.5 428.1,114.0 428.1,115.5 428.1,117.0 428.1,118.5 428.1,120.0 428.0,121.5 428.0,122.5 427.9,124.0 427.9,125.5 427.8,127.0 427.8,128.5 427.8,130.0 427.7,131.5 427.7,133.0 427.7,134.5 427.6,136.0 427.6,137.5 427.5,139.0 427.5,140.1 427.4,141.5 427.4,143.0 427.3,144.5 427.3,146.0 427.3,147.5 427.2,149.0 427.2,150.5 427.1,152.0 427.1,153.5 427.1,155.0 427.0,156.5 427.0,157.5 426.9,159.0 426.9,160.5 426.8,162.0 426.8,163.5 426.7,165.0 426.5,166.5 426.4,167.5 426.3,169.0 426.1,170.5 425.9,171.5 425.6,173.0 425.4,174.0 425.0,175.5 424.7,176.5 424.4,177.5 423.9,178.5 423.3,179.5 422.6,180.5 422.0,181.2 421.3,182.0 420.5,182.7 419.6,183.5 419.0,184.0 418.0,184.8 417.0,185.5 416.3,186.0 415.5,186.6 414.5,187.3 413.5,188.0 412.8,188.5 412.0,189.0 411.0,189.6 410.0,190.3 409.0,190.8 408.0,191.4 407.0,191.9 406.0,192.4 405.0,192.9 404.0,193.3 403.0,193.7 402.0,194.1 401.0,194.5 399.6,195.0 398.5,195.4 397.5,195.6 396.0,196.0Z"/>
<path d="M450.5,174.5 449.0,174.6 447.5,174.6 446.0,174.6 444.5,174.6 443.5,174.5 442.0,174.3 440.5,174.1 439.5,173.8 438.3,173.5 437.1,173.0 436.3,172.5 435.5,171.7 435.3,170.5 435.9,169.5 436.6,169.0 437.5,168.5 438.8,168.0 440.0,167.6 441.0,167.4 442.5,167.1 443.6,167.0 445.0,166.9 446.5,166.8 448.0,166.9 449.5,167.0 450.5,167.1 452.0,167.3 453.3,167.5 454.5,167.8 455.5,168.1 456.6,168.5 457.6,169.0 458.5,169.7 459.1,170.5 459.0,171.6 458.2,172.5 457.4,173.0 456.1,173.5 455.0,173.8 454.0,174.0 452.5,174.3 451.0,174.5Z"/>
<path d="M392.5,195.5 391.3,195.5 390.0,195.4 388.5,195.1 387.5,194.9 386.2,194.5 385.0,194.1 384.0,193.7 383.0,193.3 382.0,192.8 381.0,192.2 380.0,191.6 379.3,191.0 378.5,190.4 377.6,189.5 377.0,188.7 376.4,188.0 375.8,187.0 375.2,186.0 374.6,185.0 374.1,184.0 373.7,183.0 373.2,182.0 372.8,181.0 372.4,180.0 372.0,178.8 371.6,177.5 371.3,176.5 371.0,175.2 370.8,174.0 370.6,172.5 370.5,171.5 370.4,170.0 370.4,168.5 370.4,167.0 370.5,165.5 370.5,164.5 370.6,163.0 370.7,161.5 370.8,160.0 370.9,158.5 371.0,157.5 371.2,156.0 371.3,154.5 371.5,153.0 371.6,152.0 371.8,150.5 372.0,149.2 372.2,148.0 372.4,146.5 372.6,145.5 372.9,144.0 373.1,143.0 373.4,141.5 373.5,140.5 373.8,139.0 374.0,138.0 374.3,136.5 374.5,135.0 374.6,134.0 374.8,132.5 375.0,131.0 375.1,130.0 375.2,128.5 375.3,127.0 375.4,125.5 375.4,124.0 375.5,122.5 375.5,121.0 375.5,120.0 375.6,118.5 375.6,117.0 375.7,115.5 375.7,114.0 375.8,112.5 375.9,111.0 375.9,109.5 376.0,108.0 376.0,107.0 376.1,105.5 376.2,104.0 376.2,102.5 376.3,101.0 376.5,99.5 376.6,98.5 376.8,97.0 377.0,95.5 377.2,94.5 377.5,93.0 377.7,92.0 378.0,90.8 378.4,89.5 378.6,88.5 379.0,87.3 379.4,86.0 379.8,85.0 380.2,84.0 380.7,83.0 381.2,82.0 381.8,81.0 382.5,80.0 383.0,79.4 383.9,78.5 384.5,78.0 385.5,77.2 386.5,76.6 387.5,76.2 388.5,75.8 389.5,75.4 391.0,75.1 392.0,74.9 393.5,74.7 395.0,74.5 396.0,74.5 397.5,74.5 398.5,74.5 400.0,74.7 401.5,74.9 402.5,75.1 404.0,75.4 405.0,75.6 406.2,76.0 407.5,76.4 408.5,76.7 409.5,77.1 410.6,77.5 411.9,78.0 413.0,78.5 414.0,78.9 415.0,79.4 416.0,79.9 417.0,80.4 417.9,81.0 418.6,81.5 419.5,82.3 420.2,83.0 421.0,84.0 421.5,84.7 422.0,85.6 422.5,86.8 422.9,88.0 423.2,89.0 423.5,90.5 423.6,91.5 423.8,93.0 424.0,94.5 424.1,95.5 424.2,97.0 424.3,98.5 424.3,100.0 424.4,101.5 424.5,103.0 424.5,104.0 424.6,105.5 424.6,107.0 424.7,108.5 424.7,110.0 424.8,111.5 424.8,113.0 424.8,114.5 424.8,116.0 424.8,117.5 424.8,119.0 424.8,120.5 424.7,122.0 424.7,123.5 424.6,125.0 424.6,126.5 424.5,128.0 424.5,129.5 424.5,131.0 424.5,132.0 424.5,133.5 424.5,135.0 424.4,136.5 424.4,138.0 424.4,139.5 424.4,141.0 424.4,142.5 424.3,144.0 424.3,145.5 424.3,147.0 424.3,148.5 424.3,150.0 424.3,151.5 424.3,153.0 424.3,154.5 424.3,156.0 424.3,157.5 424.3,159.0 424.3,160.5 424.2,162.0 424.1,163.5 424.0,165.0 424.0,166.0 423.8,167.5 423.7,169.0 423.5,170.5 423.3,171.5 423.1,173.0 422.9,174.0 422.5,175.3 422.1,176.5 421.6,177.5 421.0,178.5 420.5,179.3 420.0,180.0 419.1,181.0 418.5,181.6 417.6,182.5 417.0,183.0 416.0,183.9 415.2,184.5 414.5,185.1 413.5,185.9 412.7,186.5 412.0,187.1 411.0,187.8 410.0,188.5 409.3,189.0 408.5,189.5 407.5,190.1 406.5,190.7 405.5,191.3 404.5,191.8 403.5,192.3 402.5,192.7 401.5,193.2 400.5,193.6 399.5,194.0 398.0,194.5 397.0,194.8 396.0,195.1 394.5,195.3 393.0,195.5Z"/>
<path d="M393.5,194.5 392.0,194.6 390.5,194.6 389.5,194.4 388.0,194.1 387.0,193.9 385.8,193.5 384.5,193.0 383.5,192.6 382.5,192.0 381.5,191.5 380.8,191.0 380.0,190.4 379.0,189.5 378.5,189.0 377.6,188.0 377.0,187.2 376.5,186.4 376.0,185.5 375.4,184.5 374.9,183.5 374.5,182.5 374.0,181.4 373.5,180.1 373.1,179.0 372.8,178.0 372.5,177.0 372.1,175.5 371.9,174.5 371.7,173.0 371.5,171.5 371.5,170.5 371.5,169.0 371.5,167.5 371.5,166.5 371.6,165.0 371.7,163.5 371.8,162.0 371.9,160.5 372.1,159.5 372.2,158.0 372.4,156.5 372.5,155.5 372.8,154.0 373.0,152.5 373.2,151.5 373.4,150.0 373.6,149.0 373.9,147.5 374.1,146.5 374.5,145.0 374.7,144.0 375.0,142.9 375.3,141.5 375.6,140.5 375.9,139.0 376.2,138.0 376.5,136.6 376.7,135.5 377.0,134.2 377.2,133.0 377.4,131.5 377.6,130.5 377.7,129.0 377.8,127.5 377.9,126.0 377.9,124.5 377.9,123.0 377.9,121.5 377.9,120.0 377.9,118.5 377.9,117.0 377.9,115.5 377.9,114.0 377.9,112.5 377.9,111.0 377.9,109.5 377.9,108.0 377.9,106.5 378.0,105.0 378.0,103.5 378.0,102.5 378.1,101.0 378.2,99.5 378.3,98.0 378.5,96.6 378.7,95.5 378.9,94.0 379.1,93.0 379.5,91.5 379.7,90.5 380.0,89.5 380.5,88.0 380.8,87.0 381.2,86.0 381.6,85.0 382.1,84.0 382.6,83.0 383.2,82.0 384.0,81.0 384.5,80.4 385.5,79.5 386.1,79.0 387.0,78.4 388.0,77.9 389.0,77.4 390.3,77.0 391.5,76.7 392.7,76.5 394.0,76.3 395.5,76.3 397.0,76.3 398.5,76.4 399.5,76.5 401.0,76.8 402.0,77.0 403.5,77.4 404.5,77.8 405.5,78.1 406.5,78.5 407.6,79.0 408.7,79.5 409.8,80.0 410.8,80.5 411.7,81.0 412.6,81.5 413.5,82.0 414.5,82.7 415.5,83.4 416.2,84.0 417.0,84.8 417.6,85.5 418.3,86.5 418.9,87.5 419.4,88.5 419.7,89.5 420.0,90.5 420.3,92.0 420.5,93.1 420.7,94.5 420.8,96.0 420.9,97.5 421.0,98.5 421.1,100.0 421.2,101.5 421.2,103.0 421.3,104.5 421.3,106.0 421.4,107.5 421.4,109.0 421.5,110.5 421.5,112.0 421.5,113.5 421.5,114.5 421.5,116.0 421.5,117.1 421.5,118.5 421.4,120.0 421.4,121.5 421.3,123.0 421.3,124.5 421.2,126.0 421.2,127.5 421.2,129.0 421.2,130.5 421.2,132.0 421.2,133.5 421.2,135.0 421.2,136.5 421.2,138.0 421.2,139.5 421.3,141.0 421.3,142.5 421.4,144.0 421.4,145.5 421.4,147.0 421.5,148.5 421.5,149.5 421.6,151.0 421.6,152.5 421.7,154.0 421.7,155.5 421.7,157.0 421.8,158.5 421.8,160.0 421.8,161.5 421.7,163.0 421.7,164.5 421.6,166.0 421.5,167.0 421.4,168.5 421.2,170.0 421.0,171.3 420.8,172.5 420.5,173.6 420.1,175.0 419.7,176.0 419.2,177.0 418.6,178.0 418.0,178.8 417.5,179.5 416.6,180.5 416.0,181.2 415.2,182.0 414.5,182.7 413.6,183.5 413.0,184.0 412.0,184.9 411.4,185.5 410.5,186.2 409.5,187.0 408.9,187.5 408.0,188.1 407.0,188.8 406.0,189.5 405.2,190.0 404.3,190.5 403.5,191.0 402.5,191.5 401.5,192.0 400.4,192.5 399.3,193.0 398.0,193.5 397.0,193.8 396.0,194.1 394.5,194.4 393.5,194.5Z"/>
<path d="M394.0,193.5 392.5,193.7 391.0,193.7 389.5,193.6 388.5,193.4 387.0,193.0 386.0,192.7 385.0,192.3 384.0,191.8 383.0,191.3 382.0,190.7 381.0,190.0 380.3,189.5 379.5,188.7 378.8,188.0 378.0,187.0 377.5,186.2 377.0,185.4 376.5,184.5 376.0,183.5 375.5,182.5 375.0,181.3 374.5,180.1 374.1,179.0 373.8,178.0 373.5,177.0 373.1,175.5 372.9,174.5 372.7,173.0 372.6,171.5 372.5,170.0 372.5,168.5 372.6,167.0 372.6,165.5 372.8,164.0 372.9,162.5 373.0,161.5 373.2,160.0 373.4,158.5 373.5,157.5 373.8,156.0 374.0,154.8 374.2,153.5 374.5,152.2 374.8,151.0 375.0,150.0 375.4,148.5 375.6,147.5 376.0,146.2 376.3,145.0 376.6,144.0 377.0,142.8 377.4,141.5 377.7,140.5 378.1,139.5 378.5,138.1 378.8,137.0 379.1,136.0 379.5,134.6 379.8,133.5 380.0,132.4 380.2,131.0 380.4,129.5 380.5,128.4 380.5,127.0 380.5,125.5 380.5,124.5 380.4,123.0 380.3,121.5 380.3,120.0 380.2,118.5 380.1,117.0 380.1,115.5 380.1,114.0 380.0,112.5 380.0,111.5 379.9,110.0 379.9,108.5 379.8,107.0 379.8,105.5 379.7,104.0 379.7,102.5 379.7,101.0 379.8,99.5 379.9,98.0 380.0,97.0 380.2,95.5 380.5,94.0 380.7,93.0 381.0,91.7 381.3,90.5 381.6,89.5 382.0,88.3 382.5,87.0 382.9,86.0 383.4,85.0 384.0,84.0 384.5,83.2 385.0,82.5 385.9,81.5 386.5,81.0 387.5,80.2 388.5,79.6 389.5,79.1 390.5,78.8 391.5,78.5 393.0,78.2 394.5,78.1 396.0,78.0 397.5,78.1 399.0,78.4 400.0,78.6 401.5,79.0 402.5,79.3 403.5,79.7 404.5,80.1 405.5,80.6 406.5,81.1 407.5,81.7 408.5,82.3 409.5,82.9 410.4,83.5 411.1,84.0 412.0,84.7 413.0,85.5 413.5,86.0 414.4,87.0 415.0,87.8 415.5,88.5 416.0,89.5 416.5,90.6 416.9,92.0 417.2,93.0 417.5,94.5 417.6,95.5 417.7,97.0 417.9,98.5 417.9,100.0 418.0,101.3 418.0,102.5 418.1,104.0 418.1,105.5 418.1,107.0 418.2,108.5 418.2,110.0 418.2,111.5 418.2,113.0 418.2,114.5 418.2,116.0 418.1,117.5 418.1,119.0 418.0,120.5 418.0,121.5 417.9,123.0 417.8,124.5 417.8,126.0 417.7,127.5 417.7,129.0 417.7,130.5 417.7,132.0 417.8,133.5 417.8,135.0 417.9,136.5 418.0,138.0 418.0,139.0 418.1,140.5 418.2,142.0 418.4,143.5 418.5,145.0 418.5,146.0 418.7,147.5 418.8,149.0 418.9,150.5 419.0,152.0 419.0,153.0 419.1,154.5 419.2,156.0 419.3,157.5 419.3,159.0 419.4,160.5 419.4,162.0 419.4,163.5 419.3,165.0 419.3,166.5 419.1,168.0 419.0,169.3 418.8,170.5 418.5,172.0 418.3,173.0 418.0,174.0 417.5,175.2 417.0,176.2 416.5,177.1 415.9,178.0 415.2,179.0 414.5,179.8 413.9,180.5 413.0,181.5 412.5,182.0 411.6,183.0 411.0,183.6 410.0,184.5 409.5,185.0 408.5,185.9 407.8,186.5 407.0,187.1 406.0,187.9 405.1,188.5 404.4,189.0 403.5,189.6 402.5,190.2 401.5,190.8 400.5,191.3 399.5,191.8 398.5,192.2 397.5,192.6 396.3,193.0 395.0,193.4 394.0,193.5Z"/>
<path d="M394.0,192.6 392.5,192.8 391.0,192.8 389.5,192.7 388.5,192.5 387.0,192.1 386.0,191.7 385.0,191.3 384.0,190.9 383.0,190.3 382.0,189.6 381.2,189.0 380.5,188.4 379.6,187.5 379.0,186.7 378.5,186.0 377.8,185.0 377.3,184.0 376.7,183.0 376.3,182.0 375.9,181.0 375.5,180.0 375.0,178.7 374.6,177.5 374.4,176.5 374.0,175.0 373.9,174.0 373.7,172.5 373.6,171.0 373.5,169.5 373.6,168.0 373.6,166.5 373.7,165.0 373.9,163.5 374.0,162.5 374.2,161.0 374.4,159.5 374.6,158.5 374.9,157.0 375.1,156.0 375.4,154.5 375.7,153.5 376.0,152.2 376.3,151.0 376.6,150.0 377.0,148.7 377.4,147.5 377.7,146.5 378.1,145.5 378.5,144.4 379.0,143.1 379.4,142.0 379.9,141.0 380.3,140.0 380.7,139.0 381.1,138.0 381.5,136.9 382.0,135.6 382.4,134.5 382.7,133.5 383.0,132.4 383.3,131.0 383.5,129.5 383.5,128.5 383.5,127.0 383.5,126.0 383.3,124.5 383.1,123.0 383.0,122.0 382.8,120.5 382.6,119.0 382.5,117.5 382.4,116.5 382.3,115.0 382.2,113.5 382.1,112.0 382.0,111.0 381.9,109.5 381.7,108.0 381.6,106.5 381.5,105.5 381.4,104.0 381.3,102.5 381.3,101.0 381.4,99.5 381.4,98.0 381.5,97.0 381.7,95.5 382.0,94.0 382.2,93.0 382.5,91.8 382.9,90.5 383.2,89.5 383.5,88.5 384.0,87.4 384.5,86.4 385.0,85.4 385.6,84.5 386.4,83.5 387.0,82.9 388.0,82.0 388.8,81.5 389.7,81.0 390.9,80.5 392.0,80.2 393.0,80.0 394.5,79.8 396.0,79.9 397.4,80.0 398.5,80.2 399.6,80.5 401.0,81.0 402.0,81.4 403.0,81.8 404.0,82.4 405.0,83.0 405.8,83.5 406.6,84.0 407.5,84.7 408.5,85.5 409.1,86.0 410.0,86.9 410.6,87.5 411.5,88.5 412.0,89.2 412.5,90.0 413.1,91.0 413.5,92.0 414.0,93.4 414.3,94.5 414.5,95.7 414.7,97.0 414.8,98.5 414.9,100.0 415.0,101.5 415.0,103.0 415.0,104.0 415.0,105.5 415.0,106.9 415.0,108.0 415.0,109.5 414.9,111.0 414.9,112.5 414.9,114.0 414.8,115.5 414.7,117.0 414.7,118.5 414.6,120.0 414.5,121.0 414.4,122.5 414.3,124.0 414.2,125.5 414.1,127.0 414.1,128.5 414.1,130.0 414.2,131.5 414.3,133.0 414.4,134.5 414.5,135.9 414.6,137.0 414.8,138.5 414.9,140.0 415.1,141.0 415.2,142.5 415.4,144.0 415.6,145.0 415.8,146.5 415.9,148.0 416.1,149.0 416.2,150.5 416.4,152.0 416.5,153.0 416.6,154.5 416.8,156.0 416.9,157.5 417.0,159.0 417.0,160.0 417.1,161.5 417.1,163.0 417.1,164.5 417.1,166.0 417.0,167.0 416.9,168.5 416.7,170.0 416.5,171.0 416.1,172.5 415.8,173.5 415.4,174.5 414.9,175.5 414.3,176.5 413.7,177.5 413.0,178.5 412.5,179.2 411.9,180.0 411.0,181.0 410.5,181.6 409.7,182.5 409.0,183.3 408.3,184.0 407.5,184.8 406.7,185.5 406.0,186.1 405.0,187.0 404.3,187.5 403.5,188.1 402.5,188.8 401.5,189.4 400.6,190.0 399.7,190.5 398.7,191.0 397.6,191.5 396.5,191.9 395.5,192.2 394.4,192.5Z"/>
<path d="M394.0,191.6 392.5,191.8 391.0,191.9 389.5,191.7 388.3,191.5 387.0,191.2 386.0,190.8 385.0,190.4 384.0,189.8 383.0,189.2 382.0,188.5 381.4,188.0 380.5,187.1 380.0,186.5 379.2,185.5 378.6,184.5 378.0,183.5 377.5,182.5 377.0,181.5 376.6,180.5 376.3,179.5 375.9,178.5 375.5,177.1 375.2,176.0 375.0,174.9 374.8,173.5 374.6,172.0 374.5,170.5 374.5,169.0 374.6,167.5 374.7,166.0 374.9,164.5 375.0,163.4 375.2,162.0 375.5,160.5 375.6,159.5 376.0,158.0 376.2,157.0 376.5,155.8 376.8,154.5 377.1,153.5 377.5,152.3 377.9,151.0 378.3,150.0 378.7,149.0 379.1,148.0 379.5,147.0 380.0,145.8 380.5,144.8 381.0,143.7 381.5,142.7 382.0,141.7 382.5,140.8 383.0,139.9 383.5,138.9 384.0,138.0 384.5,137.0 385.0,136.0 385.5,135.0 386.0,134.0 386.5,132.6 386.8,131.5 387.0,130.5 387.1,129.0 387.0,127.5 386.8,126.5 386.5,125.1 386.2,124.0 386.0,123.0 385.6,121.5 385.4,120.5 385.2,119.0 385.0,117.9 384.8,116.5 384.7,115.0 384.5,113.7 384.3,112.5 384.1,111.0 383.9,110.0 383.6,108.5 383.5,107.5 383.2,106.0 383.1,104.5 383.0,103.5 382.9,102.0 382.8,100.5 382.8,99.0 382.9,97.5 383.0,96.5 383.2,95.0 383.5,93.6 383.8,92.5 384.0,91.5 384.5,90.1 384.9,89.0 385.4,88.0 385.9,87.0 386.5,86.1 387.0,85.4 387.8,84.5 388.5,83.9 389.5,83.1 390.5,82.6 391.5,82.2 392.5,81.9 394.0,81.7 395.5,81.7 397.0,81.8 398.0,82.1 399.4,82.5 400.5,83.0 401.5,83.5 402.4,84.0 403.2,84.5 404.0,85.1 405.0,85.9 405.7,86.5 406.5,87.2 407.3,88.0 408.0,88.8 408.5,89.5 409.3,90.5 409.9,91.5 410.4,92.5 410.8,93.5 411.1,94.5 411.5,95.9 411.7,97.0 411.9,98.5 412.0,100.0 412.0,101.0 412.1,102.5 412.0,104.0 412.0,105.3 412.0,106.5 411.9,108.0 411.8,109.5 411.7,111.0 411.6,112.5 411.5,114.0 411.5,115.0 411.3,116.5 411.2,118.0 411.0,119.5 410.9,120.5 410.8,122.0 410.6,123.5 410.5,124.6 410.4,126.0 410.3,127.5 410.3,129.0 410.3,130.5 410.5,132.0 410.6,133.0 410.7,134.5 411.0,136.0 411.1,137.0 411.4,138.5 411.6,139.5 411.9,141.0 412.1,142.0 412.4,143.5 412.6,144.5 412.8,146.0 413.0,147.0 413.3,148.5 413.5,149.7 413.7,151.0 413.9,152.5 414.1,153.5 414.3,155.0 414.4,156.5 414.5,157.5 414.7,159.0 414.8,160.5 414.9,162.0 414.9,163.5 414.9,165.0 414.8,166.5 414.7,168.0 414.5,169.5 414.3,170.5 414.0,171.8 413.6,173.0 413.2,174.0 412.8,175.0 412.2,176.0 411.6,177.0 411.0,178.0 410.5,178.7 410.0,179.5 409.2,180.5 408.5,181.4 408.0,182.0 407.1,183.0 406.5,183.7 405.7,184.5 405.0,185.2 404.1,186.0 403.5,186.5 402.5,187.3 401.6,188.0 400.9,188.5 400.0,189.0 399.0,189.6 398.0,190.2 397.0,190.6 396.0,191.0 394.5,191.5Z"/>
<path d="M394.0,190.6 392.5,190.8 391.0,190.9 389.5,190.8 388.0,190.5 387.0,190.2 386.0,189.8 385.0,189.4 384.0,188.8 383.0,188.1 382.2,187.5 381.5,186.8 380.8,186.0 380.0,185.0 379.5,184.3 379.0,183.4 378.5,182.5 378.0,181.4 377.5,180.3 377.0,179.0 376.7,178.0 376.4,177.0 376.1,175.5 375.9,174.5 375.7,173.0 375.6,171.5 375.5,170.0 375.5,168.5 375.6,167.0 375.8,165.5 376.0,164.0 376.1,163.0 376.4,161.5 376.6,160.5 377.0,159.0 377.2,158.0 377.5,157.0 378.0,155.5 378.3,154.5 378.7,153.5 379.0,152.5 379.5,151.3 380.0,150.2 380.5,149.1 381.0,148.1 381.5,147.2 382.0,146.3 382.5,145.4 383.1,144.5 383.7,143.5 384.4,142.5 385.0,141.6 385.5,140.9 386.1,140.0 386.9,139.0 387.5,138.2 388.0,137.5 388.8,136.5 389.5,135.5 390.0,134.8 390.5,134.0 391.1,133.0 391.5,132.0 391.9,130.5 391.9,129.0 391.5,127.5 391.0,126.5 390.5,125.5 390.0,124.6 389.5,123.7 389.0,122.7 388.5,121.5 388.2,120.5 387.9,119.5 387.6,118.0 387.4,117.0 387.2,115.5 387.0,114.1 386.8,113.0 386.5,111.9 386.1,110.5 385.8,109.5 385.5,108.3 385.2,107.0 384.9,106.0 384.7,104.5 384.5,103.5 384.3,102.0 384.2,100.5 384.2,99.0 384.3,97.5 384.5,96.0 384.6,95.0 384.9,93.5 385.2,92.5 385.5,91.5 386.0,90.2 386.5,89.1 387.0,88.2 387.5,87.5 388.3,86.5 389.0,85.7 389.9,85.0 390.7,84.5 391.9,84.0 393.0,83.7 394.5,83.5 396.0,83.6 397.5,83.9 398.5,84.3 399.5,84.7 400.5,85.3 401.5,86.0 402.2,86.5 403.0,87.2 403.9,88.0 404.5,88.7 405.2,89.5 405.9,90.5 406.5,91.3 407.0,92.2 407.5,93.2 408.0,94.3 408.4,95.5 408.7,96.5 408.9,98.0 409.1,99.0 409.2,100.5 409.2,102.0 409.2,103.5 409.1,105.0 409.0,106.0 408.8,107.5 408.7,109.0 408.5,110.5 408.4,111.5 408.2,113.0 408.0,114.4 407.8,115.5 407.6,117.0 407.5,118.0 407.2,119.5 407.0,120.6 406.7,122.0 406.5,123.1 406.2,124.5 406.0,125.7 405.8,127.0 405.7,128.5 405.8,130.0 406.0,131.5 406.1,132.5 406.5,134.0 406.8,135.0 407.1,136.0 407.5,137.5 407.8,138.5 408.1,139.5 408.5,140.9 408.8,142.0 409.1,143.0 409.5,144.4 409.8,145.5 410.1,146.5 410.4,148.0 410.7,149.0 411.0,150.5 411.2,151.5 411.5,153.0 411.7,154.0 411.9,155.5 412.1,156.5 412.3,158.0 412.5,159.5 412.6,160.5 412.7,162.0 412.7,163.5 412.7,165.0 412.7,166.5 412.6,168.0 412.4,169.0 412.1,170.5 411.9,171.5 411.5,172.6 411.0,173.9 410.5,175.0 410.0,176.0 409.5,176.9 409.0,177.7 408.5,178.5 407.8,179.5 407.1,180.5 406.5,181.3 406.0,182.0 405.1,183.0 404.5,183.7 403.7,184.5 403.0,185.2 402.1,186.0 401.5,186.5 400.5,187.3 399.6,188.0 398.8,188.5 397.9,189.0 397.0,189.5 395.8,190.0 394.5,190.4Z"/>
<path d="M397.5,124.1 396.2,124.0 395.0,123.7 394.0,123.3 393.0,122.6 392.3,122.0 391.5,121.1 391.0,120.2 390.5,119.0 390.3,118.0 390.1,116.5 390.0,115.2 389.8,114.0 389.5,112.9 389.0,111.6 388.5,110.5 388.0,109.5 387.6,108.5 387.2,107.5 386.8,106.5 386.5,105.4 386.1,104.0 385.9,103.0 385.7,101.5 385.6,100.0 385.6,98.5 385.7,97.0 385.9,95.5 386.1,94.5 386.5,93.0 386.8,92.0 387.2,91.0 387.7,90.0 388.3,89.0 389.0,88.1 389.6,87.5 390.5,86.7 391.5,86.2 392.5,85.8 393.8,85.5 395.0,85.5 396.0,85.6 397.4,86.0 398.5,86.5 399.3,87.0 400.0,87.5 401.0,88.3 401.7,89.0 402.5,89.9 403.0,90.6 403.6,91.5 404.2,92.5 404.7,93.5 405.2,94.5 405.5,95.5 405.9,97.0 406.1,98.0 406.3,99.5 406.3,101.0 406.3,102.5 406.2,104.0 406.0,105.4 405.8,106.5 405.5,108.0 405.3,109.0 405.0,110.2 404.7,111.5 404.4,112.5 404.0,114.0 403.7,115.0 403.5,116.0 403.1,117.5 402.8,118.5 402.4,119.5 401.9,120.5 401.4,121.5 400.6,122.5 400.0,123.0 399.0,123.7 397.9,124.0Z"/>
<path d="M394.0,189.5 392.5,189.8 391.0,189.9 389.5,189.8 388.0,189.5 387.0,189.2 386.0,188.8 385.0,188.3 384.0,187.7 383.1,187.0 382.5,186.5 381.5,185.5 381.0,184.8 380.4,184.0 379.8,183.0 379.2,182.0 378.8,181.0 378.3,180.0 378.0,179.0 377.5,177.5 377.2,176.5 377.0,175.5 376.7,174.0 376.6,172.5 376.5,171.3 376.5,170.0 376.5,169.0 376.6,167.5 376.7,166.0 377.0,164.5 377.1,163.5 377.4,162.0 377.7,161.0 378.0,159.8 378.4,158.5 378.7,157.5 379.0,156.5 379.5,155.3 380.0,154.1 380.5,153.0 381.0,152.0 381.5,151.0 382.0,150.1 382.5,149.3 383.0,148.5 383.7,147.5 384.4,146.5 385.0,145.7 385.6,145.0 386.5,144.0 387.0,143.4 387.9,142.5 388.5,141.9 389.5,141.0 390.1,140.5 391.0,139.7 391.9,139.0 392.6,138.5 393.5,137.9 394.5,137.2 395.5,136.6 396.5,136.2 397.5,135.8 399.0,135.7 400.3,136.0 401.1,136.5 402.0,137.3 402.7,138.0 403.4,139.0 404.0,140.0 404.5,140.8 405.0,141.8 405.5,142.8 406.0,144.0 406.4,145.0 406.8,146.0 407.2,147.0 407.5,148.0 408.0,149.5 408.3,150.5 408.6,151.5 409.0,153.0 409.2,154.0 409.5,155.4 409.7,156.5 410.0,158.0 410.1,159.0 410.3,160.5 410.5,162.0 410.6,163.0 410.6,164.5 410.6,166.0 410.5,167.2 410.4,168.5 410.1,170.0 409.8,171.0 409.5,172.1 409.0,173.5 408.6,174.5 408.1,175.5 407.6,176.5 407.1,177.5 406.5,178.5 406.0,179.3 405.5,180.1 404.9,181.0 404.1,182.0 403.5,182.7 402.9,183.5 402.0,184.4 401.4,185.0 400.5,185.8 399.7,186.5 399.0,187.0 398.0,187.7 397.0,188.3 396.0,188.8 395.0,189.2 394.0,189.5Z"/>
<path d="M396.0,119.0 394.9,119.0 394.0,118.3 393.7,117.0 394.0,115.7 394.5,114.6 394.6,113.5 394.0,112.7 393.3,112.0 392.5,111.3 391.7,110.5 391.0,109.8 390.4,109.0 389.6,108.0 389.0,107.0 388.5,106.0 388.1,105.0 387.7,104.0 387.4,103.0 387.1,101.5 387.0,100.5 386.9,99.0 386.9,97.5 387.0,96.5 387.3,95.0 387.5,94.0 388.0,92.7 388.5,91.6 389.0,90.7 389.5,90.0 390.4,89.0 391.1,88.5 392.0,88.0 393.5,87.5 394.5,87.4 395.5,87.5 396.9,88.0 397.9,88.5 398.6,89.0 399.5,89.8 400.1,90.5 400.9,91.5 401.5,92.4 402.0,93.4 402.5,94.5 402.8,95.5 403.1,96.5 403.4,98.0 403.5,99.0 403.6,100.5 403.5,101.6 403.3,103.0 403.0,104.5 402.7,105.5 402.4,106.5 402.0,107.5 401.5,108.5 400.9,109.5 400.2,110.5 399.5,111.3 398.9,112.0 398.0,112.9 397.4,113.5 397.1,115.0 397.3,116.5 397.1,118.0 396.5,118.7Z"/>
<path d="M393.5,188.6 392.0,188.9 390.5,188.9 389.0,188.8 387.8,188.5 386.5,188.0 385.5,187.5 384.6,187.0 383.9,186.5 383.0,185.7 382.3,185.0 381.5,184.0 381.0,183.3 380.5,182.5 380.0,181.5 379.5,180.5 379.0,179.3 378.6,178.0 378.3,177.0 378.0,175.9 377.7,174.5 377.5,173.0 377.5,172.0 377.4,170.5 377.5,169.0 377.5,168.0 377.7,166.5 377.9,165.0 378.1,164.0 378.4,162.5 378.7,161.5 379.0,160.5 379.5,159.0 379.9,158.0 380.3,157.0 380.7,156.0 381.2,155.0 381.8,154.0 382.3,153.0 383.0,152.0 383.5,151.2 384.0,150.5 384.8,149.5 385.5,148.7 386.2,148.0 387.0,147.2 387.8,146.5 388.5,145.9 389.5,145.2 390.5,144.5 391.4,144.0 392.4,143.5 393.5,143.0 394.5,142.6 395.5,142.4 397.0,142.2 398.5,142.4 399.5,142.8 400.5,143.3 401.3,144.0 402.0,144.7 402.6,145.5 403.3,146.5 403.9,147.5 404.4,148.5 404.9,149.5 405.4,150.5 405.8,151.5 406.1,152.5 406.5,153.6 406.9,155.0 407.2,156.0 407.5,157.3 407.8,158.5 408.0,159.8 408.2,161.0 408.4,162.5 408.5,164.0 408.5,165.5 408.4,167.0 408.3,168.5 408.0,169.9 407.8,171.0 407.5,172.0 407.0,173.5 406.6,174.5 406.2,175.5 405.7,176.5 405.2,177.5 404.7,178.5 404.1,179.5 403.5,180.4 403.0,181.1 402.4,182.0 401.6,183.0 401.0,183.6 400.2,184.5 399.5,185.1 398.5,186.0 397.8,186.5 397.0,187.0 396.0,187.6 395.0,188.1 393.8,188.5Z"/>
<path d="M396.0,108.0 394.5,108.2 393.5,108.0 392.5,107.5 391.5,106.8 390.7,106.0 390.0,105.0 389.5,104.2 389.0,103.1 388.6,102.0 388.4,101.0 388.2,99.5 388.2,98.0 388.3,96.5 388.5,95.3 388.9,94.0 389.3,93.0 389.9,92.0 390.5,91.2 391.3,90.5 392.0,90.0 393.4,89.5 394.5,89.4 395.5,89.6 396.5,90.0 397.5,90.7 398.3,91.5 399.0,92.4 399.5,93.2 400.0,94.2 400.5,95.5 400.7,96.5 400.9,98.0 401.0,99.5 400.9,101.0 400.6,102.5 400.2,103.5 399.8,104.5 399.2,105.5 398.5,106.5 397.9,107.0 397.0,107.6 396.0,108.0Z"/>
<path d="M393.5,187.5 392.0,187.8 390.5,187.9 389.0,187.8 387.8,187.5 386.5,187.0 385.6,186.5 384.8,186.0 384.0,185.4 383.1,184.5 382.5,183.8 381.9,183.0 381.2,182.0 380.7,181.0 380.2,180.0 379.8,179.0 379.5,178.0 379.0,176.5 378.8,175.5 378.6,174.0 378.4,173.0 378.4,171.5 378.3,170.0 378.4,168.5 378.5,167.5 378.8,166.0 379.0,164.7 379.3,163.5 379.6,162.5 380.0,161.2 380.4,160.0 380.8,159.0 381.3,158.0 381.8,157.0 382.4,156.0 383.0,155.0 383.5,154.3 384.1,153.5 384.9,152.5 385.5,151.9 386.4,151.0 387.0,150.5 388.0,149.7 389.0,149.0 389.9,148.5 390.9,148.0 392.0,147.6 393.0,147.3 394.5,147.0 395.5,147.0 396.5,147.0 398.0,147.4 399.0,147.9 399.8,148.5 400.5,149.1 401.4,150.0 402.0,150.9 402.5,151.6 403.0,152.5 403.5,153.5 404.0,154.5 404.5,155.8 404.9,157.0 405.2,158.0 405.5,159.0 405.8,160.5 406.0,161.5 406.2,163.0 406.3,164.5 406.4,166.0 406.3,167.5 406.1,169.0 406.0,170.0 405.7,171.5 405.4,172.5 405.0,173.8 404.6,175.0 404.2,176.0 403.7,177.0 403.2,178.0 402.7,179.0 402.1,180.0 401.5,180.9 401.0,181.6 400.3,182.5 399.5,183.5 399.0,184.0 398.0,184.9 397.3,185.5 396.5,186.1 395.5,186.7 394.5,187.1 393.5,187.5Z"/>
<path d="M395.0,105.1 393.5,105.1 392.5,104.8 391.5,104.0 391.0,103.4 390.4,102.5 390.0,101.5 389.6,100.0 389.4,99.0 389.4,97.5 389.5,96.5 389.9,95.0 390.4,94.0 391.0,93.0 391.5,92.5 392.5,91.8 393.5,91.5 394.7,91.5 395.9,92.0 396.5,92.5 397.4,93.5 398.0,94.5 398.4,95.5 398.7,96.5 398.8,98.0 398.8,99.5 398.5,101.0 398.2,102.0 397.7,103.0 397.0,103.9 396.3,104.5 395.4,105.0Z"/>
<path d="M393.0,186.6 391.5,186.9 390.0,186.9 388.5,186.7 387.5,186.4 386.5,185.9 385.5,185.3 384.5,184.6 383.9,184.0 383.0,183.0 382.5,182.3 382.0,181.5 381.4,180.5 381.0,179.5 380.5,178.3 380.1,177.0 379.8,176.0 379.5,174.5 379.4,173.5 379.3,172.0 379.2,170.5 379.3,169.0 379.5,167.5 379.7,166.5 380.0,165.0 380.2,164.0 380.6,163.0 381.0,161.8 381.5,160.6 382.0,159.5 382.5,158.6 383.0,157.8 383.5,157.0 384.3,156.0 385.0,155.2 385.7,154.5 386.5,153.7 387.5,153.0 388.2,152.5 389.1,152.0 390.2,151.5 391.5,151.1 392.5,150.9 394.0,150.8 395.5,151.0 396.5,151.3 397.5,151.7 398.5,152.3 399.3,153.0 400.0,153.7 400.6,154.5 401.3,155.5 401.9,156.5 402.4,157.5 402.8,158.5 403.1,159.5 403.5,160.7 403.8,162.0 404.0,163.0 404.2,164.5 404.3,166.0 404.3,167.5 404.2,169.0 404.0,170.4 403.8,171.5 403.5,172.8 403.2,174.0 402.9,175.0 402.5,176.0 402.0,177.2 401.5,178.3 401.0,179.2 400.5,180.1 399.9,181.0 399.2,182.0 398.5,182.8 397.8,183.5 397.0,184.3 396.1,185.0 395.3,185.5 394.4,186.0 393.2,186.5Z"/>
<path d="M394.5,102.6 393.0,102.5 392.2,102.0 391.5,101.1 391.0,100.0 390.8,99.0 390.8,97.5 391.0,96.3 391.5,95.1 392.0,94.4 393.0,93.7 394.0,93.5 395.0,93.8 395.8,94.5 396.4,95.5 396.8,96.5 397.0,98.0 396.8,99.5 396.5,100.6 396.0,101.5 395.0,102.4Z"/>
<path d="M392.5,185.6 391.0,185.9 389.5,185.8 388.0,185.5 387.0,185.1 386.0,184.5 385.3,184.0 384.5,183.3 383.8,182.5 383.0,181.5 382.5,180.7 382.0,179.7 381.5,178.6 381.1,177.5 380.8,176.5 380.5,175.2 380.3,174.0 380.2,172.5 380.1,171.0 380.2,169.5 380.4,168.0 380.5,167.0 380.9,165.5 381.2,164.5 381.5,163.5 382.0,162.3 382.5,161.3 383.0,160.4 383.5,159.5 384.3,158.5 385.0,157.6 385.6,157.0 386.5,156.2 387.5,155.5 388.4,155.0 389.5,154.5 390.5,154.2 391.9,154.0 393.0,154.0 394.0,154.1 395.3,154.5 396.4,155.0 397.1,155.5 398.0,156.2 398.8,157.0 399.5,158.0 400.0,158.7 400.5,159.6 401.0,160.8 401.5,162.0 401.7,163.0 402.0,164.2 402.2,165.5 402.3,167.0 402.3,168.5 402.3,170.0 402.1,171.5 401.9,172.5 401.6,174.0 401.3,175.0 401.0,176.0 400.5,177.2 400.0,178.3 399.5,179.3 399.0,180.2 398.4,181.0 397.7,182.0 397.0,182.7 396.2,183.5 395.5,184.1 394.5,184.7 393.5,185.2 392.5,185.6Z"/>
<path d="M392.0,184.6 390.5,184.8 389.0,184.7 388.0,184.4 387.0,184.0 386.0,183.3 385.0,182.5 384.5,182.0 383.7,181.0 383.1,180.0 382.6,179.0 382.2,178.0 381.8,177.0 381.5,175.8 381.2,174.5 381.1,173.0 381.0,171.6 381.0,171.0 381.1,169.5 381.3,168.0 381.5,167.0 381.9,165.5 382.3,164.5 382.7,163.5 383.2,162.5 383.8,161.5 384.5,160.5 385.0,159.9 385.9,159.0 386.5,158.5 387.5,157.8 388.5,157.3 389.5,156.9 391.0,156.6 392.5,156.7 393.7,157.0 394.9,157.5 395.7,158.0 396.5,158.6 397.4,159.5 398.0,160.3 398.5,161.1 399.0,162.0 399.5,163.2 399.9,164.5 400.2,165.5 400.4,167.0 400.5,168.0 400.6,169.5 400.5,171.0 400.4,172.0 400.2,173.5 400.0,174.5 399.6,176.0 399.2,177.0 398.8,178.0 398.3,179.0 397.7,180.0 397.0,181.0 396.5,181.6 395.6,182.5 395.0,183.1 394.0,183.7 393.0,184.3 392.0,184.6Z"/>
<path d="M391.5,183.6 390.0,183.7 388.6,183.5 387.5,183.1 386.5,182.5 385.9,182.0 385.0,181.1 384.5,180.5 383.9,179.5 383.4,178.5 382.9,177.5 382.5,176.2 382.2,175.0 382.0,173.5 381.9,172.5 381.9,171.0 382.0,169.7 382.2,168.5 382.5,167.1 382.8,166.0 383.2,165.0 383.7,164.0 384.3,163.0 385.0,162.0 385.5,161.4 386.5,160.5 387.2,160.0 388.1,159.5 389.5,159.0 390.5,158.9 391.9,159.0 393.0,159.3 394.0,159.8 395.0,160.5 395.6,161.0 396.4,162.0 397.0,162.8 397.5,163.7 398.0,164.9 398.4,166.0 398.6,167.0 398.9,168.5 399.0,170.0 399.0,171.0 399.0,172.0 398.8,173.5 398.5,175.0 398.2,176.0 397.9,177.0 397.5,178.0 396.9,179.0 396.3,180.0 395.5,181.0 395.0,181.6 394.0,182.4 393.0,183.0 392.0,183.4Z"/>
<path d="M392.0,182.0 390.5,182.4 389.0,182.3 388.0,181.9 387.0,181.4 386.0,180.5 385.5,179.9 384.9,179.0 384.3,178.0 383.9,177.0 383.5,175.7 383.2,174.5 383.1,173.0 383.0,171.5 383.1,170.0 383.4,168.5 383.6,167.5 384.0,166.3 384.5,165.2 385.0,164.3 385.6,163.5 386.5,162.5 387.2,162.0 388.0,161.5 389.5,161.0 390.5,161.0 391.5,161.1 392.6,161.5 393.5,162.0 394.5,162.9 395.0,163.5 395.7,164.5 396.2,165.5 396.7,166.5 397.0,167.6 397.3,169.0 397.4,170.5 397.5,172.0 397.3,173.5 397.1,175.0 396.8,176.0 396.4,177.0 396.0,178.0 395.4,179.0 394.7,180.0 394.0,180.7 393.0,181.5 392.1,182.0Z"/>
</g>
<g fill="#3a3a3a">
<rect x="465" y="100" width="1" height="1"/>
<rect x="445" y="107" width="1" height="1"/>
<rect x="483" y="190" width="1" height="1"/>
<rect x="366" y="69" width="1" height="1"/>
<rect x="474" y="150" width="1" height="1"/>
<rect x="487" y="175" width="1" height="1"/>
<rect x="366" y="88" width="1" height="1"/>
<rect x="420" y="63" width="1" height="1"/>
<rect x="362" y="103" width="1" height="1"/>
<rect x="488" y="160" width="1" height="1"/>
<rect x="484" y="144" width="1" height="1"/>
<rect x="444" y="80" width="1" height="1"/>
<rect x="458" y="126" width="1" height="1"/>
<rect x="474" y="163" width="1" height="1"/>
<rect x="470" y="124" width="1" height="1"/>
<rect x="353" y="156" width="1" height="1"/>
<rect x="406" y="209" width="1" height="1"/>
<rect x="356" y="165" width="1" height="1"/>
<rect x="363" y="120" width="1" height="1"/>
<rect x="355" y="88" width="1" height="1"/>
<rect x="447" y="114" width="1" height="1"/>
<rect x="467" y="136" width="1" height="1"/>
<rect x="451" y="198" width="1" height="1"/>
<rect x="476" y="187" width="1" height="1"/>
<rect x="365" y="109" width="1" height="1"/>
<rect x="469" y="202" width="1" height="1"/>
<rect x="455" y="131" width="1" height="1"/>
<rect x="480" y="167" width="1" height="1"/>
<rect x="365" y="72" width="1" height="1"/>
<rect x="360" y="72" width="1" height="1"/>
<rect x="440" y="90" width="1" height="1"/>
<rect x="372" y="197" width="1" height="1"/>
<rect x="480" y="165" width="1" height="1"/>
<rect x="424" y="193" width="1" height="1"/>
<rect x="356" y="158" width="1" height="1"/>
<rect x="452" y="122" width="1" height="1"/>
<rect x="459" y="137" width="1" height="1"/>
<rect x="469" y="149" width="1" height="1"/>
<rect x="362" y="195" width="1" height="1"/>
<rect x="362" y="127" width="1" height="1"/>
<rect x="485" y="198" width="1" height="1"/>
<rect x="363" y="152" width="1" height="1"/>
<rect x="450" y="191" width="1" height="1"/>
<rect x="354" y="135" width="1" height="1"/>
<rect x="359" y="168" width="1" height="1"/>
<rect x="446" y="112" width="1" height="1"/>
<rect x="360" y="139" width="1" height="1"/>
<rect x="443" y="93" width="1" height="1"/>
<rect x="434" y="71" width="1" height="1"/>
<rect x="404" y="62" width="1" height="1"/>
<rect x="361" y="170" width="1" height="1"/>
<rect x="364" y="129" width="1" height="1"/>
<rect x="378" y="199" width="1" height="1"/>
<rect x="454" y="192" width="1" height="1"/>
<rect x="450" y="119" width="1" height="1"/>
<rect x="413" y="210" width="1" height="1"/>
<rect x="360" y="149" width="1" height="1"/>
<rect x="476" y="185" width="1" height="1"/>
<rect x="455" y="122" width="1" height="1"/>
<rect x="367" y="90" width="1" height="1"/>
<rect x="362" y="85" width="1" height="1"/>
<rect x="451" y="86" width="1" height="1"/>
<rect x="348" y="151" width="1" height="1"/>
<rect x="374" y="73" width="1" height="1"/>
<rect x="439" y="58" width="1" height="1"/>
<rect x="369" y="192" width="1" height="1"/>
<rect x="354" y="70" width="1" height="1"/>
<rect x="460" y="128" width="1" height="1"/>
<rect x="457" y="133" width="1" height="1"/>
<rect x="470" y="153" width="1" height="1"/>
<rect x="466" y="136" width="1" height="1"/>
<rect x="377" y="204" width="1" height="1"/>
<rect x="490" y="181" width="1" height="1"/>
<rect x="468" y="146" width="1" height="1"/>
<rect x="470" y="153" width="1" height="1"/>
<rect x="460" y="136" width="1" height="1"/>
<rect x="393" y="208" width="1" height="1"/>
<rect x="362" y="95" width="1" height="1"/>
<rect x="479" y="167" width="1" height="1"/>
<rect x="470" y="143" width="1" height="1"/>
<rect x="401" y="62" width="1" height="1"/>
<rect x="454" y="106" width="1" height="1"/>
<rect x="409" y="202" width="1" height="1"/>
<rect x="459" y="188" width="1" height="1"/>
<rect x="408" y="57" width="1" height="1"/>
<rect x="460" y="106" width="1" height="1"/>
<rect x="453" y="56" width="1" height="1"/>
<rect x="371" y="191" width="1" height="1"/>
<rect x="434" y="73" width="1" height="1"/>
<rect x="385" y="64" width="1" height="1"/>
<rect x="420" y="212" width="1" height="1"/>
<rect x="454" y="128" width="1" height="1"/>
<rect x="445" y="110" width="1" height="1"/>
<rect x="389" y="63" width="1" height="1"/>
<rect x="456" y="120" width="1" height="1"/>
<rect x="354" y="116" width="1" height="1"/>
<rect x="460" y="139" width="1" height="1"/>
<rect x="383" y="55" width="1" height="1"/>
<rect x="451" y="80" width="1" height="1"/>
<rect x="366" y="92" width="1" height="1"/>
<rect x="466" y="126" width="1" height="1"/>
<rect x="449" y="107" width="1" height="1"/>
<rect x="360" y="152" width="1" height="1"/>
<rect x="444" y="105" width="1" height="1"/>
<rect x="453" y="200" width="1" height="1"/>
<rect x="380" y="208" width="1" height="1"/>
<rect x="415" y="64" width="1" height="1"/>
<rect x="338" y="92" width="1" height="1"/>
<rect x="360" y="145" width="1" height="1"/>
<rect x="479" y="186" width="1" height="1"/>
<rect x="412" y="64" width="1" height="1"/>
<rect x="361" y="88" width="1" height="1"/>
<rect x="455" y="129" width="1" height="1"/>
<rect x="361" y="163" width="1" height="1"/>
<rect x="404" y="200" width="1" height="1"/>
<rect x="370" y="195" width="1" height="1"/>
<rect x="477" y="188" width="1" height="1"/>
<rect x="379" y="63" width="1" height="1"/>
<rect x="387" y="211" width="1" height="1"/>
<rect x="472" y="152" width="1" height="1"/>
<rect x="460" y="68" width="1" height="1"/>
<rect x="453" y="99" width="1" height="1"/>
<rect x="474" y="154" width="1" height="1"/>
<rect x="454" y="119" width="1" height="1"/>
<rect x="457" y="128" width="1" height="1"/>
<rect x="452" y="189" width="1" height="1"/>
<rect x="456" y="191" width="1" height="1"/>
<rect x="363" y="142" width="1" height="1"/>
<rect x="467" y="188" width="1" height="1"/>
<rect x="362" y="122" width="1" height="1"/>
<rect x="365" y="210" width="1" height="1"/>
<rect x="467" y="151" width="1" height="1"/>
<rect x="418" y="209" width="1" height="1"/>
<rect x="460" y="62" width="1" height="1"/>
<rect x="459" y="197" width="1" height="1"/>
<rect x="354" y="144" width="1" height="1"/>
<rect x="479" y="172" width="1" height="1"/>
<rect x="352" y="89" width="1" height="1"/>
<rect x="474" y="142" width="1" height="1"/>
<rect x="449" y="105" width="1" height="1"/>
<rect x="433" y="72" width="1" height="1"/>
<rect x="359" y="54" width="1" height="1"/>
<rect x="381" y="200" width="1" height="1"/>
<rect x="358" y="163" width="1" height="1"/>
<rect x="443" y="91" width="1" height="1"/>
<rect x="451" y="100" width="1" height="1"/>
<rect x="467" y="130" width="1" height="1"/>
<rect x="459" y="191" width="1" height="1"/>
<rect x="373" y="74" width="1" height="1"/>
<rect x="424" y="209" width="1" height="1"/>
<rect x="360" y="204" width="1" height="1"/>
<rect x="366" y="98" width="1" height="1"/>
<rect x="477" y="157" width="1" height="1"/>
<rect x="448" y="115" width="1" height="1"/>
<rect x="361" y="168" width="1" height="1"/>
<rect x="374" y="68" width="1" height="1"/>
<rect x="354" y="131" width="1" height="1"/>
<rect x="353" y="149" width="1" height="1"/>
<rect x="474" y="154" width="1" height="1"/>
<rect x="362" y="168" width="1" height="1"/>
<rect x="456" y="198" width="1" height="1"/>
<rect x="363" y="97" width="1" height="1"/>
<rect x="456" y="81" width="1" height="1"/>
<rect x="473" y="120" width="1" height="1"/>
<rect x="483" y="145" width="1" height="1"/>
<rect x="416" y="207" width="1" height="1"/>
<rect x="357" y="172" width="1" height="1"/>
<rect x="487" y="178" width="1" height="1"/>
<rect x="372" y="210" width="1" height="1"/>
<rect x="461" y="101" width="1" height="1"/>
<rect x="365" y="101" width="1" height="1"/>
<rect x="465" y="124" width="1" height="1"/>
<rect x="447" y="106" width="1" height="1"/>
<rect x="472" y="159" width="1" height="1"/>
<rect x="400" y="206" width="1" height="1"/>
<rect x="349" y="82" width="1" height="1"/>
<rect x="466" y="137" width="1" height="1"/>
<rect x="484" y="164" width="1" height="1"/>
<rect x="462" y="134" width="1" height="1"/>
<rect x="414" y="201" width="1" height="1"/>
<rect x="353" y="178" width="1" height="1"/>
<rect x="443" y="197" width="1" height="1"/>
<rect x="338" y="73" width="1" height="1"/>
<rect x="363" y="89" width="1" height="1"/>
<rect x="446" y="65" width="1" height="1"/>
<rect x="450" y="191" width="1" height="1"/>
<rect x="407" y="207" width="1" height="1"/>
<rect x="371" y="57" width="1" height="1"/>
<rect x="441" y="189" width="1" height="1"/>
<rect x="479" y="176" width="1" height="1"/>
<rect x="405" y="200" width="1" height="1"/>
<rect x="452" y="102" width="1" height="1"/>
<rect x="357" y="172" width="1" height="1"/>
<rect x="460" y="96" width="1" height="1"/>
<rect x="424" y="66" width="1" height="1"/>
<rect x="361" y="180" width="1" height="1"/>
<rect x="405" y="62" width="1" height="1"/>
<rect x="361" y="169" width="1" height="1"/>
<rect x="456" y="104" width="1" height="1"/>
<rect x="352" y="134" width="1" height="1"/>
<rect x="461" y="198" width="1" height="1"/>
<rect x="462" y="97" width="1" height="1"/>
<rect x="459" y="131" width="1" height="1"/>
<rect x="467" y="114" width="1" height="1"/>
<rect x="364" y="89" width="1" height="1"/>
<rect x="358" y="131" width="1" height="1"/>
<rect x="463" y="87" width="1" height="1"/>
<rect x="462" y="189" width="1" height="1"/>
<rect x="473" y="152" width="1" height="1"/>
<rect x="451" y="104" width="1" height="1"/>
<rect x="390" y="210" width="1" height="1"/>
<rect x="361" y="113" width="1" height="1"/>
<rect x="362" y="163" width="1" height="1"/>
<rect x="359" y="177" width="1" height="1"/>
<rect x="359" y="102" width="1" height="1"/>
<rect x="461" y="56" width="1" height="1"/>
<rect x="363" y="198" width="1" height="1"/>
<rect x="371" y="207" width="1" height="1"/>
<rect x="442" y="84" width="1" height="1"/>
<rect x="356" y="81" width="1" height="1"/>
<rect x="458" y="125" width="1" height="1"/>
<rect x="491" y="150" width="1" height="1"/>
<rect x="502" y="215" width="1" height="1"/>
<rect x="458" y="207" width="1" height="1"/>
<rect x="432" y="215" width="1" height="1"/>
<rect x="447" y="98" width="1" height="1"/>
<rect x="465" y="150" width="1" height="1"/>
<rect x="457" y="126" width="1" height="1"/>
<rect x="457" y="95" width="1" height="1"/>
<rect x="436" y="65" width="1" height="1"/>
<rect x="474" y="84" width="1" height="1"/>
<rect x="464" y="115" width="1" height="1"/>
<rect x="435" y="68" width="1" height="1"/>
<rect x="458" y="80" width="1" height="1"/>
<rect x="379" y="63" width="1" height="1"/>
<rect x="469" y="154" width="1" height="1"/>
<rect x="460" y="134" width="1" height="1"/>
<rect x="471" y="98" width="1" height="1"/>
<rect x="360" y="139" width="1" height="1"/>
<rect x="452" y="125" width="1" height="1"/>
<rect x="474" y="161" width="1" height="1"/>
<rect x="478" y="203" width="1" height="1"/>
<rect x="449" y="115" width="1" height="1"/>
<rect x="363" y="158" width="1" height="1"/>
<rect x="441" y="93" width="1" height="1"/>
<rect x="462" y="203" width="1" height="1"/>
<rect x="472" y="153" width="1" height="1"/>
<rect x="360" y="82" width="1" height="1"/>
<rect x="443" y="100" width="1" height="1"/>
<rect x="366" y="83" width="1" height="1"/>
<rect x="333" y="86" width="1" height="1"/>
<rect x="472" y="108" width="1" height="1"/>
<rect x="444" y="191" width="1" height="1"/>
<rect x="457" y="129" width="1" height="1"/>
<rect x="457" y="103" width="1" height="1"/>
<rect x="466" y="124" width="1" height="1"/>
<rect x="455" y="101" width="1" height="1"/>
<rect x="364" y="177" width="1" height="1"/>
<rect x="406" y="64" width="1" height="1"/>
<rect x="448" y="105" width="1" height="1"/>
<rect x="456" y="110" width="1" height="1"/>
<rect x="458" y="87" width="1" height="1"/>
<rect x="483" y="178" width="1" height="1"/>
<rect x="439" y="87" width="1" height="1"/>
<rect x="356" y="107" width="1" height="1"/>
<rect x="350" y="64" width="1" height="1"/>
<rect x="367" y="182" width="1" height="1"/>
<rect x="450" y="116" width="1" height="1"/>
<rect x="363" y="160" width="1" height="1"/>
<rect x="459" y="93" width="1" height="1"/>
<rect x="417" y="59" width="1" height="1"/>
<rect x="449" y="110" width="1" height="1"/>
<rect x="474" y="187" width="1" height="1"/>
<rect x="487" y="192" width="1" height="1"/>
<rect x="361" y="114" width="1" height="1"/>
<rect x="472" y="193" width="1" height="1"/>
<rect x="412" y="63" width="1" height="1"/>
<rect x="485" y="138" width="1" height="1"/>
<rect x="447" y="100" width="1" height="1"/>
<rect x="455" y="127" width="1" height="1"/>
<rect x="440" y="94" width="1" height="1"/>
<rect x="380" y="198" width="1" height="1"/>
<rect x="449" y="107" width="1" height="1"/>
<rect x="397" y="204" width="1" height="1"/>
<rect x="456" y="72" width="1" height="1"/>
<rect x="468" y="125" width="1" height="1"/>
<rect x="460" y="127" width="1" height="1"/>
<rect x="480" y="171" width="1" height="1"/>
<rect x="358" y="113" width="1" height="1"/>
<rect x="459" y="134" width="1" height="1"/>
<rect x="468" y="65" width="1" height="1"/>
<rect x="363" y="108" width="1" height="1"/>
<rect x="355" y="175" width="1" height="1"/>
<rect x="439" y="72" width="1" height="1"/>
<rect x="499" y="130" width="1" height="1"/>
<rect x="447" y="97" width="1" height="1"/>
<rect x="448" y="83" width="1" height="1"/>
<rect x="455" y="75" width="1" height="1"/>
<rect x="476" y="190" width="1" height="1"/>
<rect x="478" y="166" width="1" height="1"/>
<rect x="461" y="118" width="1" height="1"/>
<rect x="363" y="120" width="1" height="1"/>
<rect x="485" y="176" width="1" height="1"/>
<rect x="354" y="151" width="1" height="1"/>
<rect x="372" y="201" width="1" height="1"/>
<rect x="454" y="201" width="1" height="1"/>
<rect x="459" y="132" width="1" height="1"/>
<rect x="474" y="160" width="1" height="1"/>
<rect x="465" y="141" width="1" height="1"/>
<rect x="346" y="108" width="1" height="1"/>
<rect x="456" y="129" width="1" height="1"/>
<rect x="360" y="174" width="1" height="1"/>
<rect x="353" y="143" width="1" height="1"/>
<rect x="476" y="155" width="1" height="1"/>
<rect x="477" y="133" width="1" height="1"/>
<rect x="470" y="205" width="1" height="1"/>
<rect x="496" y="187" width="1" height="1"/>
<rect x="449" y="77" width="1" height="1"/>
<rect x="480" y="190" width="1" height="1"/>
<rect x="397" y="201" width="1" height="1"/>
<rect x="440" y="191" width="1" height="1"/>
<rect x="450" y="113" width="1" height="1"/>
<rect x="453" y="117" width="1" height="1"/>
<rect x="457" y="98" width="1" height="1"/>
<rect x="433" y="64" width="1" height="1"/>
<rect x="461" y="131" width="1" height="1"/>
<rect x="451" y="193" width="1" height="1"/>
<rect x="486" y="185" width="1" height="1"/>
<rect x="478" y="161" width="1" height="1"/>
<rect x="476" y="193" width="1" height="1"/>
<rect x="473" y="161" width="1" height="1"/>
<rect x="354" y="94" width="1" height="1"/>
<rect x="435" y="189" width="1" height="1"/>
<rect x="450" y="117" width="1" height="1"/>
<rect x="413" y="198" width="1" height="1"/>
<rect x="454" y="111" width="1" height="1"/>
<rect x="366" y="69" width="1" height="1"/>
<rect x="479" y="176" width="1" height="1"/>
<rect x="373" y="72" width="1" height="1"/>
<rect x="474" y="195" width="1" height="1"/>
<rect x="464" y="122" width="1" height="1"/>
<rect x="498" y="187" width="1" height="1"/>
<rect x="375" y="63" width="1" height="1"/>
<rect x="461" y="141" width="1" height="1"/>
<rect x="476" y="164" width="1" height="1"/>
<rect x="368" y="76" width="1" height="1"/>
<rect x="469" y="151" width="1" height="1"/>
<rect x="450" y="79" width="1" height="1"/>
<rect x="359" y="108" width="1" height="1"/>
<rect x="461" y="116" width="1" height="1"/>
<rect x="363" y="154" width="1" height="1"/>
<rect x="439" y="76" width="1" height="1"/>
<rect x="362" y="87" width="1" height="1"/>
<rect x="429" y="188" width="1" height="1"/>
<rect x="480" y="172" width="1" height="1"/>
<rect x="460" y="128" width="1" height="1"/>
<rect x="443" y="104" width="1" height="1"/>
<rect x="353" y="167" width="1" height="1"/>
<rect x="457" y="130" width="1" height="1"/>
<rect x="444" y="109" width="1" height="1"/>
<rect x="476" y="196" width="1" height="1"/>
<rect x="439" y="91" width="1" height="1"/>
<rect x="448" y="189" width="1" height="1"/>
<rect x="473" y="153" width="1" height="1"/>
<rect x="474" y="158" width="1" height="1"/>
<rect x="479" y="165" width="1" height="1"/>
<rect x="486" y="181" width="1" height="1"/>
<rect x="411" y="197" width="1" height="1"/>
<rect x="370" y="202" width="1" height="1"/>
<rect x="469" y="99" width="1" height="1"/>
<rect x="361" y="84" width="1" height="1"/>
<rect x="473" y="198" width="1" height="1"/>
<rect x="359" y="91" width="1" height="1"/>
<rect x="443" y="94" width="1" height="1"/>
<rect x="458" y="190" width="1" height="1"/>
<rect x="334" y="209" width="1" height="1"/>
<rect x="432" y="193" width="1" height="1"/>
<rect x="460" y="137" width="1" height="1"/>
<rect x="457" y="118" width="1" height="1"/>
<rect x="401" y="215" width="1" height="1"/>
<rect x="481" y="178" width="1" height="1"/>
<rect x="471" y="155" width="1" height="1"/>
<rect x="418" y="56" width="1" height="1"/>
<rect x="466" y="89" width="1" height="1"/>
<rect x="443" y="57" width="1" height="1"/>
<rect x="384" y="200" width="1" height="1"/>
<rect x="445" y="96" width="1" height="1"/>
<rect x="456" y="85" width="1" height="1"/>
<rect x="359" y="147" width="1" height="1"/>
<rect x="456" y="91" width="1" height="1"/>
<rect x="360" y="142" width="1" height="1"/>
<rect x="456" y="205" width="1" height="1"/>
<rect x="432" y="195" width="1" height="1"/>
<rect x="443" y="98" width="1" height="1"/>
<rect x="376" y="201" width="1" height="1"/>
<rect x="452" y="121" width="1" height="1"/>
<rect x="361" y="138" width="1" height="1"/>
<rect x="365" y="110" width="1" height="1"/>
<rect x="421" y="230" width="1" height="1"/>
<rect x="355" y="108" width="1" height="1"/>
<rect x="360" y="178" width="1" height="1"/>
<rect x="468" y="153" width="1" height="1"/>
<rect x="478" y="166" width="1" height="1"/>
<rect x="451" y="71" width="1" height="1"/>
<rect x="363" y="140" width="1" height="1"/>
<rect x="416" y="223" width="1" height="1"/>
<rect x="360" y="145" width="1" height="1"/>
<rect x="442" y="89" width="1" height="1"/>
<rect x="376" y="63" width="1" height="1"/>
<rect x="455" y="111" width="1" height="1"/>
<rect x="365" y="180" width="1" height="1"/>
<rect x="438" y="59" width="1" height="1"/>
<rect x="381" y="63" width="1" height="1"/>
<rect x="478" y="160" width="1" height="1"/>
<rect x="431" y="197" width="1" height="1"/>
<rect x="454" y="127" width="1" height="1"/>
<rect x="489" y="154" width="1" height="1"/>
<rect x="445" y="100" width="1" height="1"/>
<rect x="443" y="102" width="1" height="1"/>
<rect x="457" y="132" width="1" height="1"/>
<rect x="442" y="94" width="1" height="1"/>
<rect x="458" y="129" width="1" height="1"/>
<rect x="467" y="80" width="1" height="1"/>
<rect x="457" y="201" width="1" height="1"/>
<rect x="470" y="158" width="1" height="1"/>
<rect x="468" y="69" width="1" height="1"/>
<rect x="364" y="89" width="1" height="1"/>
<rect x="447" y="191" width="1" height="1"/>
<rect x="462" y="117" width="1" height="1"/>
<rect x="442" y="100" width="1" height="1"/>
<rect x="387" y="59" width="1" height="1"/>
<rect x="485" y="164" width="1" height="1"/>
<rect x="463" y="146" width="1" height="1"/>
<rect x="452" y="192" width="1" height="1"/>
<rect x="369" y="84" width="1" height="1"/>
<rect x="487" y="182" width="1" height="1"/>
<rect x="365" y="191" width="1" height="1"/>
<rect x="457" y="191" width="1" height="1"/>
<rect x="487" y="180" width="1" height="1"/>
<rect x="454" y="127" width="1" height="1"/>
<rect x="438" y="63" width="1" height="1"/>
<rect x="352" y="158" width="1" height="1"/>
<rect x="380" y="60" width="1" height="1"/>
<rect x="448" y="67" width="1" height="1"/>
<rect x="357" y="122" width="1" height="1"/>
<rect x="443" y="74" width="1" height="1"/>
<rect x="356" y="128" width="1" height="1"/>
<rect x="461" y="194" width="1" height="1"/>
<rect x="358" y="85" width="1" height="1"/>
<rect x="456" y="189" width="1" height="1"/>
<rect x="396" y="224" width="1" height="1"/>
<rect x="369" y="61" width="1" height="1"/>
<rect x="350" y="125" width="1" height="1"/>
<rect x="484" y="171" width="1" height="1"/>
<rect x="363" y="176" width="1" height="1"/>
<rect x="451" y="104" width="1" height="1"/>
<rect x="369" y="190" width="1" height="1"/>
<rect x="452" y="117" width="1" height="1"/>
<rect x="329" y="91" width="1" height="1"/>
<rect x="465" y="138" width="1" height="1"/>
<rect x="483" y="152" width="1" height="1"/>
<rect x="357" y="192" width="1" height="1"/>
<rect x="472" y="162" width="1" height="1"/>
<rect x="451" y="67" width="1" height="1"/>
<rect x="472" y="146" width="1" height="1"/>
<rect x="460" y="113" width="1" height="1"/>
<rect x="480" y="170" width="1" height="1"/>
<rect x="389" y="62" width="1" height="1"/>
<rect x="484" y="160" width="1" height="1"/>
<rect x="460" y="188" width="1" height="1"/>
<rect x="448" y="61" width="1" height="1"/>
<rect x="430" y="57" width="1" height="1"/>
<rect x="471" y="198" width="1" height="1"/>
<rect x="440" y="198" width="1" height="1"/>
<rect x="349" y="86" width="1" height="1"/>
<rect x="401" y="202" width="1" height="1"/>
<rect x="452" y="122" width="1" height="1"/>
<rect x="355" y="138" width="1" height="1"/>
<rect x="364" y="131" width="1" height="1"/>
<rect x="362" y="112" width="1" height="1"/>
<rect x="369" y="197" width="1" height="1"/>
<rect x="362" y="152" width="1" height="1"/>
<rect x="467" y="202" width="1" height="1"/>
<rect x="360" y="154" width="1" height="1"/>
<rect x="365" y="202" width="1" height="1"/>
<rect x="491" y="137" width="1" height="1"/>
<rect x="457" y="132" width="1" height="1"/>
<rect x="468" y="146" width="1" height="1"/>
<rect x="425" y="55" width="1" height="1"/>
<rect x="365" y="186" width="1" height="1"/>
<rect x="437" y="78" width="1" height="1"/>
<rect x="362" y="205" width="1" height="1"/>
<rect x="366" y="62" width="1" height="1"/>
<rect x="355" y="171" width="1" height="1"/>
<rect x="482" y="186" width="1" height="1"/>
<rect x="468" y="141" width="1" height="1"/>
<rect x="435" y="69" width="1" height="1"/>
<rect x="454" y="190" width="1" height="1"/>
<rect x="362" y="110" width="1" height="1"/>
<rect x="364" y="105" width="1" height="1"/>
<rect x="357" y="168" width="1" height="1"/>
<rect x="417" y="210" width="1" height="1"/>
<rect x="443" y="69" width="1" height="1"/>
<rect x="459" y="126" width="1" height="1"/>
<rect x="357" y="164" width="1" height="1"/>
<rect x="453" y="103" width="1" height="1"/>
<rect x="369" y="202" width="1" height="1"/>
<rect x="471" y="150" width="1" height="1"/>
<rect x="388" y="66" width="1" height="1"/>
<rect x="440" y="81" width="1" height="1"/>
<rect x="457" y="79" width="1" height="1"/>
<rect x="360" y="129" width="1" height="1"/>
<rect x="478" y="200" width="1" height="1"/>
<rect x="368" y="73" width="1" height="1"/>
<rect x="361" y="81" width="1" height="1"/>
<rect x="466" y="92" width="1" height="1"/>
<rect x="362" y="146" width="1" height="1"/>
<rect x="339" y="126" width="1" height="1"/>
<rect x="458" y="124" width="1" height="1"/>
<rect x="442" y="79" width="1" height="1"/>
<rect x="458" y="191" width="1" height="1"/>
<rect x="464" y="132" width="1" height="1"/>
<rect x="472" y="195" width="1" height="1"/>
<rect x="429" y="60" width="1" height="1"/>
<rect x="460" y="129" width="1" height="1"/>
<rect x="456" y="116" width="1" height="1"/>
<rect x="464" y="192" width="1" height="1"/>
<rect x="351" y="168" width="1" height="1"/>
<rect x="463" y="138" width="1" height="1"/>
<rect x="360" y="83" width="1" height="1"/>
<rect x="490" y="165" width="1" height="1"/>
<rect x="460" y="198" width="1" height="1"/>
<rect x="354" y="187" width="1" height="1"/>
<rect x="396" y="208" width="1" height="1"/>
<rect x="489" y="148" width="1" height="1"/>
<rect x="348" y="109" width="1" height="1"/>
<rect x="364" y="94" width="1" height="1"/>
<rect x="464" y="189" width="1" height="1"/>
<rect x="457" y="190" width="1" height="1"/>
<rect x="472" y="156" width="1" height="1"/>
<rect x="438" y="188" width="1" height="1"/>
<rect x="461" y="133" width="1" height="1"/>
<rect x="468" y="194" width="1" height="1"/>
<rect x="357" y="168" width="1" height="1"/>
<rect x="441" y="98" width="1" height="1"/>
<rect x="472" y="148" width="1" height="1"/>
<rect x="471" y="160" width="1" height="1"/>
<rect x="450" y="90" width="1" height="1"/>
<rect x="430" y="203" width="1" height="1"/>
<rect x="460" y="190" width="1" height="1"/>
<rect x="446" y="79" width="1" height="1"/>
<rect x="455" y="93" width="1" height="1"/>
<rect x="397" y="53" width="1" height="1"/>
<rect x="426" y="204" width="1" height="1"/>
<rect x="363" y="85" width="1" height="1"/>
<rect x="430" y="192" width="1" height="1"/>
<rect x="478" y="136" width="1" height="1"/>
<rect x="379" y="64" width="1" height="1"/>
<rect x="455" y="92" width="1" height="1"/>
<rect x="449" y="100" width="1" height="1"/>
<rect x="484" y="185" width="1" height="1"/>
<rect x="451" y="116" width="1" height="1"/>
<rect x="370" y="79" width="1" height="1"/>
<rect x="433" y="204" width="1" height="1"/>
<rect x="467" y="137" width="1" height="1"/>
<rect x="374" y="65" width="1" height="1"/>
<rect x="385" y="210" width="1" height="1"/>
<rect x="489" y="163" width="1" height="1"/>
<rect x="348" y="127" width="1" height="1"/>
<rect x="457" y="80" width="1" height="1"/>
<rect x="476" y="168" width="1" height="1"/>
<rect x="361" y="70" width="1" height="1"/>
<rect x="419" y="204" width="1" height="1"/>
<rect x="366" y="181" width="1" height="1"/>
<rect x="363" y="172" width="1" height="1"/>
<rect x="476" y="186" width="1" height="1"/>
<rect x="428" y="195" width="1" height="1"/>
<rect x="463" y="131" width="1" height="1"/>
<rect x="454" y="190" width="1" height="1"/>
<rect x="373" y="73" width="1" height="1"/>
<rect x="478" y="169" width="1" height="1"/>
<rect x="362" y="181" width="1" height="1"/>
<rect x="455" y="92" width="1" height="1"/>
<rect x="450" y="73" width="1" height="1"/>
<rect x="387" y="201" width="1" height="1"/>
<rect x="461" y="198" width="1" height="1"/>
<rect x="370" y="73" width="1" height="1"/>
<rect x="363" y="149" width="1" height="1"/>
<rect x="445" y="87" width="1" height="1"/>
<rect x="439" y="91" width="1" height="1"/>
<rect x="368" y="203" width="1" height="1"/>
<rect x="500" y="161" width="1" height="1"/>
<rect x="490" y="183" width="1" height="1"/>
<rect x="443" y="104" width="1" height="1"/>
<rect x="478" y="187" width="1" height="1"/>
<rect x="474" y="163" width="1" height="1"/>
<rect x="449" y="114" width="1" height="1"/>
<rect x="460" y="134" width="1" height="1"/>
<rect x="456" y="98" width="1" height="1"/>
<rect x="492" y="149" width="1" height="1"/>
<rect x="461" y="87" width="1" height="1"/>
<rect x="359" y="128" width="1" height="1"/>
<rect x="451" y="194" width="1" height="1"/>
<rect x="355" y="161" width="1" height="1"/>
<rect x="467" y="151" width="1" height="1"/>
<rect x="359" y="73" width="1" height="1"/>
<rect x="371" y="191" width="1" height="1"/>
<rect x="363" y="154" width="1" height="1"/>
<rect x="394" y="205" width="1" height="1"/>
<rect x="382" y="203" width="1" height="1"/>
<rect x="425" y="202" width="1" height="1"/>
<rect x="464" y="140" width="1" height="1"/>
<rect x="364" y="186" width="1" height="1"/>
<rect x="454" y="70" width="1" height="1"/>
<rect x="381" y="63" width="1" height="1"/>
<rect x="477" y="188" width="1" height="1"/>
<rect x="356" y="164" width="1" height="1"/>
<rect x="490" y="205" width="1" height="1"/>
<rect x="363" y="108" width="1" height="1"/>
<rect x="361" y="135" width="1" height="1"/>
<rect x="483" y="188" width="1" height="1"/>
<rect x="474" y="151" width="1" height="1"/>
<rect x="371" y="193" width="1" height="1"/>
<rect x="359" y="120" width="1" height="1"/>
<rect x="446" y="193" width="1" height="1"/>
<rect x="474" y="195" width="1" height="1"/>
<rect x="400" y="200" width="1" height="1"/>
<rect x="340" y="121" width="1" height="1"/>
<rect x="406" y="200" width="1" height="1"/>
<rect x="451" y="108" width="1" height="1"/>
<rect x="473" y="149" width="1" height="1"/>
<rect x="390" y="212" width="1" height="1"/>
<rect x="357" y="158" width="1" height="1"/>
<rect x="363" y="149" width="1" height="1"/>
<rect x="453" y="116" width="1" height="1"/>
<rect x="461" y="137" width="1" height="1"/>
<rect x="476" y="133" width="1" height="1"/>
<rect x="484" y="164" width="1" height="1"/>
<rect x="361" y="141" width="1" height="1"/>
<rect x="445" y="109" width="1" height="1"/>
<rect x="368" y="88" width="1" height="1"/>
<rect x="382" y="215" width="1" height="1"/>
<rect x="361" y="153" width="1" height="1"/>
<rect x="447" y="85" width="1" height="1"/>
<rect x="357" y="112" width="1" height="1"/>
<rect x="359" y="159" width="1" height="1"/>
<rect x="366" y="97" width="1" height="1"/>
<rect x="436" y="199" width="1" height="1"/>
<rect x="461" y="141" width="1" height="1"/>
<rect x="359" y="165" width="1" height="1"/>
<rect x="361" y="161" width="1" height="1"/>
<rect x="368" y="83" width="1" height="1"/>
<rect x="447" y="203" width="1" height="1"/>
<rect x="456" y="193" width="1" height="1"/>
<rect x="348" y="80" width="1" height="1"/>
<rect x="360" y="145" width="1" height="1"/>
<rect x="465" y="139" width="1" height="1"/>
<rect x="456" y="108" width="1" height="1"/>
<rect x="455" y="117" width="1" height="1"/>
<rect x="361" y="100" width="1" height="1"/>
<rect x="468" y="156" width="1" height="1"/>
<rect x="456" y="125" width="1" height="1"/>
<rect x="431" y="71" width="1" height="1"/>
<rect x="440" y="95" width="1" height="1"/>
<rect x="366" y="81" width="1" height="1"/>
<rect x="475" y="155" width="1" height="1"/>
<rect x="464" y="143" width="1" height="1"/>
<rect x="452" y="120" width="1" height="1"/>
<rect x="462" y="142" width="1" height="1"/>
<rect x="469" y="155" width="1" height="1"/>
<rect x="446" y="93" width="1" height="1"/>
<rect x="431" y="63" width="1" height="1"/>
<rect x="388" y="207" width="1" height="1"/>
<rect x="439" y="87" width="1" height="1"/>
<rect x="441" y="98" width="1" height="1"/>
<rect x="361" y="170" width="1" height="1"/>
<rect x="451" y="214" width="1" height="1"/>
<rect x="450" y="75" width="1" height="1"/>
<rect x="363" y="121" width="1" height="1"/>
<rect x="461" y="194" width="1" height="1"/>
<rect x="429" y="68" width="1" height="1"/>
<rect x="364" y="99" width="1" height="1"/>
<rect x="363" y="152" width="1" height="1"/>
<rect x="448" y="191" width="1" height="1"/>
<rect x="373" y="71" width="1" height="1"/>
<rect x="358" y="124" width="1" height="1"/>
<rect x="360" y="149" width="1" height="1"/>
<rect x="461" y="142" width="1" height="1"/>
<rect x="480" y="140" width="1" height="1"/>
<rect x="391" y="219" width="1" height="1"/>
<rect x="394" y="214" width="1" height="1"/>
<rect x="440" y="92" width="1" height="1"/>
<rect x="351" y="100" width="1" height="1"/>
<rect x="454" y="121" width="1" height="1"/>
<rect x="438" y="70" width="1" height="1"/>
<rect x="363" y="80" width="1" height="1"/>
<rect x="471" y="144" width="1" height="1"/>
<rect x="462" y="215" width="1" height="1"/>
<rect x="351" y="106" width="1" height="1"/>
<rect x="361" y="90" width="1" height="1"/>
<rect x="362" y="153" width="1" height="1"/>
<rect x="361" y="106" width="1" height="1"/>
<rect x="450" y="56" width="1" height="1"/>
<rect x="445" y="69" width="1" height="1"/>
<rect x="444" y="197" width="1" height="1"/>
<rect x="445" y="72" width="1" height="1"/>
<rect x="347" y="158" width="1" height="1"/>
<rect x="460" y="124" width="1" height="1"/>
<rect x="362" y="186" width="1" height="1"/>
<rect x="362" y="137" width="1" height="1"/>
<rect x="448" y="95" width="1" height="1"/>
<rect x="450" y="92" width="1" height="1"/>
<rect x="361" y="97" width="1" height="1"/>
<rect x="447" y="96" width="1" height="1"/>
<rect x="442" y="99" width="1" height="1"/>
<rect x="453" y="106" width="1" height="1"/>
<rect x="359" y="150" width="1" height="1"/>
<rect x="464" y="139" width="1" height="1"/>
<rect x="417" y="65" width="1" height="1"/>
<rect x="452" y="124" width="1" height="1"/>
<rect x="386" y="202" width="1" height="1"/>
<rect x="440" y="204" width="1" height="1"/>
<rect x="454" y="110" width="1" height="1"/>
<rect x="453" y="82" width="1" height="1"/>
<rect x="452" y="105" width="1" height="1"/>
<rect x="440" y="77" width="1" height="1"/>
<rect x="470" y="100" width="1" height="1"/>
<rect x="362" y="202" width="1" height="1"/>
<rect x="421" y="196" width="1" height="1"/>
<rect x="359" y="128" width="1" height="1"/>
<rect x="360" y="142" width="1" height="1"/>
<rect x="480" y="169" width="1" height="1"/>
<rect x="347" y="170" width="1" height="1"/>
<rect x="479" y="168" width="1" height="1"/>
<rect x="481" y="178" width="1" height="1"/>
<rect x="477" y="149" width="1" height="1"/>
<rect x="444" y="77" width="1" height="1"/>
<rect x="481" y="166" width="1" height="1"/>
<rect x="363" y="163" width="1" height="1"/>
<rect x="441" y="83" width="1" height="1"/>
<rect x="457" y="89" width="1" height="1"/>
<rect x="362" y="156" width="1" height="1"/>
<rect x="455" y="119" width="1" height="1"/>
<rect x="448" y="190" width="1" height="1"/>
<rect x="457" y="103" width="1" height="1"/>
<rect x="362" y="162" width="1" height="1"/>
<rect x="474" y="153" width="1" height="1"/>
<rect x="436" y="73" width="1" height="1"/>
<rect x="364" y="103" width="1" height="1"/>
<rect x="449" y="115" width="1" height="1"/>
<rect x="447" y="107" width="1" height="1"/>
<rect x="443" y="69" width="1" height="1"/>
<rect x="364" y="97" width="1" height="1"/>
<rect x="461" y="141" width="1" height="1"/>
<rect x="349" y="95" width="1" height="1"/>
<rect x="505" y="156" width="1" height="1"/>
<rect x="459" y="123" width="1" height="1"/>
<rect x="363" y="129" width="1" height="1"/>
<rect x="365" y="91" width="1" height="1"/>
<rect x="480" y="188" width="1" height="1"/>
<rect x="467" y="66" width="1" height="1"/>
<rect x="378" y="204" width="1" height="1"/>
<rect x="363" y="148" width="1" height="1"/>
<rect x="374" y="204" width="1" height="1"/>
<rect x="349" y="142" width="1" height="1"/>
<rect x="474" y="114" width="1" height="1"/>
<rect x="359" y="117" width="1" height="1"/>
<rect x="371" y="203" width="1" height="1"/>
<rect x="463" y="138" width="1" height="1"/>
<rect x="350" y="120" width="1" height="1"/>
<rect x="346" y="82" width="1" height="1"/>
<rect x="369" y="81" width="1" height="1"/>
<rect x="348" y="123" width="1" height="1"/>
<rect x="356" y="129" width="1" height="1"/>
<rect x="448" y="190" width="1" height="1"/>
<rect x="356" y="75" width="1" height="1"/>
<rect x="460" y="129" width="1" height="1"/>
<rect x="445" y="77" width="1" height="1"/>
<rect x="442" y="100" width="1" height="1"/>
<rect x="463" y="134" width="1" height="1"/>
<rect x="418" y="197" width="1" height="1"/>
<rect x="372" y="77" width="1" height="1"/>
<rect x="360" y="85" width="1" height="1"/>
<rect x="358" y="171" width="1" height="1"/>
<rect x="461" y="139" width="1" height="1"/>
<rect x="430" y="68" width="1" height="1"/>
<rect x="360" y="165" width="1" height="1"/>
<rect x="450" y="207" width="1" height="1"/>
<rect x="484" y="178" width="1" height="1"/>
<rect x="475" y="222" width="1" height="1"/>
<rect x="351" y="180" width="1" height="1"/>
<rect x="447" y="111" width="1" height="1"/>
<rect x="473" y="189" width="1" height="1"/>
<rect x="467" y="145" width="1" height="1"/>
<rect x="454" y="69" width="1" height="1"/>
<rect x="348" y="116" width="1" height="1"/>
<rect x="428" y="205" width="1" height="1"/>
<rect x="504" y="159" width="1" height="1"/>
<rect x="360" y="117" width="1" height="1"/>
<rect x="359" y="171" width="1" height="1"/>
<rect x="358" y="165" width="1" height="1"/>
<rect x="461" y="82" width="1" height="1"/>
<rect x="456" y="129" width="1" height="1"/>
<rect x="462" y="190" width="1" height="1"/>
<rect x="453" y="73" width="1" height="1"/>
<rect x="464" y="142" width="1" height="1"/>
<rect x="455" y="74" width="1" height="1"/>
<rect x="361" y="103" width="1" height="1"/>
<rect x="482" y="185" width="1" height="1"/>
<rect x="455" y="115" width="1" height="1"/>
<rect x="433" y="191" width="1" height="1"/>
<rect x="481" y="175" width="1" height="1"/>
<rect x="489" y="156" width="1" height="1"/>
<rect x="449" y="80" width="1" height="1"/>
<rect x="359" y="128" width="1" height="1"/>
<rect x="459" y="197" width="1" height="1"/>
<rect x="481" y="155" width="1" height="1"/>
<rect x="417" y="65" width="1" height="1"/>
<rect x="362" y="136" width="1" height="1"/>
<rect x="361" y="130" width="1" height="1"/>
<rect x="487" y="133" width="1" height="1"/>
<rect x="456" y="123" width="1" height="1"/>
<rect x="474" y="190" width="1" height="1"/>
<rect x="484" y="140" width="1" height="1"/>
<rect x="375" y="195" width="1" height="1"/>
<rect x="369" y="206" width="1" height="1"/>
<rect x="430" y="198" width="1" height="1"/>
<rect x="366" y="186" width="1" height="1"/>
<rect x="406" y="58" width="1" height="1"/>
<rect x="375" y="53" width="1" height="1"/>
<rect x="358" y="85" width="1" height="1"/>
<rect x="461" y="138" width="1" height="1"/>
<rect x="453" y="106" width="1" height="1"/>
<rect x="372" y="77" width="1" height="1"/>
<rect x="401" y="202" width="1" height="1"/>
<rect x="468" y="125" width="1" height="1"/>
<rect x="365" y="90" width="1" height="1"/>
<rect x="476" y="136" width="1" height="1"/>
<rect x="403" y="213" width="1" height="1"/>
<rect x="355" y="175" width="1" height="1"/>
<rect x="349" y="202" width="1" height="1"/>
<rect x="446" y="73" width="1" height="1"/>
<rect x="357" y="179" width="1" height="1"/>
<rect x="470" y="112" width="1" height="1"/>
<rect x="448" y="115" width="1" height="1"/>
<rect x="455" y="129" width="1" height="1"/>
<rect x="354" y="130" width="1" height="1"/>
<rect x="456" y="188" width="1" height="1"/>
<rect x="449" y="106" width="1" height="1"/>
<rect x="461" y="130" width="1" height="1"/>
<rect x="463" y="126" width="1" height="1"/>
<rect x="467" y="154" width="1" height="1"/>
<rect x="472" y="143" width="1" height="1"/>
<rect x="438" y="63" width="1" height="1"/>
<rect x="421" y="194" width="1" height="1"/>
<rect x="470" y="158" width="1" height="1"/>
<rect x="439" y="81" width="1" height="1"/>
<rect x="458" y="135" width="1" height="1"/>
<rect x="454" y="199" width="1" height="1"/>
<rect x="461" y="197" width="1" height="1"/>
<rect x="455" y="121" width="1" height="1"/>
<rect x="362" y="97" width="1" height="1"/>
<rect x="403" y="206" width="1" height="1"/>
<rect x="359" y="177" width="1" height="1"/>
<rect x="359" y="161" width="1" height="1"/>
<rect x="353" y="123" width="1" height="1"/>
<rect x="463" y="195" width="1" height="1"/>
<rect x="360" y="89" width="1" height="1"/>
<rect x="427" y="191" width="1" height="1"/>
<rect x="471" y="189" width="1" height="1"/>
<rect x="345" y="139" width="1" height="1"/>
<rect x="450" y="116" width="1" height="1"/>
<rect x="475" y="166" width="1" height="1"/>
<rect x="365" y="120" width="1" height="1"/>
<rect x="452" y="123" width="1" height="1"/>
<rect x="444" y="102" width="1" height="1"/>
<rect x="449" y="188" width="1" height="1"/>
<rect x="362" y="81" width="1" height="1"/>
<rect x="362" y="135" width="1" height="1"/>
<rect x="364" y="127" width="1" height="1"/>
<rect x="363" y="215" width="1" height="1"/>
<rect x="375" y="72" width="1" height="1"/>
<rect x="480" y="144" width="1" height="1"/>
<rect x="441" y="94" width="1" height="1"/>
<rect x="364" y="206" width="1" height="1"/>
<rect x="444" y="75" width="1" height="1"/>
<rect x="381" y="201" width="1" height="1"/>
<rect x="472" y="158" width="1" height="1"/>
<rect x="368" y="89" width="1" height="1"/>
<rect x="455" y="123" width="1" height="1"/>
<rect x="443" y="103" width="1" height="1"/>
<rect x="361" y="132" width="1" height="1"/>
<rect x="463" y="191" width="1" height="1"/>
<rect x="361" y="133" width="1" height="1"/>
<rect x="382" y="214" width="1" height="1"/>
<rect x="383" y="200" width="1" height="1"/>
<rect x="444" y="93" width="1" height="1"/>
<rect x="440" y="77" width="1" height="1"/>
<rect x="475" y="165" width="1" height="1"/>
<rect x="365" y="115" width="1" height="1"/>
<rect x="362" y="101" width="1" height="1"/>
<rect x="380" y="202" width="1" height="1"/>
<rect x="477" y="146" width="1" height="1"/>
<rect x="361" y="102" width="1" height="1"/>
<rect x="362" y="145" width="1" height="1"/>
<rect x="461" y="142" width="1" height="1"/>
<rect x="464" y="189" width="1" height="1"/>
<rect x="474" y="122" width="1" height="1"/>
<rect x="467" y="136" width="1" height="1"/>
<rect x="439" y="81" width="1" height="1"/>
<rect x="373" y="193" width="1" height="1"/>
<rect x="444" y="201" width="1" height="1"/>
<rect x="397" y="54" width="1" height="1"/>
<rect x="365" y="183" width="1" height="1"/>
<rect x="392" y="210" width="1" height="1"/>
<rect x="426" y="194" width="1" height="1"/>
<rect x="466" y="189" width="1" height="1"/>
<rect x="364" y="93" width="1" height="1"/>
<rect x="366" y="217" width="1" height="1"/>
<rect x="357" y="118" width="1" height="1"/>
<rect x="366" y="195" width="1" height="1"/>
<rect x="439" y="188" width="1" height="1"/>
<rect x="497" y="151" width="1" height="1"/>
<rect x="400" y="208" width="1" height="1"/>
<rect x="399" y="207" width="1" height="1"/>
<rect x="462" y="127" width="1" height="1"/>
<rect x="464" y="131" width="1" height="1"/>
<rect x="401" y="199" width="1" height="1"/>
<rect x="469" y="128" width="1" height="1"/>
<rect x="447" y="196" width="1" height="1"/>
<rect x="365" y="95" width="1" height="1"/>
<rect x="469" y="99" width="1" height="1"/>
<rect x="358" y="120" width="1" height="1"/>
<rect x="449" y="108" width="1" height="1"/>
<rect x="455" y="128" width="1" height="1"/>
<rect x="440" y="94" width="1" height="1"/>
<rect x="363" y="84" width="1" height="1"/>
<rect x="361" y="119" width="1" height="1"/>
<rect x="439" y="86" width="1" height="1"/>
<rect x="451" y="113" width="1" height="1"/>
<rect x="456" y="120" width="1" height="1"/>
<rect x="400" y="204" width="1" height="1"/>
<rect x="364" y="123" width="1" height="1"/>
<rect x="475" y="148" width="1" height="1"/>
<rect x="460" y="201" width="1" height="1"/>
<rect x="469" y="127" width="1" height="1"/>
<rect x="366" y="103" width="1" height="1"/>
<rect x="464" y="145" width="1" height="1"/>
<rect x="463" y="191" width="1" height="1"/>
<rect x="481" y="104" width="1" height="1"/>
<rect x="361" y="178" width="1" height="1"/>
<rect x="364" y="132" width="1" height="1"/>
<rect x="468" y="139" width="1" height="1"/>
<rect x="353" y="158" width="1" height="1"/>
<rect x="457" y="131" width="1" height="1"/>
<rect x="446" y="88" width="1" height="1"/>
<rect x="456" y="96" width="1" height="1"/>
<rect x="374" y="63" width="1" height="1"/>
<rect x="427" y="197" width="1" height="1"/>
<rect x="478" y="159" width="1" height="1"/>
<rect x="410" y="203" width="1" height="1"/>
<rect x="360" y="109" width="1" height="1"/>
<rect x="483" y="143" width="1" height="1"/>
<rect x="464" y="146" width="1" height="1"/>
<rect x="371" y="78" width="1" height="1"/>
<rect x="486" y="143" width="1" height="1"/>
<rect x="469" y="151" width="1" height="1"/>
<rect x="454" y="125" width="1" height="1"/>
<rect x="364" y="114" width="1" height="1"/>
<rect x="443" y="97" width="1" height="1"/>
<rect x="443" y="66" width="1" height="1"/>
<rect x="363" y="150" width="1" height="1"/>
<rect x="438" y="90" width="1" height="1"/>
<rect x="349" y="67" width="1" height="1"/>
<rect x="459" y="213" width="1" height="1"/>
<rect x="417" y="198" width="1" height="1"/>
<rect x="454" y="116" width="1" height="1"/>
<rect x="455" y="131" width="1" height="1"/>
<rect x="439" y="91" width="1" height="1"/>
<rect x="392" y="215" width="1" height="1"/>
<rect x="361" y="107" width="1" height="1"/>
<rect x="458" y="192" width="1" height="1"/>
<rect x="364" y="180" width="1" height="1"/>
<rect x="402" y="57" width="1" height="1"/>
<rect x="370" y="61" width="1" height="1"/>
<rect x="461" y="127" width="1" height="1"/>
<rect x="456" y="60" width="1" height="1"/>
<rect x="409" y="201" width="1" height="1"/>
<rect x="479" y="209" width="1" height="1"/>
<rect x="344" y="152" width="1" height="1"/>
<rect x="452" y="108" width="1" height="1"/>
<rect x="439" y="92" width="1" height="1"/>
<rect x="456" y="78" width="1" height="1"/>
<rect x="363" y="145" width="1" height="1"/>
<rect x="441" y="82" width="1" height="1"/>
<rect x="450" y="93" width="1" height="1"/>
<rect x="363" y="173" width="1" height="1"/>
<rect x="450" y="196" width="1" height="1"/>
<rect x="354" y="156" width="1" height="1"/>
<rect x="358" y="207" width="1" height="1"/>
<rect x="447" y="191" width="1" height="1"/>
<rect x="459" y="125" width="1" height="1"/>
<rect x="456" y="115" width="1" height="1"/>
<rect x="456" y="90" width="1" height="1"/>
<rect x="364" y="190" width="1" height="1"/>
<rect x="360" y="136" width="1" height="1"/>
<rect x="376" y="196" width="1" height="1"/>
<rect x="465" y="134" width="1" height="1"/>
<rect x="495" y="196" width="1" height="1"/>
<rect x="489" y="174" width="1" height="1"/>
<rect x="360" y="145" width="1" height="1"/>
<rect x="481" y="178" width="1" height="1"/>
<rect x="357" y="177" width="1" height="1"/>
<rect x="419" y="63" width="1" height="1"/>
<rect x="370" y="190" width="1" height="1"/>
<rect x="442" y="72" width="1" height="1"/>
<rect x="461" y="141" width="1" height="1"/>
<rect x="463" y="133" width="1" height="1"/>
<rect x="478" y="184" width="1" height="1"/>
<rect x="367" y="94" width="1" height="1"/>
<rect x="476" y="168" width="1" height="1"/>
<rect x="440" y="189" width="1" height="1"/>
<rect x="465" y="113" width="1" height="1"/>
<rect x="363" y="147" width="1" height="1"/>
<rect x="452" y="123" width="1" height="1"/>
<rect x="365" y="183" width="1" height="1"/>
<rect x="455" y="197" width="1" height="1"/>
<rect x="363" y="136" width="1" height="1"/>
<rect x="363" y="56" width="1" height="1"/>
<rect x="366" y="201" width="1" height="1"/>
<rect x="466" y="148" width="1" height="1"/>
<rect x="440" y="87" width="1" height="1"/>
<rect x="491" y="176" width="1" height="1"/>
<rect x="364" y="128" width="1" height="1"/>
<rect x="366" y="86" width="1" height="1"/>
<rect x="354" y="113" width="1" height="1"/>
<rect x="476" y="152" width="1" height="1"/>
<rect x="347" y="112" width="1" height="1"/>
<rect x="449" y="78" width="1" height="1"/>
<rect x="441" y="63" width="1" height="1"/>
<rect x="451" y="119" width="1" height="1"/>
<rect x="361" y="176" width="1" height="1"/>
<rect x="357" y="114" width="1" height="1"/>
<rect x="455" y="122" width="1" height="1"/>
<rect x="434" y="190" width="1" height="1"/>
<rect x="360" y="157" width="1" height="1"/>
<rect x="448" y="213" width="1" height="1"/>
<rect x="430" y="192" width="1" height="1"/>
<rect x="430" y="204" width="1" height="1"/>
<rect x="361" y="137" width="1" height="1"/>
<rect x="485" y="187" width="1" height="1"/>
<rect x="363" y="229" width="1" height="1"/>
<rect x="435" y="56" width="1" height="1"/>
<rect x="471" y="130" width="1" height="1"/>
<rect x="479" y="180" width="1" height="1"/>
<rect x="451" y="95" width="1" height="1"/>
<rect x="360" y="66" width="1" height="1"/>
<rect x="465" y="136" width="1" height="1"/>
<rect x="431" y="64" width="1" height="1"/>
<rect x="448" y="82" width="1" height="1"/>
<rect x="411" y="63" width="1" height="1"/>
<rect x="352" y="177" width="1" height="1"/>
<rect x="392" y="63" width="1" height="1"/>
<rect x="471" y="201" width="1" height="1"/>
<rect x="468" y="144" width="1" height="1"/>
<rect x="353" y="121" width="1" height="1"/>
<rect x="441" y="80" width="1" height="1"/>
<rect x="453" y="120" width="1" height="1"/>
<rect x="450" y="99" width="1" height="1"/>
<rect x="453" y="195" width="1" height="1"/>
<rect x="458" y="137" width="1" height="1"/>
<rect x="407" y="58" width="1" height="1"/>
<rect x="486" y="203" width="1" height="1"/>
<rect x="360" y="215" width="1" height="1"/>
<rect x="412" y="218" width="1" height="1"/>
<rect x="366" y="103" width="1" height="1"/>
<rect x="464" y="135" width="1" height="1"/>
<rect x="478" y="173" width="1" height="1"/>
<rect x="373" y="73" width="1" height="1"/>
<rect x="455" y="125" width="1" height="1"/>
<rect x="365" y="110" width="1" height="1"/>
<rect x="469" y="194" width="1" height="1"/>
<rect x="400" y="59" width="1" height="1"/>
<rect x="371" y="202" width="1" height="1"/>
<rect x="415" y="58" width="1" height="1"/>
<rect x="482" y="202" width="1" height="1"/>
<rect x="468" y="129" width="1" height="1"/>
<rect x="367" y="87" width="1" height="1"/>
<rect x="459" y="108" width="1" height="1"/>
<rect x="401" y="203" width="1" height="1"/>
<rect x="468" y="88" width="1" height="1"/>
<rect x="478" y="190" width="1" height="1"/>
<rect x="380" y="198" width="1" height="1"/>
<rect x="363" y="107" width="1" height="1"/>
<rect x="465" y="147" width="1" height="1"/>
<rect x="460" y="138" width="1" height="1"/>
<rect x="389" y="203" width="1" height="1"/>
<rect x="443" y="88" width="1" height="1"/>
<rect x="454" y="118" width="1" height="1"/>
<rect x="496" y="161" width="1" height="1"/>
<rect x="443" y="79" width="1" height="1"/>
<rect x="446" y="100" width="1" height="1"/>
<rect x="486" y="186" width="1" height="1"/>
<rect x="469" y="158" width="1" height="1"/>
<rect x="466" y="144" width="1" height="1"/>
<rect x="432" y="196" width="1" height="1"/>
<rect x="450" y="98" width="1" height="1"/>
<rect x="381" y="201" width="1" height="1"/>
<rect x="366" y="111" width="1" height="1"/>
<rect x="391" y="201" width="1" height="1"/>
<rect x="360" y="176" width="1" height="1"/>
<rect x="498" y="174" width="1" height="1"/>
<rect x="481" y="151" width="1" height="1"/>
<rect x="355" y="188" width="1" height="1"/>
<rect x="448" y="109" width="1" height="1"/>
<rect x="482" y="177" width="1" height="1"/>
<rect x="368" y="74" width="1" height="1"/>
<rect x="472" y="159" width="1" height="1"/>
<rect x="382" y="210" width="1" height="1"/>
<rect x="472" y="208" width="1" height="1"/>
<rect x="440" y="98" width="1" height="1"/>
<rect x="462" y="199" width="1" height="1"/>
<rect x="469" y="149" width="1" height="1"/>
<rect x="359" y="127" width="1" height="1"/>
<rect x="457" y="119" width="1" height="1"/>
<rect x="464" y="128" width="1" height="1"/>
<rect x="363" y="128" width="1" height="1"/>
<rect x="389" y="206" width="1" height="1"/>
<rect x="490" y="183" width="1" height="1"/>
<rect x="464" y="83" width="1" height="1"/>
<rect x="368" y="188" width="1" height="1"/>
<rect x="466" y="150" width="1" height="1"/>
<rect x="391" y="218" width="1" height="1"/>
<rect x="454" y="104" width="1" height="1"/>
<rect x="363" y="179" width="1" height="1"/>
<rect x="469" y="137" width="1" height="1"/>
<rect x="441" y="94" width="1" height="1"/>
<rect x="365" y="74" width="1" height="1"/>
<rect x="371" y="199" width="1" height="1"/>
<rect x="402" y="57" width="1" height="1"/>
<rect x="359" y="100" width="1" height="1"/>
<rect x="480" y="131" width="1" height="1"/>
<rect x="356" y="105" width="1" height="1"/>
<rect x="362" y="143" width="1" height="1"/>
<rect x="441" y="86" width="1" height="1"/>
<rect x="437" y="188" width="1" height="1"/>
<rect x="465" y="148" width="1" height="1"/>
<rect x="472" y="158" width="1" height="1"/>
<rect x="397" y="210" width="1" height="1"/>
<rect x="357" y="84" width="1" height="1"/>
<rect x="362" y="131" width="1" height="1"/>
<rect x="438" y="82" width="1" height="1"/>
<rect x="453" y="107" width="1" height="1"/>
<rect x="458" y="135" width="1" height="1"/>
<rect x="363" y="183" width="1" height="1"/>
<rect x="442" y="87" width="1" height="1"/>
<rect x="456" y="190" width="1" height="1"/>
<rect x="480" y="175" width="1" height="1"/>
<rect x="461" y="132" width="1" height="1"/>
<rect x="455" y="196" width="1" height="1"/>
<rect x="456" y="125" width="1" height="1"/>
<rect x="362" y="213" width="1" height="1"/>
<rect x="398" y="208" width="1" height="1"/>
<rect x="454" y="123" width="1" height="1"/>
<rect x="359" y="206" width="1" height="1"/>
<rect x="480" y="186" width="1" height="1"/>
<rect x="347" y="140" width="1" height="1"/>
<rect x="468" y="152" width="1" height="1"/>
<rect x="480" y="189" width="1" height="1"/>
<rect x="390" y="207" width="1" height="1"/>
<rect x="479" y="200" width="1" height="1"/>
<rect x="376" y="206" width="1" height="1"/>
<rect x="364" y="121" width="1" height="1"/>
<rect x="444" y="55" width="1" height="1"/>
<rect x="371" y="78" width="1" height="1"/>
<rect x="365" y="119" width="1" height="1"/>
<rect x="454" y="69" width="1" height="1"/>
<rect x="463" y="141" width="1" height="1"/>
<rect x="361" y="74" width="1" height="1"/>
<rect x="364" y="108" width="1" height="1"/>
<rect x="445" y="108" width="1" height="1"/>
<rect x="359" y="200" width="1" height="1"/>
<rect x="455" y="130" width="1" height="1"/>
<rect x="449" y="73" width="1" height="1"/>
<rect x="483" y="182" width="1" height="1"/>
<rect x="373" y="203" width="1" height="1"/>
<rect x="362" y="172" width="1" height="1"/>
<rect x="350" y="55" width="1" height="1"/>
<rect x="433" y="193" width="1" height="1"/>
<rect x="441" y="92" width="1" height="1"/>
<rect x="482" y="191" width="1" height="1"/>
<rect x="434" y="191" width="1" height="1"/>
<rect x="475" y="166" width="1" height="1"/>
<rect x="440" y="66" width="1" height="1"/>
<rect x="461" y="116" width="1" height="1"/>
<rect x="360" y="76" width="1" height="1"/>
<rect x="483" y="187" width="1" height="1"/>
<rect x="411" y="65" width="1" height="1"/>
<rect x="462" y="127" width="1" height="1"/>
<rect x="486" y="180" width="1" height="1"/>
<rect x="469" y="191" width="1" height="1"/>
<rect x="460" y="124" width="1" height="1"/>
<rect x="370" y="67" width="1" height="1"/>
<rect x="470" y="196" width="1" height="1"/>
<rect x="469" y="106" width="1" height="1"/>
<rect x="458" y="134" width="1" height="1"/>
<rect x="405" y="54" width="1" height="1"/>
<rect x="446" y="107" width="1" height="1"/>
<rect x="384" y="204" width="1" height="1"/>
<rect x="364" y="176" width="1" height="1"/>
<rect x="350" y="173" width="1" height="1"/>
<rect x="360" y="145" width="1" height="1"/>
<rect x="443" y="78" width="1" height="1"/>
<rect x="358" y="95" width="1" height="1"/>
<rect x="431" y="205" width="1" height="1"/>
<rect x="442" y="73" width="1" height="1"/>
<rect x="484" y="161" width="1" height="1"/>
<rect x="359" y="117" width="1" height="1"/>
<rect x="361" y="177" width="1" height="1"/>
<rect x="444" y="80" width="1" height="1"/>
<rect x="434" y="71" width="1" height="1"/>
<rect x="468" y="141" width="1" height="1"/>
<rect x="448" y="100" width="1" height="1"/>
<rect x="366" y="189" width="1" height="1"/>
<rect x="382" y="227" width="1" height="1"/>
<rect x="446" y="78" width="1" height="1"/>
<rect x="354" y="99" width="1" height="1"/>
<rect x="362" y="85" width="1" height="1"/>
<rect x="466" y="120" width="1" height="1"/>
<rect x="454" y="96" width="1" height="1"/>
<rect x="352" y="152" width="1" height="1"/>
<rect x="352" y="118" width="1" height="1"/>
<rect x="463" y="138" width="1" height="1"/>
<rect x="468" y="194" width="1" height="1"/>
<rect x="482" y="194" width="1" height="1"/>
<rect x="366" y="86" width="1" height="1"/>
<rect x="358" y="101" width="1" height="1"/>
<rect x="362" y="145" width="1" height="1"/>
<rect x="480" y="131" width="1" height="1"/>
<rect x="438" y="61" width="1" height="1"/>
<rect x="356" y="178" width="1" height="1"/>
<rect x="458" y="188" width="1" height="1"/>
<rect x="460" y="126" width="1" height="1"/>
<rect x="444" y="75" width="1" height="1"/>
<rect x="490" y="168" width="1" height="1"/>
<rect x="426" y="64" width="1" height="1"/>
<rect x="406" y="64" width="1" height="1"/>
<rect x="465" y="146" width="1" height="1"/>
<rect x="463" y="126" width="1" height="1"/>
<rect x="376" y="215" width="1" height="1"/>
<rect x="447" y="99" width="1" height="1"/>
<rect x="459" y="86" width="1" height="1"/>
<rect x="452" y="110" width="1" height="1"/>
<rect x="447" y="196" width="1" height="1"/>
<rect x="486" y="168" width="1" height="1"/>
<rect x="404" y="54" width="1" height="1"/>
<rect x="353" y="77" width="1" height="1"/>
<rect x="369" y="206" width="1" height="1"/>
<rect x="476" y="145" width="1" height="1"/>
<rect x="360" y="124" width="1" height="1"/>
<rect x="428" y="66" width="1" height="1"/>
<rect x="444" y="95" width="1" height="1"/>
<rect x="386" y="58" width="1" height="1"/>
<rect x="418" y="193" width="1" height="1"/>
<rect x="443" y="203" width="1" height="1"/>
<rect x="475" y="140" width="1" height="1"/>
<rect x="468" y="189" width="1" height="1"/>
<rect x="441" y="78" width="1" height="1"/>
<rect x="363" y="104" width="1" height="1"/>
<rect x="468" y="153" width="1" height="1"/>
<rect x="476" y="165" width="1" height="1"/>
<rect x="493" y="150" width="1" height="1"/>
<rect x="462" y="69" width="1" height="1"/>
<rect x="491" y="202" width="1" height="1"/>
<rect x="363" y="99" width="1" height="1"/>
<rect x="483" y="165" width="1" height="1"/>
<rect x="364" y="195" width="1" height="1"/>
<rect x="441" y="77" width="1" height="1"/>
<rect x="471" y="129" width="1" height="1"/>
<rect x="473" y="153" width="1" height="1"/>
<rect x="360" y="217" width="1" height="1"/>
<rect x="480" y="171" width="1" height="1"/>
<rect x="355" y="126" width="1" height="1"/>
<rect x="481" y="168" width="1" height="1"/>
<rect x="474" y="137" width="1" height="1"/>
<rect x="374" y="73" width="1" height="1"/>
<rect x="439" y="93" width="1" height="1"/>
<rect x="360" y="154" width="1" height="1"/>
<rect x="494" y="164" width="1" height="1"/>
<rect x="453" y="126" width="1" height="1"/>
<rect x="447" y="101" width="1" height="1"/>
<rect x="368" y="64" width="1" height="1"/>
<rect x="493" y="181" width="1" height="1"/>
<rect x="447" y="90" width="1" height="1"/>
<rect x="360" y="173" width="1" height="1"/>
<rect x="391" y="204" width="1" height="1"/>
<rect x="439" y="191" width="1" height="1"/>
<rect x="361" y="149" width="1" height="1"/>
<rect x="403" y="63" width="1" height="1"/>
<rect x="480" y="170" width="1" height="1"/>
<rect x="394" y="213" width="1" height="1"/>
<rect x="446" y="108" width="1" height="1"/>
<rect x="371" y="192" width="1" height="1"/>
<rect x="475" y="141" width="1" height="1"/>
<rect x="440" y="188" width="1" height="1"/>
<rect x="485" y="176" width="1" height="1"/>
<rect x="446" y="107" width="1" height="1"/>
<rect x="456" y="132" width="1" height="1"/>
<rect x="433" y="70" width="1" height="1"/>
<rect x="364" y="75" width="1" height="1"/>
<rect x="455" y="104" width="1" height="1"/>
<rect x="357" y="173" width="1" height="1"/>
<rect x="460" y="120" width="1" height="1"/>
<rect x="432" y="195" width="1" height="1"/>
<rect x="474" y="161" width="1" height="1"/>
<rect x="398" y="201" width="1" height="1"/>
<rect x="452" y="188" width="1" height="1"/>
<rect x="456" y="127" width="1" height="1"/>
<rect x="433" y="71" width="1" height="1"/>
<rect x="463" y="134" width="1" height="1"/>
<rect x="470" y="137" width="1" height="1"/>
<rect x="445" y="72" width="1" height="1"/>
<rect x="439" y="80" width="1" height="1"/>
<rect x="492" y="213" width="1" height="1"/>
<rect x="424" y="191" width="1" height="1"/>
<rect x="365" y="116" width="1" height="1"/>
<rect x="372" y="60" width="1" height="1"/>
<rect x="452" y="102" width="1" height="1"/>
<rect x="464" y="142" width="1" height="1"/>
<rect x="408" y="209" width="1" height="1"/>
<rect x="397" y="59" width="1" height="1"/>
<rect x="488" y="173" width="1" height="1"/>
<rect x="472" y="207" width="1" height="1"/>
<rect x="386" y="208" width="1" height="1"/>
<rect x="362" y="149" width="1" height="1"/>
<rect x="471" y="188" width="1" height="1"/>
<rect x="361" y="165" width="1" height="1"/>
<rect x="387" y="58" width="1" height="1"/>
<rect x="471" y="102" width="1" height="1"/>
<rect x="382" y="204" width="1" height="1"/>
<rect x="375" y="70" width="1" height="1"/>
<rect x="448" y="83" width="1" height="1"/>
<rect x="482" y="153" width="1" height="1"/>
<rect x="423" y="199" width="1" height="1"/>
<rect x="456" y="117" width="1" height="1"/>
<rect x="357" y="151" width="1" height="1"/>
<rect x="411" y="211" width="1" height="1"/>
<rect x="486" y="192" width="1" height="1"/>
<rect x="434" y="56" width="1" height="1"/>
<rect x="473" y="164" width="1" height="1"/>
<rect x="441" y="72" width="1" height="1"/>
<rect x="423" y="206" width="1" height="1"/>
<rect x="363" y="174" width="1" height="1"/>
<rect x="463" y="200" width="1" height="1"/>
<rect x="362" y="134" width="1" height="1"/>
<rect x="417" y="64" width="1" height="1"/>
<rect x="445" y="92" width="1" height="1"/>
<rect x="364" y="68" width="1" height="1"/>
<rect x="359" y="182" width="1" height="1"/>
<rect x="435" y="196" width="1" height="1"/>
<rect x="455" y="129" width="1" height="1"/>
<rect x="480" y="192" width="1" height="1"/>
<rect x="443" y="93" width="1" height="1"/>
<rect x="360" y="127" width="1" height="1"/>
<rect x="452" y="124" width="1" height="1"/>
<rect x="468" y="134" width="1" height="1"/>
<rect x="414" y="60" width="1" height="1"/>
<rect x="442" y="85" width="1" height="1"/>
<rect x="445" y="71" width="1" height="1"/>
<rect x="471" y="158" width="1" height="1"/>
<rect x="456" y="132" width="1" height="1"/>
<rect x="405" y="220" width="1" height="1"/>
<rect x="352" y="156" width="1" height="1"/>
<rect x="365" y="91" width="1" height="1"/>
<rect x="435" y="71" width="1" height="1"/>
<rect x="362" y="166" width="1" height="1"/>
<rect x="432" y="191" width="1" height="1"/>
<rect x="454" y="77" width="1" height="1"/>
<rect x="461" y="138" width="1" height="1"/>
<rect x="407" y="207" width="1" height="1"/>
<rect x="410" y="200" width="1" height="1"/>
<rect x="454" y="73" width="1" height="1"/>
<rect x="467" y="134" width="1" height="1"/>
<rect x="426" y="196" width="1" height="1"/>
<rect x="474" y="151" width="1" height="1"/>
<rect x="369" y="59" width="1" height="1"/>
<rect x="450" y="114" width="1" height="1"/>
<rect x="360" y="104" width="1" height="1"/>
<rect x="363" y="112" width="1" height="1"/>
<rect x="416" y="211" width="1" height="1"/>
<rect x="450" y="191" width="1" height="1"/>
<rect x="349" y="224" width="1" height="1"/>
<rect x="495" y="189" width="1" height="1"/>
<rect x="367" y="209" width="1" height="1"/>
<rect x="360" y="123" width="1" height="1"/>
<rect x="352" y="203" width="1" height="1"/>
<rect x="342" y="142" width="1" height="1"/>
<rect x="458" y="190" width="1" height="1"/>
<rect x="364" y="91" width="1" height="1"/>
<rect x="418" y="197" width="1" height="1"/>
<rect x="458" y="121" width="1" height="1"/>
<rect x="391" y="204" width="1" height="1"/>
<rect x="462" y="107" width="1" height="1"/>
<rect x="364" y="120" width="1" height="1"/>
<rect x="461" y="137" width="1" height="1"/>
<rect x="355" y="198" width="1" height="1"/>
<rect x="483" y="176" width="1" height="1"/>
<rect x="453" y="101" width="1" height="1"/>
<rect x="364" y="135" width="1" height="1"/>
<rect x="445" y="193" width="1" height="1"/>
<rect x="471" y="197" width="1" height="1"/>
<rect x="480" y="180" width="1" height="1"/>
<rect x="365" y="111" width="1" height="1"/>
<rect x="393" y="201" width="1" height="1"/>
<rect x="452" y="119" width="1" height="1"/>
<rect x="363" y="176" width="1" height="1"/>
<rect x="448" y="189" width="1" height="1"/>
<rect x="491" y="166" width="1" height="1"/>
<rect x="388" y="64" width="1" height="1"/>
<rect x="439" y="92" width="1" height="1"/>
<rect x="369" y="188" width="1" height="1"/>
<rect x="356" y="160" width="1" height="1"/>
<rect x="453" y="193" width="1" height="1"/>
<rect x="360" y="170" width="1" height="1"/>
<rect x="478" y="166" width="1" height="1"/>
<rect x="379" y="197" width="1" height="1"/>
<rect x="484" y="202" width="1" height="1"/>
<rect x="460" y="104" width="1" height="1"/>
<rect x="423" y="192" width="1" height="1"/>
<rect x="400" y="208" width="1" height="1"/>
<rect x="365" y="74" width="1" height="1"/>
<rect x="363" y="127" width="1" height="1"/>
<rect x="461" y="141" width="1" height="1"/>
<rect x="488" y="144" width="1" height="1"/>
<rect x="413" y="196" width="1" height="1"/>
<rect x="432" y="55" width="1" height="1"/>
<rect x="371" y="65" width="1" height="1"/>
<rect x="441" y="188" width="1" height="1"/>
<rect x="364" y="103" width="1" height="1"/>
<rect x="462" y="130" width="1" height="1"/>
<rect x="448" y="79" width="1" height="1"/>
<rect x="371" y="207" width="1" height="1"/>
<rect x="464" y="134" width="1" height="1"/>
<rect x="424" y="65" width="1" height="1"/>
<rect x="366" y="200" width="1" height="1"/>
<rect x="464" y="149" width="1" height="1"/>
<rect x="442" y="100" width="1" height="1"/>
<rect x="370" y="69" width="1" height="1"/>
<rect x="427" y="60" width="1" height="1"/>
<rect x="369" y="195" width="1" height="1"/>
<rect x="463" y="75" width="1" height="1"/>
<rect x="457" y="94" width="1" height="1"/>
<rect x="467" y="143" width="1" height="1"/>
<rect x="371" y="65" width="1" height="1"/>
<rect x="480" y="174" width="1" height="1"/>
<rect x="473" y="158" width="1" height="1"/>
<rect x="481" y="158" width="1" height="1"/>
<rect x="451" y="115" width="1" height="1"/>
<rect x="347" y="105" width="1" height="1"/>
<rect x="502" y="186" width="1" height="1"/>
<rect x="444" y="212" width="1" height="1"/>
<rect x="364" y="150" width="1" height="1"/>
<rect x="405" y="200" width="1" height="1"/>
<rect x="449" y="82" width="1" height="1"/>
<rect x="490" y="184" width="1" height="1"/>
<rect x="464" y="96" width="1" height="1"/>
<rect x="362" y="103" width="1" height="1"/>
<rect x="359" y="61" width="1" height="1"/>
<rect x="391" y="204" width="1" height="1"/>
<rect x="359" y="81" width="1" height="1"/>
<rect x="450" y="95" width="1" height="1"/>
<rect x="450" y="114" width="1" height="1"/>
<rect x="479" y="125" width="1" height="1"/>
<rect x="476" y="190" width="1" height="1"/>
<rect x="377" y="67" width="1" height="1"/>
<rect x="424" y="66" width="1" height="1"/>
<rect x="352" y="94" width="1" height="1"/>
<rect x="364" y="197" width="1" height="1"/>
<rect x="368" y="192" width="1" height="1"/>
<rect x="400" y="199" width="1" height="1"/>
<rect x="333" y="136" width="1" height="1"/>
<rect x="417" y="54" width="1" height="1"/>
<rect x="361" y="151" width="1" height="1"/>
<rect x="451" y="104" width="1" height="1"/>
<rect x="371" y="77" width="1" height="1"/>
<rect x="476" y="107" width="1" height="1"/>
<rect x="359" y="175" width="1" height="1"/>
<rect x="354" y="148" width="1" height="1"/>
<rect x="486" y="178" width="1" height="1"/>
<rect x="485" y="154" width="1" height="1"/>
<rect x="476" y="148" width="1" height="1"/>
<rect x="481" y="143" width="1" height="1"/>
<rect x="356" y="187" width="1" height="1"/>
<rect x="360" y="165" width="1" height="1"/>
<rect x="361" y="162" width="1" height="1"/>
<rect x="451" y="113" width="1" height="1"/>
<rect x="361" y="93" width="1" height="1"/>
<rect x="430" y="188" width="1" height="1"/>
<rect x="471" y="156" width="1" height="1"/>
<rect x="363" y="184" width="1" height="1"/>
<rect x="357" y="110" width="1" height="1"/>
<rect x="422" y="58" width="1" height="1"/>
<rect x="369" y="188" width="1" height="1"/>
<rect x="441" y="84" width="1" height="1"/>
<rect x="479" y="181" width="1" height="1"/>
<rect x="395" y="64" width="1" height="1"/>
<rect x="438" y="69" width="1" height="1"/>
<rect x="366" y="74" width="1" height="1"/>
<rect x="451" y="79" width="1" height="1"/>
<rect x="460" y="190" width="1" height="1"/>
<rect x="423" y="59" width="1" height="1"/>
<rect x="453" y="108" width="1" height="1"/>
<rect x="473" y="142" width="1" height="1"/>
<rect x="479" y="140" width="1" height="1"/>
<rect x="362" y="165" width="1" height="1"/>
<rect x="461" y="141" width="1" height="1"/>
<rect x="459" y="77" width="1" height="1"/>
<rect x="383" y="67" width="1" height="1"/>
<rect x="367" y="187" width="1" height="1"/>
<rect x="446" y="104" width="1" height="1"/>
<rect x="440" y="80" width="1" height="1"/>
<rect x="363" y="105" width="1" height="1"/>
<rect x="371" y="75" width="1" height="1"/>
<rect x="489" y="184" width="1" height="1"/>
<rect x="364" y="93" width="1" height="1"/>
<rect x="468" y="148" width="1" height="1"/>
<rect x="360" y="123" width="1" height="1"/>
<rect x="470" y="147" width="1" height="1"/>
<rect x="461" y="202" width="1" height="1"/>
<rect x="358" y="134" width="1" height="1"/>
<rect x="448" y="78" width="1" height="1"/>
<rect x="480" y="167" width="1" height="1"/>
<rect x="462" y="108" width="1" height="1"/>
<rect x="441" y="101" width="1" height="1"/>
<rect x="503" y="190" width="1" height="1"/>
<rect x="439" y="96" width="1" height="1"/>
<rect x="361" y="106" width="1" height="1"/>
<rect x="458" y="126" width="1" height="1"/>
<rect x="431" y="187" width="1" height="1"/>
<rect x="479" y="186" width="1" height="1"/>
<rect x="361" y="120" width="1" height="1"/>
<rect x="457" y="55" width="1" height="1"/>
<rect x="442" y="54" width="1" height="1"/>
<rect x="461" y="73" width="1" height="1"/>
<rect x="363" y="222" width="1" height="1"/>
<rect x="469" y="127" width="1" height="1"/>
<rect x="358" y="135" width="1" height="1"/>
<rect x="352" y="169" width="1" height="1"/>
<rect x="363" y="134" width="1" height="1"/>
<rect x="439" y="83" width="1" height="1"/>
<rect x="478" y="171" width="1" height="1"/>
<rect x="362" y="86" width="1" height="1"/>
<rect x="456" y="113" width="1" height="1"/>
<rect x="398" y="59" width="1" height="1"/>
<rect x="470" y="156" width="1" height="1"/>
<rect x="458" y="189" width="1" height="1"/>
<rect x="464" y="111" width="1" height="1"/>
<rect x="392" y="64" width="1" height="1"/>
<rect x="357" y="114" width="1" height="1"/>
<rect x="449" y="84" width="1" height="1"/>
<rect x="366" y="92" width="1" height="1"/>
<rect x="483" y="161" width="1" height="1"/>
<rect x="361" y="154" width="1" height="1"/>
<rect x="480" y="151" width="1" height="1"/>
<rect x="459" y="124" width="1" height="1"/>
<rect x="476" y="149" width="1" height="1"/>
<rect x="467" y="130" width="1" height="1"/>
<rect x="360" y="118" width="1" height="1"/>
<rect x="460" y="67" width="1" height="1"/>
<rect x="474" y="196" width="1" height="1"/>
<rect x="359" y="117" width="1" height="1"/>
<rect x="468" y="192" width="1" height="1"/>
<rect x="438" y="197" width="1" height="1"/>
<rect x="463" y="121" width="1" height="1"/>
<rect x="471" y="160" width="1" height="1"/>
<rect x="466" y="138" width="1" height="1"/>
<rect x="451" y="190" width="1" height="1"/>
<rect x="373" y="215" width="1" height="1"/>
<rect x="433" y="54" width="1" height="1"/>
<rect x="366" y="195" width="1" height="1"/>
<rect x="460" y="96" width="1" height="1"/>
<rect x="364" y="92" width="1" height="1"/>
<rect x="477" y="170" width="1" height="1"/>
<rect x="440" y="97" width="1" height="1"/>
<rect x="459" y="135" width="1" height="1"/>
<rect x="437" y="77" width="1" height="1"/>
<rect x="450" y="56" width="1" height="1"/>
<rect x="457" y="132" width="1" height="1"/>
<rect x="448" y="82" width="1" height="1"/>
<rect x="431" y="200" width="1" height="1"/>
<rect x="450" y="60" width="1" height="1"/>
<rect x="435" y="73" width="1" height="1"/>
<rect x="369" y="203" width="1" height="1"/>
<rect x="355" y="99" width="1" height="1"/>
<rect x="474" y="153" width="1" height="1"/>
<rect x="424" y="61" width="1" height="1"/>
<rect x="477" y="168" width="1" height="1"/>
<rect x="473" y="137" width="1" height="1"/>
<rect x="456" y="191" width="1" height="1"/>
<rect x="362" y="168" width="1" height="1"/>
<rect x="363" y="161" width="1" height="1"/>
<rect x="468" y="132" width="1" height="1"/>
<rect x="466" y="146" width="1" height="1"/>
<rect x="480" y="186" width="1" height="1"/>
<rect x="360" y="117" width="1" height="1"/>
<rect x="494" y="162" width="1" height="1"/>
<rect x="450" y="76" width="1" height="1"/>
<rect x="450" y="195" width="1" height="1"/>
<rect x="468" y="152" width="1" height="1"/>
<rect x="365" y="81" width="1" height="1"/>
<rect x="474" y="95" width="1" height="1"/>
<rect x="455" y="111" width="1" height="1"/>
<rect x="457" y="66" width="1" height="1"/>
<rect x="461" y="133" width="1" height="1"/>
<rect x="473" y="138" width="1" height="1"/>
<rect x="355" y="143" width="1" height="1"/>
<rect x="460" y="121" width="1" height="1"/>
<rect x="442" y="89" width="1" height="1"/>
<rect x="486" y="179" width="1" height="1"/>
<rect x="457" y="126" width="1" height="1"/>
<rect x="470" y="55" width="1" height="1"/>
<rect x="489" y="181" width="1" height="1"/>
<rect x="366" y="62" width="1" height="1"/>
<rect x="471" y="152" width="1" height="1"/>
<rect x="468" y="141" width="1" height="1"/>
<rect x="377" y="201" width="1" height="1"/>
<rect x="387" y="200" width="1" height="1"/>
<rect x="453" y="115" width="1" height="1"/>
<rect x="363" y="147" width="1" height="1"/>
<rect x="467" y="75" width="1" height="1"/>
<rect x="460" y="139" width="1" height="1"/>
<rect x="451" y="106" width="1" height="1"/>
<rect x="455" y="123" width="1" height="1"/>
<rect x="450" y="118" width="1" height="1"/>
<rect x="363" y="200" width="1" height="1"/>
<rect x="477" y="145" width="1" height="1"/>
<rect x="463" y="192" width="1" height="1"/>
<rect x="364" y="126" width="1" height="1"/>
<rect x="465" y="112" width="1" height="1"/>
<rect x="416" y="206" width="1" height="1"/>
<rect x="449" y="109" width="1" height="1"/>
<rect x="371" y="63" width="1" height="1"/>
<rect x="442" y="94" width="1" height="1"/>
<rect x="481" y="178" width="1" height="1"/>
<rect x="364" y="126" width="1" height="1"/>
<rect x="476" y="188" width="1" height="1"/>
<rect x="475" y="166" width="1" height="1"/>
<rect x="357" y="199" width="1" height="1"/>
<rect x="368" y="82" width="1" height="1"/>
<rect x="456" y="197" width="1" height="1"/>
<rect x="468" y="88" width="1" height="1"/>
<rect x="458" y="125" width="1" height="1"/>
<rect x="478" y="203" width="1" height="1"/>
<rect x="480" y="111" width="1" height="1"/>
<rect x="464" y="146" width="1" height="1"/>
<rect x="456" y="115" width="1" height="1"/>
<rect x="450" y="73" width="1" height="1"/>
<rect x="467" y="137" width="1" height="1"/>
<rect x="457" y="64" width="1" height="1"/>
<rect x="370" y="63" width="1" height="1"/>
<rect x="454" y="127" width="1" height="1"/>
<rect x="357" y="111" width="1" height="1"/>
<rect x="444" y="191" width="1" height="1"/>
<rect x="334" y="132" width="1" height="1"/>
<rect x="451" y="113" width="1" height="1"/>
<rect x="364" y="100" width="1" height="1"/>
<rect x="409" y="198" width="1" height="1"/>
<rect x="441" y="189" width="1" height="1"/>
<rect x="466" y="145" width="1" height="1"/>
<rect x="438" y="77" width="1" height="1"/>
<rect x="347" y="141" width="1" height="1"/>
<rect x="428" y="64" width="1" height="1"/>
<rect x="367" y="75" width="1" height="1"/>
<rect x="451" y="118" width="1" height="1"/>
<rect x="412" y="65" width="1" height="1"/>
<rect x="404" y="65" width="1" height="1"/>
<rect x="476" y="141" width="1" height="1"/>
<rect x="457" y="189" width="1" height="1"/>
<rect x="443" y="96" width="1" height="1"/>
<rect x="468" y="192" width="1" height="1"/>
<rect x="340" y="79" width="1" height="1"/>
<rect x="455" y="124" width="1" height="1"/>
<rect x="467" y="116" width="1" height="1"/>
<rect x="360" y="187" width="1" height="1"/>
<rect x="363" y="143" width="1" height="1"/>
<rect x="478" y="144" width="1" height="1"/>
<rect x="377" y="66" width="1" height="1"/>
<rect x="469" y="86" width="1" height="1"/>
<rect x="363" y="100" width="1" height="1"/>
<rect x="475" y="168" width="1" height="1"/>
<rect x="458" y="195" width="1" height="1"/>
<rect x="415" y="201" width="1" height="1"/>
<rect x="472" y="193" width="1" height="1"/>
<rect x="467" y="190" width="1" height="1"/>
<rect x="425" y="192" width="1" height="1"/>
<rect x="487" y="157" width="1" height="1"/>
<rect x="371" y="63" width="1" height="1"/>
<rect x="447" y="72" width="1" height="1"/>
<rect x="382" y="64" width="1" height="1"/>
<rect x="476" y="170" width="1" height="1"/>
<rect x="362" y="166" width="1" height="1"/>
<rect x="440" y="81" width="1" height="1"/>
<rect x="358" y="102" width="1" height="1"/>
<rect x="463" y="79" width="1" height="1"/>
<rect x="474" y="193" width="1" height="1"/>
<rect x="357" y="187" width="1" height="1"/>
<rect x="360" y="166" width="1" height="1"/>
<rect x="474" y="151" width="1" height="1"/>
<rect x="489" y="134" width="1" height="1"/>
<rect x="463" y="127" width="1" height="1"/>
<rect x="441" y="77" width="1" height="1"/>
<rect x="466" y="135" width="1" height="1"/>
<rect x="468" y="145" width="1" height="1"/>
<rect x="496" y="157" width="1" height="1"/>
<rect x="428" y="67" width="1" height="1"/>
<rect x="378" y="201" width="1" height="1"/>
<rect x="478" y="166" width="1" height="1"/>
<rect x="363" y="161" width="1" height="1"/>
<rect x="442" y="99" width="1" height="1"/>
<rect x="457" y="135" width="1" height="1"/>
<rect x="348" y="154" width="1" height="1"/>
<rect x="444" y="90" width="1" height="1"/>
<rect x="472" y="160" width="1" height="1"/>
<rect x="363" y="148" width="1" height="1"/>
<rect x="368" y="187" width="1" height="1"/>
<rect x="469" y="141" width="1" height="1"/>
<rect x="357" y="165" width="1" height="1"/>
<rect x="371" y="205" width="1" height="1"/>
<rect x="351" y="159" width="1" height="1"/>
<rect x="403" y="54" width="1" height="1"/>
<rect x="422" y="65" width="1" height="1"/>
<rect x="463" y="119" width="1" height="1"/>
<rect x="357" y="127" width="1" height="1"/>
<rect x="472" y="151" width="1" height="1"/>
<rect x="352" y="123" width="1" height="1"/>
<rect x="359" y="124" width="1" height="1"/>
<rect x="416" y="64" width="1" height="1"/>
<rect x="360" y="192" width="1" height="1"/>
<rect x="359" y="135" width="1" height="1"/>
<rect x="390" y="203" width="1" height="1"/>
<rect x="376" y="200" width="1" height="1"/>
<rect x="413" y="207" width="1" height="1"/>
<rect x="357" y="158" width="1" height="1"/>
<rect x="371" y="64" width="1" height="1"/>
<rect x="469" y="121" width="1" height="1"/>
<rect x="469" y="136" width="1" height="1"/>
<rect x="362" y="97" width="1" height="1"/>
<rect x="419" y="61" width="1" height="1"/>
<rect x="359" y="177" width="1" height="1"/>
<rect x="358" y="188" width="1" height="1"/>
<rect x="440" y="86" width="1" height="1"/>
<rect x="392" y="56" width="1" height="1"/>
<rect x="491" y="174" width="1" height="1"/>
<rect x="475" y="164" width="1" height="1"/>
<rect x="365" y="78" width="1" height="1"/>
<rect x="443" y="86" width="1" height="1"/>
<rect x="361" y="96" width="1" height="1"/>
<rect x="359" y="158" width="1" height="1"/>
<rect x="461" y="195" width="1" height="1"/>
<rect x="455" y="191" width="1" height="1"/>
<rect x="445" y="86" width="1" height="1"/>
<rect x="448" y="110" width="1" height="1"/>
<rect x="363" y="139" width="1" height="1"/>
<rect x="478" y="154" width="1" height="1"/>
<rect x="464" y="96" width="1" height="1"/>
<rect x="364" y="114" width="1" height="1"/>
<rect x="484" y="150" width="1" height="1"/>
<rect x="471" y="157" width="1" height="1"/>
<rect x="498" y="180" width="1" height="1"/>
<rect x="461" y="141" width="1" height="1"/>
<rect x="428" y="59" width="1" height="1"/>
<rect x="440" y="95" width="1" height="1"/>
<rect x="463" y="142" width="1" height="1"/>
<rect x="448" y="107" width="1" height="1"/>
<rect x="410" y="213" width="1" height="1"/>
<rect x="445" y="99" width="1" height="1"/>
<rect x="476" y="195" width="1" height="1"/>
<rect x="439" y="91" width="1" height="1"/>
<rect x="484" y="185" width="1" height="1"/>
<rect x="482" y="169" width="1" height="1"/>
<rect x="413" y="220" width="1" height="1"/>
<rect x="477" y="162" width="1" height="1"/>
<rect x="391" y="202" width="1" height="1"/>
<rect x="468" y="196" width="1" height="1"/>
<rect x="453" y="115" width="1" height="1"/>
<rect x="468" y="142" width="1" height="1"/>
<rect x="444" y="70" width="1" height="1"/>
<rect x="459" y="91" width="1" height="1"/>
<rect x="442" y="197" width="1" height="1"/>
<rect x="356" y="91" width="1" height="1"/>
<rect x="358" y="111" width="1" height="1"/>
<rect x="368" y="89" width="1" height="1"/>
<rect x="480" y="190" width="1" height="1"/>
<rect x="471" y="81" width="1" height="1"/>
<rect x="468" y="150" width="1" height="1"/>
<rect x="370" y="83" width="1" height="1"/>
<rect x="436" y="193" width="1" height="1"/>
<rect x="457" y="80" width="1" height="1"/>
<rect x="466" y="152" width="1" height="1"/>
<rect x="408" y="207" width="1" height="1"/>
<rect x="346" y="164" width="1" height="1"/>
<rect x="464" y="145" width="1" height="1"/>
<rect x="480" y="178" width="1" height="1"/>
<rect x="493" y="124" width="1" height="1"/>
<rect x="437" y="72" width="1" height="1"/>
<rect x="363" y="173" width="1" height="1"/>
<rect x="374" y="196" width="1" height="1"/>
<rect x="358" y="99" width="1" height="1"/>
<rect x="361" y="130" width="1" height="1"/>
<rect x="421" y="192" width="1" height="1"/>
<rect x="356" y="102" width="1" height="1"/>
<rect x="448" y="110" width="1" height="1"/>
<rect x="361" y="112" width="1" height="1"/>
<rect x="370" y="80" width="1" height="1"/>
<rect x="404" y="199" width="1" height="1"/>
<rect x="361" y="158" width="1" height="1"/>
<rect x="504" y="162" width="1" height="1"/>
<rect x="481" y="185" width="1" height="1"/>
<rect x="430" y="195" width="1" height="1"/>
<rect x="346" y="138" width="1" height="1"/>
<rect x="406" y="209" width="1" height="1"/>
<rect x="374" y="55" width="1" height="1"/>
<rect x="459" y="97" width="1" height="1"/>
<rect x="352" y="86" width="1" height="1"/>
<rect x="469" y="149" width="1" height="1"/>
<rect x="365" y="181" width="1" height="1"/>
<rect x="474" y="192" width="1" height="1"/>
<rect x="461" y="213" width="1" height="1"/>
<rect x="409" y="202" width="1" height="1"/>
<rect x="461" y="131" width="1" height="1"/>
<rect x="458" y="135" width="1" height="1"/>
<rect x="468" y="139" width="1" height="1"/>
<rect x="437" y="53" width="1" height="1"/>
<rect x="458" y="130" width="1" height="1"/>
<rect x="363" y="171" width="1" height="1"/>
<rect x="400" y="64" width="1" height="1"/>
<rect x="448" y="104" width="1" height="1"/>
<rect x="446" y="79" width="1" height="1"/>
<rect x="431" y="70" width="1" height="1"/>
<rect x="447" y="111" width="1" height="1"/>
<rect x="456" y="127" width="1" height="1"/>
<rect x="448" y="74" width="1" height="1"/>
<rect x="471" y="159" width="1" height="1"/>
<rect x="361" y="160" width="1" height="1"/>
<rect x="424" y="221" width="1" height="1"/>
<rect x="478" y="172" width="1" height="1"/>
<rect x="447" y="58" width="1" height="1"/>
<rect x="358" y="77" width="1" height="1"/>
<rect x="448" y="201" width="1" height="1"/>
<rect x="366" y="82" width="1" height="1"/>
<rect x="362" y="92" width="1" height="1"/>
<rect x="472" y="130" width="1" height="1"/>
<rect x="475" y="189" width="1" height="1"/>
<rect x="475" y="131" width="1" height="1"/>
<rect x="438" y="59" width="1" height="1"/>
<rect x="452" y="116" width="1" height="1"/>
<rect x="469" y="207" width="1" height="1"/>
<rect x="443" y="95" width="1" height="1"/>
<rect x="478" y="166" width="1" height="1"/>
<rect x="458" y="107" width="1" height="1"/>
<rect x="437" y="63" width="1" height="1"/>
<rect x="459" y="114" width="1" height="1"/>
<rect x="465" y="132" width="1" height="1"/>
<rect x="367" y="195" width="1" height="1"/>
<rect x="450" y="86" width="1" height="1"/>
<rect x="429" y="196" width="1" height="1"/>
<rect x="364" y="77" width="1" height="1"/>
<rect x="454" y="110" width="1" height="1"/>
<rect x="352" y="125" width="1" height="1"/>
<rect x="378" y="207" width="1" height="1"/>
<rect x="453" y="117" width="1" height="1"/>
<rect x="487" y="111" width="1" height="1"/>
<rect x="414" y="61" width="1" height="1"/>
<rect x="439" y="96" width="1" height="1"/>
<rect x="480" y="156" width="1" height="1"/>
<rect x="350" y="174" width="1" height="1"/>
<rect x="453" y="125" width="1" height="1"/>
<rect x="395" y="203" width="1" height="1"/>
<rect x="463" y="60" width="1" height="1"/>
<rect x="359" y="157" width="1" height="1"/>
<rect x="357" y="118" width="1" height="1"/>
<rect x="462" y="136" width="1" height="1"/>
<rect x="449" y="111" width="1" height="1"/>
<rect x="448" y="77" width="1" height="1"/>
<rect x="455" y="80" width="1" height="1"/>
<rect x="369" y="69" width="1" height="1"/>
<rect x="464" y="145" width="1" height="1"/>
<rect x="356" y="213" width="1" height="1"/>
<rect x="446" y="77" width="1" height="1"/>
<rect x="376" y="197" width="1" height="1"/>
<rect x="359" y="162" width="1" height="1"/>
<rect x="466" y="104" width="1" height="1"/>
<rect x="371" y="80" width="1" height="1"/>
<rect x="456" y="87" width="1" height="1"/>
<rect x="410" y="209" width="1" height="1"/>
<rect x="357" y="147" width="1" height="1"/>
<rect x="401" y="217" width="1" height="1"/>
<rect x="463" y="100" width="1" height="1"/>
<rect x="451" y="77" width="1" height="1"/>
<rect x="463" y="142" width="1" height="1"/>
</g>
<text x="270.8" y="23.8" font-size="17" text-anchor="start" font-weight="bold" fill="#111" >B</text>
<text x="416.5" y="44.9" font-size="13.3" text-anchor="middle" font-weight="normal" fill="#1a1a1a" >Responders</text>
<rect x="326.5" y="52.5" width="180" height="179" fill="none" stroke="#888" stroke-width="1.2"/>
<line x1="430.2" y1="52.5" x2="430.2" y2="231.5" stroke="#3a3a3a" stroke-width="1"/>
<line x1="326.5" y1="147.5" x2="506.5" y2="147.5" stroke="#3a3a3a" stroke-width="1"/>
<text x="328.8" y="63.5" font-size="11" text-anchor="start" font-weight="normal" fill="#1a1a1a" >15.6</text>
<text x="503.7" y="63.5" font-size="11" text-anchor="end" font-weight="normal" fill="#1a1a1a" >16.2</text>
<text x="328.8" y="229" font-size="11" text-anchor="start" font-weight="normal" fill="#1a1a1a" >2.77</text>
<text x="503.7" y="215" font-size="11" text-anchor="end" font-weight="normal" fill="#1a1a1a" >Tregs</text>
<text x="503.7" y="228.8" font-size="11" text-anchor="end" font-weight="normal" fill="#1a1a1a" >3.48</text>
<line x1="321.5" y1="54" x2="326.5" y2="54" stroke="#999" stroke-width="1"/>
<text x="316.5" y="58.4" font-size="11" text-anchor="end" fill="#1a1a1a">10<tspan font-size="8.2" dx="0.6" dy="-4.9">5</tspan></text>
<line x1="321.5" y1="110" x2="326.5" y2="110" stroke="#999" stroke-width="1"/>
<text x="316.5" y="114.4" font-size="11" text-anchor="end" fill="#1a1a1a">10<tspan font-size="8.2" dx="0.6" dy="-4.9">4</tspan></text>
<line x1="321.5" y1="218" x2="326.5" y2="218" stroke="#999" stroke-width="1"/>
<text x="316.5" y="222.4" font-size="11" text-anchor="end" fill="#1a1a1a">&#8722;10<tspan font-size="8.2" dx="0.6" dy="-4.9">4</tspan></text>
<line x1="321.5" y1="164" x2="326.5" y2="164" stroke="#999" stroke-width="1"/>
<text x="316.5" y="167.9" font-size="11" text-anchor="end" font-weight="normal" fill="#1a1a1a" >0</text>
<line x1="322.5" y1="156.5" x2="326.5" y2="156.5" stroke="#8a8a8a" stroke-width="0.8"/>
<line x1="322.5" y1="159" x2="326.5" y2="159" stroke="#8a8a8a" stroke-width="0.8"/>
<line x1="322.5" y1="161.5" x2="326.5" y2="161.5" stroke="#8a8a8a" stroke-width="0.8"/>
<line x1="322.5" y1="166.5" x2="326.5" y2="166.5" stroke="#8a8a8a" stroke-width="0.8"/>
<line x1="322.5" y1="169" x2="326.5" y2="169" stroke="#8a8a8a" stroke-width="0.8"/>
<line x1="322.5" y1="171" x2="326.5" y2="171" stroke="#8a8a8a" stroke-width="0.8"/>
<line x1="385.5" y1="231.5" x2="385.5" y2="235.0" stroke="#8a8a8a" stroke-width="0.8"/>
<line x1="388.0" y1="231.5" x2="388.0" y2="235.0" stroke="#8a8a8a" stroke-width="0.8"/>
<line x1="390.5" y1="231.5" x2="390.5" y2="235.0" stroke="#8a8a8a" stroke-width="0.8"/>
<line x1="395.5" y1="231.5" x2="395.5" y2="235.0" stroke="#8a8a8a" stroke-width="0.8"/>
<line x1="398.0" y1="231.5" x2="398.0" y2="235.0" stroke="#8a8a8a" stroke-width="0.8"/>
<line x1="400.5" y1="231.5" x2="400.5" y2="235.0" stroke="#8a8a8a" stroke-width="0.8"/>
<line x1="324.0" y1="93.14232024281705" x2="326.5" y2="93.14232024281705" stroke="#8a8a8a" stroke-width="0.8"/>
<line x1="324.0" y1="83.28120973569891" x2="326.5" y2="83.28120973569891" stroke="#8a8a8a" stroke-width="0.8"/>
<line x1="324.0" y1="76.2846404856341" x2="326.5" y2="76.2846404856341" stroke="#8a8a8a" stroke-width="0.8"/>
<line x1="324.0" y1="70.85767975718295" x2="326.5" y2="70.85767975718295" stroke="#8a8a8a" stroke-width="0.8"/>
<line x1="324.0" y1="66.42352997851596" x2="326.5" y2="66.42352997851596" stroke="#8a8a8a" stroke-width="0.8"/>
<line x1="324.0" y1="62.67450975920162" x2="326.5" y2="62.67450975920162" stroke="#8a8a8a" stroke-width="0.8"/>
<line x1="324.0" y1="59.426960728451164" x2="326.5" y2="59.426960728451164" stroke="#8a8a8a" stroke-width="0.8"/>
<line x1="324.0" y1="56.56241947139781" x2="326.5" y2="56.56241947139781" stroke="#8a8a8a" stroke-width="0.8"/>
<line x1="324.0" y1="113.2" x2="326.5" y2="113.2" stroke="#8a8a8a" stroke-width="0.8"/>
<line x1="324.0" y1="116.6" x2="326.5" y2="116.6" stroke="#8a8a8a" stroke-width="0.8"/>
<line x1="324.0" y1="120.1" x2="326.5" y2="120.1" stroke="#8a8a8a" stroke-width="0.8"/>
<line x1="324.0" y1="124.5" x2="326.5" y2="124.5" stroke="#8a8a8a" stroke-width="0.8"/>
<line x1="324.0" y1="129.5" x2="326.5" y2="129.5" stroke="#8a8a8a" stroke-width="0.8"/>
<line x1="324.0" y1="135.5" x2="326.5" y2="135.5" stroke="#8a8a8a" stroke-width="0.8"/>
<line x1="324.0" y1="143" x2="326.5" y2="143" stroke="#8a8a8a" stroke-width="0.8"/>
<line x1="324.0" y1="153" x2="326.5" y2="153" stroke="#8a8a8a" stroke-width="0.8"/>
<line x1="324.0" y1="175" x2="326.5" y2="175" stroke="#8a8a8a" stroke-width="0.8"/>
<line x1="324.0" y1="185" x2="326.5" y2="185" stroke="#8a8a8a" stroke-width="0.8"/>
<line x1="324.0" y1="196" x2="326.5" y2="196" stroke="#8a8a8a" stroke-width="0.8"/>
<line x1="324.0" y1="207" x2="326.5" y2="207" stroke="#8a8a8a" stroke-width="0.8"/>
<line x1="339.0" y1="231.5" x2="339.0" y2="236.0" stroke="#999" stroke-width="1"/>
<text x="338.0" y="249.5" font-size="11" text-anchor="middle" fill="#1a1a1a">&#8722;10<tspan font-size="8.2" dx="0.6" dy="-4.9">4</tspan></text>
<line x1="447.5" y1="231.5" x2="447.5" y2="236.0" stroke="#999" stroke-width="1"/>
<text x="447.5" y="249.5" font-size="11" text-anchor="middle" fill="#1a1a1a">10<tspan font-size="8.2" dx="0.6" dy="-4.9">4</tspan></text>
<line x1="503.5" y1="231.5" x2="503.5" y2="236.0" stroke="#999" stroke-width="1"/>
<text x="503.5" y="249.5" font-size="11" text-anchor="middle" fill="#1a1a1a">10<tspan font-size="8.2" dx="0.6" dy="-4.9">5</tspan></text>
<line x1="393.0" y1="231.5" x2="393.0" y2="236.0" stroke="#999" stroke-width="1"/>
<text x="393.0" y="249.6" font-size="11" text-anchor="middle" font-weight="normal" fill="#1a1a1a" >0</text>
<line x1="464.35767975718295" y1="231.5" x2="464.35767975718295" y2="234.0" stroke="#8a8a8a" stroke-width="0.8"/>
<line x1="474.2187902643011" y1="231.5" x2="474.2187902643011" y2="234.0" stroke="#8a8a8a" stroke-width="0.8"/>
<line x1="481.2153595143659" y1="231.5" x2="481.2153595143659" y2="234.0" stroke="#8a8a8a" stroke-width="0.8"/>
<line x1="486.64232024281705" y1="231.5" x2="486.64232024281705" y2="234.0" stroke="#8a8a8a" stroke-width="0.8"/>
<line x1="491.07647002148406" y1="231.5" x2="491.07647002148406" y2="234.0" stroke="#8a8a8a" stroke-width="0.8"/>
<line x1="494.8254902407984" y1="231.5" x2="494.8254902407984" y2="234.0" stroke="#8a8a8a" stroke-width="0.8"/>
<line x1="498.07303927154885" y1="231.5" x2="498.07303927154885" y2="234.0" stroke="#8a8a8a" stroke-width="0.8"/>
<line x1="500.9375805286022" y1="231.5" x2="500.9375805286022" y2="234.0" stroke="#8a8a8a" stroke-width="0.8"/>
<line x1="444.7" y1="231.5" x2="444.7" y2="234.0" stroke="#8a8a8a" stroke-width="0.8"/>
<line x1="441.3" y1="231.5" x2="441.3" y2="234.0" stroke="#8a8a8a" stroke-width="0.8"/>
<line x1="437.8" y1="231.5" x2="437.8" y2="234.0" stroke="#8a8a8a" stroke-width="0.8"/>
<line x1="433.5" y1="231.5" x2="433.5" y2="234.0" stroke="#8a8a8a" stroke-width="0.8"/>
<line x1="428.5" y1="231.5" x2="428.5" y2="234.0" stroke="#8a8a8a" stroke-width="0.8"/>
<line x1="422.5" y1="231.5" x2="422.5" y2="234.0" stroke="#8a8a8a" stroke-width="0.8"/>
<line x1="415.0" y1="231.5" x2="415.0" y2="234.0" stroke="#8a8a8a" stroke-width="0.8"/>
<line x1="405.0" y1="231.5" x2="405.0" y2="234.0" stroke="#8a8a8a" stroke-width="0.8"/>
<line x1="382.5" y1="231.5" x2="382.5" y2="234.0" stroke="#8a8a8a" stroke-width="0.8"/>
<line x1="372.5" y1="231.5" x2="372.5" y2="234.0" stroke="#8a8a8a" stroke-width="0.8"/>
<line x1="361.5" y1="231.5" x2="361.5" y2="234.0" stroke="#8a8a8a" stroke-width="0.8"/>
<line x1="350.5" y1="231.5" x2="350.5" y2="234.0" stroke="#8a8a8a" stroke-width="0.8"/>
<text x="415.9" y="268.2" font-size="14.2" text-anchor="middle" textLength="65.6" lengthAdjust="spacingAndGlyphs" font-weight="bold" fill="#1a1a1a">CD25 (BUV563)</text>
<text transform="translate(283.8,142.6) rotate(-90)" x="0" y="0" font-size="14.2" text-anchor="middle" textLength="68.4" lengthAdjust="spacingAndGlyphs" font-weight="bold" fill="#1a1a1a">CD127 (PE-Cy5)</text>
<text x="83" y="308.6" font-size="17" text-anchor="start" font-weight="bold" fill="#111" >C</text>
<text x="196.35" y="329.6" font-size="13.9" text-anchor="middle" font-weight="normal" fill="#1a1a1a" >CD4 TCMs</text>
<text x="170.1" y="347" font-size="12.6" fill="#1a1a1a"><tspan font-style="italic">P</tspan><tspan dx="1.6">=</tspan><tspan dx="1.8">.0032</tspan></text>
<line x1="171.7" y1="354.5" x2="220" y2="354.5" stroke="#1a1a1a" stroke-width="1.3"/>
<rect x="156.5" y="401.2" width="30.69999999999999" height="110.8" fill="#9fd3e7"/>
<rect x="204.0" y="466.1" width="31.0" height="45.9" fill="#f6c4b8"/>
<circle cx="172.2" cy="362.7" r="2.7" fill="#1ba5c0"/>
<circle cx="172.2" cy="377.2" r="2.7" fill="#1ba5c0"/>
<circle cx="172.2" cy="397.1" r="2.7" fill="#1ba5c0"/>
<circle cx="172.2" cy="406.9" r="2.7" fill="#1ba5c0"/>
<circle cx="172.2" cy="459.8" r="2.7" fill="#1ba5c0"/>
<circle cx="219.6" cy="403.1" r="2.7" fill="#e8797a"/>
<circle cx="219.6" cy="448.2" r="2.7" fill="#e8797a"/>
<circle cx="219.6" cy="454.2" r="2.7" fill="#e8797a"/>
<circle cx="214.29999999999998" cy="467.2" r="2.7" fill="#e8797a"/>
<circle cx="224.9" cy="467.2" r="2.7" fill="#e8797a"/>
<circle cx="214.29999999999998" cy="485.1" r="2.7" fill="#e8797a"/>
<circle cx="224.9" cy="481.8" r="2.7" fill="#e8797a"/>
<circle cx="224.9" cy="488.4" r="2.7" fill="#e8797a"/>
<circle cx="219.6" cy="496.9" r="2.7" fill="#e8797a"/>
<line x1="172.2" y1="363.5" x2="172.2" y2="438.575" stroke="#1a1a1a" stroke-width="1.3"/>
<line x1="163.7" y1="363.5" x2="180.7" y2="363.5" stroke="#1a1a1a" stroke-width="1.3"/>
<line x1="163.7" y1="438.575" x2="180.7" y2="438.575" stroke="#1a1a1a" stroke-width="1.3"/>
<line x1="219.6" y1="437.75" x2="219.6" y2="494.675" stroke="#1a1a1a" stroke-width="1.3"/>
<line x1="211.1" y1="437.75" x2="228.1" y2="437.75" stroke="#1a1a1a" stroke-width="1.3"/>
<line x1="211.1" y1="494.675" x2="228.1" y2="494.675" stroke="#1a1a1a" stroke-width="1.3"/>
<line x1="141" y1="343" x2="141" y2="512.7" stroke="#1a1a1a" stroke-width="1.4"/>
<line x1="140.3" y1="512" x2="246" y2="512" stroke="#1a1a1a" stroke-width="1.4"/>
<line x1="136.5" y1="512.0" x2="141" y2="512.0" stroke="#1a1a1a" stroke-width="1.2"/>
<text x="132" y="515.9" font-size="11" text-anchor="end" font-weight="normal" fill="#1a1a1a" >0</text>
<line x1="136.5" y1="457.0" x2="141" y2="457.0" stroke="#1a1a1a" stroke-width="1.2"/>
<text x="132" y="460.9" font-size="11" text-anchor="end" font-weight="normal" fill="#1a1a1a" >20</text>
<line x1="136.5" y1="402.0" x2="141" y2="402.0" stroke="#1a1a1a" stroke-width="1.2"/>
<text x="132" y="405.9" font-size="11" text-anchor="end" font-weight="normal" fill="#1a1a1a" >40</text>
<line x1="136.5" y1="347.0" x2="141" y2="347.0" stroke="#1a1a1a" stroke-width="1.2"/>
<text x="132" y="350.9" font-size="11" text-anchor="end" font-weight="normal" fill="#1a1a1a" >60</text>
<line x1="172.2" y1="512" x2="172.2" y2="516.5" stroke="#1a1a1a" stroke-width="1.2"/>
<text x="172.2" y="531.5" font-size="11.2" text-anchor="middle" font-weight="normal" fill="#1a1a1a" >Non</text>
<line x1="219.6" y1="512" x2="219.6" y2="516.5" stroke="#1a1a1a" stroke-width="1.2"/>
<text x="219.6" y="531.5" font-size="11.2" text-anchor="middle" font-weight="normal" fill="#1a1a1a" >Resp</text>
<text transform="translate(110.8,427.7) rotate(-90)" x="0" y="0" font-size="13.4" text-anchor="middle" textLength="72.7" lengthAdjust="spacingAndGlyphs" font-weight="bold" fill="#1a1a1a">% of total T cells</text>
<text x="269.5" y="308.6" font-size="17" text-anchor="start" font-weight="bold" fill="#111" >D</text>
<text x="382.15" y="329.6" font-size="13.9" text-anchor="middle" font-weight="normal" fill="#1a1a1a" >Tregs</text>
<text x="356.2" y="347" font-size="12.6" fill="#1a1a1a"><tspan font-style="italic">P</tspan><tspan dx="1.6">=</tspan><tspan dx="1.8">.0278</tspan></text>
<line x1="357.8" y1="354.5" x2="405.5" y2="354.5" stroke="#1a1a1a" stroke-width="1.3"/>
<rect x="342.5" y="444.2" width="31.100000000000023" height="67.8" fill="#9fd3e7"/>
<rect x="389.5" y="489.7" width="31.69999999999999" height="22.3" fill="#f6c4b8"/>
<circle cx="358.4" cy="371.7" r="2.7" fill="#1ba5c0"/>
<circle cx="358.4" cy="418.3" r="2.7" fill="#1ba5c0"/>
<circle cx="358.4" cy="459.5" r="2.7" fill="#1ba5c0"/>
<circle cx="358.4" cy="470.8" r="2.7" fill="#1ba5c0"/>
<circle cx="358.4" cy="498.7" r="2.7" fill="#1ba5c0"/>
<circle cx="405.8" cy="446.2" r="2.7" fill="#e8797a"/>
<circle cx="415.3" cy="476.8" r="2.7" fill="#e8797a"/>
<circle cx="405.8" cy="480.8" r="2.7" fill="#e8797a"/>
<circle cx="396.3" cy="494.1" r="2.7" fill="#e8797a"/>
<circle cx="415.3" cy="495.4" r="2.7" fill="#e8797a"/>
<circle cx="405.8" cy="498.0" r="2.7" fill="#e8797a"/>
<circle cx="396.3" cy="508.7" r="2.7" fill="#e8797a"/>
<circle cx="405.8" cy="506.7" r="2.7" fill="#e8797a"/>
<circle cx="410.8" cy="509.3" r="2.7" fill="#e8797a"/>
<circle cx="415.3" cy="508.0" r="2.7" fill="#e8797a"/>
<line x1="358.4" y1="393.6656" x2="358.4" y2="494.05039999999997" stroke="#1a1a1a" stroke-width="1.3"/>
<line x1="349.9" y1="393.6656" x2="366.9" y2="393.6656" stroke="#1a1a1a" stroke-width="1.3"/>
<line x1="349.9" y1="494.05039999999997" x2="366.9" y2="494.05039999999997" stroke="#1a1a1a" stroke-width="1.3"/>
<line x1="405.8" y1="470.1176" x2="405.8" y2="509.3408" stroke="#1a1a1a" stroke-width="1.3"/>
<line x1="397.3" y1="470.1176" x2="414.3" y2="470.1176" stroke="#1a1a1a" stroke-width="1.3"/>
<line x1="397.3" y1="509.3408" x2="414.3" y2="509.3408" stroke="#1a1a1a" stroke-width="1.3"/>
<line x1="327" y1="343" x2="327" y2="512.7" stroke="#1a1a1a" stroke-width="1.4"/>
<line x1="326.3" y1="512" x2="437.7" y2="512" stroke="#1a1a1a" stroke-width="1.4"/>
<line x1="322.5" y1="512.0" x2="327" y2="512.0" stroke="#1a1a1a" stroke-width="1.2"/>
<text x="318" y="515.9" font-size="11" text-anchor="end" font-weight="normal" fill="#1a1a1a" >0</text>
<line x1="322.5" y1="478.76" x2="327" y2="478.76" stroke="#1a1a1a" stroke-width="1.2"/>
<text x="318" y="482.65999999999997" font-size="11" text-anchor="end" font-weight="normal" fill="#1a1a1a" >5</text>
<line x1="322.5" y1="445.52" x2="327" y2="445.52" stroke="#1a1a1a" stroke-width="1.2"/>
<text x="318" y="449.41999999999996" font-size="11" text-anchor="end" font-weight="normal" fill="#1a1a1a" >10</text>
<line x1="322.5" y1="412.28" x2="327" y2="412.28" stroke="#1a1a1a" stroke-width="1.2"/>
<text x="318" y="416.17999999999995" font-size="11" text-anchor="end" font-weight="normal" fill="#1a1a1a" >15</text>
<line x1="322.5" y1="379.03999999999996" x2="327" y2="379.03999999999996" stroke="#1a1a1a" stroke-width="1.2"/>
<text x="318" y="382.93999999999994" font-size="11" text-anchor="end" font-weight="normal" fill="#1a1a1a" >20</text>
<line x1="322.5" y1="345.79999999999995" x2="327" y2="345.79999999999995" stroke="#1a1a1a" stroke-width="1.2"/>
<text x="318" y="349.69999999999993" font-size="11" text-anchor="end" font-weight="normal" fill="#1a1a1a" >25</text>
<line x1="358.4" y1="512" x2="358.4" y2="516.5" stroke="#1a1a1a" stroke-width="1.2"/>
<text x="358.4" y="531.5" font-size="11.2" text-anchor="middle" font-weight="normal" fill="#1a1a1a" >Non</text>
<line x1="405.8" y1="512" x2="405.8" y2="516.5" stroke="#1a1a1a" stroke-width="1.2"/>
<text x="405.8" y="531.5" font-size="11.2" text-anchor="middle" font-weight="normal" fill="#1a1a1a" >Resp</text>
<text transform="translate(297.4,427.7) rotate(-90)" x="0" y="0" font-size="13.4" text-anchor="middle" textLength="72.7" lengthAdjust="spacingAndGlyphs" font-weight="bold" fill="#1a1a1a">% of total T cells</text>
<text x="9.7" y="570.7" font-size="17" text-anchor="start" font-weight="bold" fill="#111" >E</text>
<g transform="translate(48.0,596) scale(1.0,1)">
<path d="M23,21 C27,20 31,19.8 35,19.6 C38,19.4 40,19 41,17.5 C40.2,15.5 39.8,12.5 40.8,10 C42,7 45,5 49,4.6 C53,4.2 57,4.4 59,6.2 C60.2,8.5 59.5,12 57.5,14.8 C56,16.8 53.5,18.3 52.2,20.2 C53.5,23 55,27 56,31 C57.2,35 57.7,40 57.4,44.5 C57,49 55,53 52,55.8 C49,58.2 45,59.6 41,59.5 C37,59.3 33.5,57.5 30.5,56.5 C27,57.5 23,59.2 18.5,59.2 C13.5,59 9.5,56 6.8,52 C4.8,49 4,46 5,43.5 C6.5,40.5 10,37.5 13.5,33.5 C16.5,30 19,26.5 20.5,24 C21.2,22.5 22,21.6 23,21Z" fill="#f0f0f0" filter="url(#blur10)"/>
<path d="M25,22.5 C32,20.8 40,20.5 46,21 C50,22.5 53,27 54.8,32 C56,37 56,43 54.5,48 C52.5,53 48,56.5 42,57.5 C37,57.8 33,55.5 29,54 C25,53 21.5,51 20,47 C19,42 19.5,36 20.8,31 C21.8,27 23,24 25,22.5Z" fill="#e5e5e5" filter="url(#blur15)"/>
<ellipse cx="57.5" cy="23.5" rx="1.6" ry="1" fill="#e4e4e4"/>
<clipPath id="cp0"><path d="M23,21 C27,20 31,19.8 35,19.6 C38,19.4 40,19 41,17.5 C40.2,15.5 39.8,12.5 40.8,10 C42,7 45,5 49,4.6 C53,4.2 57,4.4 59,6.2 C60.2,8.5 59.5,12 57.5,14.8 C56,16.8 53.5,18.3 52.2,20.2 C53.5,23 55,27 56,31 C57.2,35 57.7,40 57.4,44.5 C57,49 55,53 52,55.8 C49,58.2 45,59.6 41,59.5 C37,59.3 33.5,57.5 30.5,56.5 C27,57.5 23,59.2 18.5,59.2 C13.5,59 9.5,56 6.8,52 C4.8,49 4,46 5,43.5 C6.5,40.5 10,37.5 13.5,33.5 C16.5,30 19,26.5 20.5,24 C21.2,22.5 22,21.6 23,21Z"/></clipPath>
<g clip-path="url(#cp0)">
<ellipse cx="47" cy="32" rx="7" ry="8" fill="#86c46c" opacity="0.75" filter="url(#blur2)"/>
<ellipse cx="40" cy="40" rx="8" ry="7" fill="#86c46c" opacity="0.8" filter="url(#blur2)"/>
<ellipse cx="47" cy="51" rx="9" ry="9" fill="#e2a264" opacity="0.8" filter="url(#blur2)"/>
</g>
</g>
<g transform="translate(112.5,596) scale(1.03,1)">
<path d="M23,21 C27,20 31,19.8 35,19.6 C38,19.4 40,19 41,17.5 C40.2,15.5 39.8,12.5 40.8,10 C42,7 45,5 49,4.6 C53,4.2 57,4.4 59,6.2 C60.2,8.5 59.5,12 57.5,14.8 C56,16.8 53.5,18.3 52.2,20.2 C53.5,23 55,27 56,31 C57.2,35 57.7,40 57.4,44.5 C57,49 55,53 52,55.8 C49,58.2 45,59.6 41,59.5 C37,59.3 33.5,57.5 30.5,56.5 C27,57.5 23,59.2 18.5,59.2 C13.5,59 9.5,56 6.8,52 C4.8,49 4,46 5,43.5 C6.5,40.5 10,37.5 13.5,33.5 C16.5,30 19,26.5 20.5,24 C21.2,22.5 22,21.6 23,21Z" fill="#f0f0f0" filter="url(#blur10)"/>
<path d="M25,22.5 C32,20.8 40,20.5 46,21 C50,22.5 53,27 54.8,32 C56,37 56,43 54.5,48 C52.5,53 48,56.5 42,57.5 C37,57.8 33,55.5 29,54 C25,53 21.5,51 20,47 C19,42 19.5,36 20.8,31 C21.8,27 23,24 25,22.5Z" fill="#e5e5e5" filter="url(#blur15)"/>
<ellipse cx="57.5" cy="23.5" rx="1.6" ry="1" fill="#e4e4e4"/>
<clipPath id="cp1"><path d="M23,21 C27,20 31,19.8 35,19.6 C38,19.4 40,19 41,17.5 C40.2,15.5 39.8,12.5 40.8,10 C42,7 45,5 49,4.6 C53,4.2 57,4.4 59,6.2 C60.2,8.5 59.5,12 57.5,14.8 C56,16.8 53.5,18.3 52.2,20.2 C53.5,23 55,27 56,31 C57.2,35 57.7,40 57.4,44.5 C57,49 55,53 52,55.8 C49,58.2 45,59.6 41,59.5 C37,59.3 33.5,57.5 30.5,56.5 C27,57.5 23,59.2 18.5,59.2 C13.5,59 9.5,56 6.8,52 C4.8,49 4,46 5,43.5 C6.5,40.5 10,37.5 13.5,33.5 C16.5,30 19,26.5 20.5,24 C21.2,22.5 22,21.6 23,21Z"/></clipPath>
<g clip-path="url(#cp1)">
<ellipse cx="39" cy="46" rx="10" ry="8" fill="#b0abe0" opacity="0.65" filter="url(#blur2)"/>
<ellipse cx="50" cy="53" rx="7" ry="5" fill="#b0abe0" opacity="0.55" filter="url(#blur2)"/>
</g>
</g>
<text x="146.9" y="591.3" font-size="13.6" text-anchor="middle" font-weight="normal" fill="#1a1a1a" >TIGIT</text>
<g transform="translate(173.8,596) scale(1.03,1)">
<path d="M23,21 C27,20 31,19.8 35,19.6 C38,19.4 40,19 41,17.5 C40.2,15.5 39.8,12.5 40.8,10 C42,7 45,5 49,4.6 C53,4.2 57,4.4 59,6.2 C60.2,8.5 59.5,12 57.5,14.8 C56,16.8 53.5,18.3 52.2,20.2 C53.5,23 55,27 56,31 C57.2,35 57.7,40 57.4,44.5 C57,49 55,53 52,55.8 C49,58.2 45,59.6 41,59.5 C37,59.3 33.5,57.5 30.5,56.5 C27,57.5 23,59.2 18.5,59.2 C13.5,59 9.5,56 6.8,52 C4.8,49 4,46 5,43.5 C6.5,40.5 10,37.5 13.5,33.5 C16.5,30 19,26.5 20.5,24 C21.2,22.5 22,21.6 23,21Z" fill="#f0f0f0" filter="url(#blur10)"/>
<path d="M25,22.5 C32,20.8 40,20.5 46,21 C50,22.5 53,27 54.8,32 C56,37 56,43 54.5,48 C52.5,53 48,56.5 42,57.5 C37,57.8 33,55.5 29,54 C25,53 21.5,51 20,47 C19,42 19.5,36 20.8,31 C21.8,27 23,24 25,22.5Z" fill="#e5e5e5" filter="url(#blur15)"/>
<ellipse cx="57.5" cy="23.5" rx="1.6" ry="1" fill="#e4e4e4"/>
<clipPath id="cp2"><path d="M23,21 C27,20 31,19.8 35,19.6 C38,19.4 40,19 41,17.5 C40.2,15.5 39.8,12.5 40.8,10 C42,7 45,5 49,4.6 C53,4.2 57,4.4 59,6.2 C60.2,8.5 59.5,12 57.5,14.8 C56,16.8 53.5,18.3 52.2,20.2 C53.5,23 55,27 56,31 C57.2,35 57.7,40 57.4,44.5 C57,49 55,53 52,55.8 C49,58.2 45,59.6 41,59.5 C37,59.3 33.5,57.5 30.5,56.5 C27,57.5 23,59.2 18.5,59.2 C13.5,59 9.5,56 6.8,52 C4.8,49 4,46 5,43.5 C6.5,40.5 10,37.5 13.5,33.5 C16.5,30 19,26.5 20.5,24 C21.2,22.5 22,21.6 23,21Z"/></clipPath>
<g clip-path="url(#cp2)">
<ellipse cx="42" cy="46" rx="10" ry="8" fill="#c4c1e8" opacity="0.45" filter="url(#blur2)"/>
</g>
</g>
<text x="207.5" y="591.3" font-size="13.6" text-anchor="middle" font-weight="normal" fill="#1a1a1a" >PD1</text>
<g transform="translate(235.2,596) scale(1.03,1)">
<path d="M23,21 C27,20 31,19.8 35,19.6 C38,19.4 40,19 41,17.5 C40.2,15.5 39.8,12.5 40.8,10 C42,7 45,5 49,4.6 C53,4.2 57,4.4 59,6.2 C60.2,8.5 59.5,12 57.5,14.8 C56,16.8 53.5,18.3 52.2,20.2 C53.5,23 55,27 56,31 C57.2,35 57.7,40 57.4,44.5 C57,49 55,53 52,55.8 C49,58.2 45,59.6 41,59.5 C37,59.3 33.5,57.5 30.5,56.5 C27,57.5 23,59.2 18.5,59.2 C13.5,59 9.5,56 6.8,52 C4.8,49 4,46 5,43.5 C6.5,40.5 10,37.5 13.5,33.5 C16.5,30 19,26.5 20.5,24 C21.2,22.5 22,21.6 23,21Z" fill="#f0f0f0" filter="url(#blur10)"/>
<path d="M25,22.5 C32,20.8 40,20.5 46,21 C50,22.5 53,27 54.8,32 C56,37 56,43 54.5,48 C52.5,53 48,56.5 42,57.5 C37,57.8 33,55.5 29,54 C25,53 21.5,51 20,47 C19,42 19.5,36 20.8,31 C21.8,27 23,24 25,22.5Z" fill="#e5e5e5" filter="url(#blur15)"/>
<ellipse cx="57.5" cy="23.5" rx="1.6" ry="1" fill="#e4e4e4"/>
<clipPath id="cp3"><path d="M23,21 C27,20 31,19.8 35,19.6 C38,19.4 40,19 41,17.5 C40.2,15.5 39.8,12.5 40.8,10 C42,7 45,5 49,4.6 C53,4.2 57,4.4 59,6.2 C60.2,8.5 59.5,12 57.5,14.8 C56,16.8 53.5,18.3 52.2,20.2 C53.5,23 55,27 56,31 C57.2,35 57.7,40 57.4,44.5 C57,49 55,53 52,55.8 C49,58.2 45,59.6 41,59.5 C37,59.3 33.5,57.5 30.5,56.5 C27,57.5 23,59.2 18.5,59.2 C13.5,59 9.5,56 6.8,52 C4.8,49 4,46 5,43.5 C6.5,40.5 10,37.5 13.5,33.5 C16.5,30 19,26.5 20.5,24 C21.2,22.5 22,21.6 23,21Z"/></clipPath>
<g clip-path="url(#cp3)">
</g>
</g>
<text x="270.7" y="591.3" font-size="13.6" text-anchor="middle" font-weight="normal" fill="#1a1a1a" >CTLA4</text>
<g transform="translate(296.5,596) scale(1.03,1)">
<path d="M23,21 C27,20 31,19.8 35,19.6 C38,19.4 40,19 41,17.5 C40.2,15.5 39.8,12.5 40.8,10 C42,7 45,5 49,4.6 C53,4.2 57,4.4 59,6.2 C60.2,8.5 59.5,12 57.5,14.8 C56,16.8 53.5,18.3 52.2,20.2 C53.5,23 55,27 56,31 C57.2,35 57.7,40 57.4,44.5 C57,49 55,53 52,55.8 C49,58.2 45,59.6 41,59.5 C37,59.3 33.5,57.5 30.5,56.5 C27,57.5 23,59.2 18.5,59.2 C13.5,59 9.5,56 6.8,52 C4.8,49 4,46 5,43.5 C6.5,40.5 10,37.5 13.5,33.5 C16.5,30 19,26.5 20.5,24 C21.2,22.5 22,21.6 23,21Z" fill="#f0f0f0" filter="url(#blur10)"/>
<path d="M25,22.5 C32,20.8 40,20.5 46,21 C50,22.5 53,27 54.8,32 C56,37 56,43 54.5,48 C52.5,53 48,56.5 42,57.5 C37,57.8 33,55.5 29,54 C25,53 21.5,51 20,47 C19,42 19.5,36 20.8,31 C21.8,27 23,24 25,22.5Z" fill="#e5e5e5" filter="url(#blur15)"/>
<ellipse cx="57.5" cy="23.5" rx="1.6" ry="1" fill="#e4e4e4"/>
<clipPath id="cp4"><path d="M23,21 C27,20 31,19.8 35,19.6 C38,19.4 40,19 41,17.5 C40.2,15.5 39.8,12.5 40.8,10 C42,7 45,5 49,4.6 C53,4.2 57,4.4 59,6.2 C60.2,8.5 59.5,12 57.5,14.8 C56,16.8 53.5,18.3 52.2,20.2 C53.5,23 55,27 56,31 C57.2,35 57.7,40 57.4,44.5 C57,49 55,53 52,55.8 C49,58.2 45,59.6 41,59.5 C37,59.3 33.5,57.5 30.5,56.5 C27,57.5 23,59.2 18.5,59.2 C13.5,59 9.5,56 6.8,52 C4.8,49 4,46 5,43.5 C6.5,40.5 10,37.5 13.5,33.5 C16.5,30 19,26.5 20.5,24 C21.2,22.5 22,21.6 23,21Z"/></clipPath>
<g clip-path="url(#cp4)">
</g>
</g>
<text x="331" y="591.3" font-size="13.6" text-anchor="middle" font-weight="normal" fill="#1a1a1a" >LAG3</text>
<g transform="translate(357.8,596) scale(1.03,1)">
<path d="M23,21 C27,20 31,19.8 35,19.6 C38,19.4 40,19 41,17.5 C40.2,15.5 39.8,12.5 40.8,10 C42,7 45,5 49,4.6 C53,4.2 57,4.4 59,6.2 C60.2,8.5 59.5,12 57.5,14.8 C56,16.8 53.5,18.3 52.2,20.2 C53.5,23 55,27 56,31 C57.2,35 57.7,40 57.4,44.5 C57,49 55,53 52,55.8 C49,58.2 45,59.6 41,59.5 C37,59.3 33.5,57.5 30.5,56.5 C27,57.5 23,59.2 18.5,59.2 C13.5,59 9.5,56 6.8,52 C4.8,49 4,46 5,43.5 C6.5,40.5 10,37.5 13.5,33.5 C16.5,30 19,26.5 20.5,24 C21.2,22.5 22,21.6 23,21Z" fill="#f0f0f0" filter="url(#blur10)"/>
<path d="M25,22.5 C32,20.8 40,20.5 46,21 C50,22.5 53,27 54.8,32 C56,37 56,43 54.5,48 C52.5,53 48,56.5 42,57.5 C37,57.8 33,55.5 29,54 C25,53 21.5,51 20,47 C19,42 19.5,36 20.8,31 C21.8,27 23,24 25,22.5Z" fill="#e5e5e5" filter="url(#blur15)"/>
<ellipse cx="57.5" cy="23.5" rx="1.6" ry="1" fill="#e4e4e4"/>
<clipPath id="cp5"><path d="M23,21 C27,20 31,19.8 35,19.6 C38,19.4 40,19 41,17.5 C40.2,15.5 39.8,12.5 40.8,10 C42,7 45,5 49,4.6 C53,4.2 57,4.4 59,6.2 C60.2,8.5 59.5,12 57.5,14.8 C56,16.8 53.5,18.3 52.2,20.2 C53.5,23 55,27 56,31 C57.2,35 57.7,40 57.4,44.5 C57,49 55,53 52,55.8 C49,58.2 45,59.6 41,59.5 C37,59.3 33.5,57.5 30.5,56.5 C27,57.5 23,59.2 18.5,59.2 C13.5,59 9.5,56 6.8,52 C4.8,49 4,46 5,43.5 C6.5,40.5 10,37.5 13.5,33.5 C16.5,30 19,26.5 20.5,24 C21.2,22.5 22,21.6 23,21Z"/></clipPath>
<g clip-path="url(#cp5)">
</g>
</g>
<text x="392.2" y="591.3" font-size="13.6" text-anchor="middle" font-weight="normal" fill="#1a1a1a" >TIM3</text>
<g transform="translate(419.2,596) scale(1.03,1)">
<path d="M23,21 C27,20 31,19.8 35,19.6 C38,19.4 40,19 41,17.5 C40.2,15.5 39.8,12.5 40.8,10 C42,7 45,5 49,4.6 C53,4.2 57,4.4 59,6.2 C60.2,8.5 59.5,12 57.5,14.8 C56,16.8 53.5,18.3 52.2,20.2 C53.5,23 55,27 56,31 C57.2,35 57.7,40 57.4,44.5 C57,49 55,53 52,55.8 C49,58.2 45,59.6 41,59.5 C37,59.3 33.5,57.5 30.5,56.5 C27,57.5 23,59.2 18.5,59.2 C13.5,59 9.5,56 6.8,52 C4.8,49 4,46 5,43.5 C6.5,40.5 10,37.5 13.5,33.5 C16.5,30 19,26.5 20.5,24 C21.2,22.5 22,21.6 23,21Z" fill="#f0f0f0" filter="url(#blur10)"/>
<path d="M25,22.5 C32,20.8 40,20.5 46,21 C50,22.5 53,27 54.8,32 C56,37 56,43 54.5,48 C52.5,53 48,56.5 42,57.5 C37,57.8 33,55.5 29,54 C25,53 21.5,51 20,47 C19,42 19.5,36 20.8,31 C21.8,27 23,24 25,22.5Z" fill="#e5e5e5" filter="url(#blur15)"/>
<ellipse cx="57.5" cy="23.5" rx="1.6" ry="1" fill="#e4e4e4"/>
<clipPath id="cp6"><path d="M23,21 C27,20 31,19.8 35,19.6 C38,19.4 40,19 41,17.5 C40.2,15.5 39.8,12.5 40.8,10 C42,7 45,5 49,4.6 C53,4.2 57,4.4 59,6.2 C60.2,8.5 59.5,12 57.5,14.8 C56,16.8 53.5,18.3 52.2,20.2 C53.5,23 55,27 56,31 C57.2,35 57.7,40 57.4,44.5 C57,49 55,53 52,55.8 C49,58.2 45,59.6 41,59.5 C37,59.3 33.5,57.5 30.5,56.5 C27,57.5 23,59.2 18.5,59.2 C13.5,59 9.5,56 6.8,52 C4.8,49 4,46 5,43.5 C6.5,40.5 10,37.5 13.5,33.5 C16.5,30 19,26.5 20.5,24 C21.2,22.5 22,21.6 23,21Z"/></clipPath>
<g clip-path="url(#cp6)">
<ellipse cx="13" cy="51" rx="9" ry="7" fill="#b4afe2" opacity="0.6" filter="url(#blur2)"/>
<ellipse cx="51.5" cy="35" rx="4.5" ry="9" fill="#aaa5de" opacity="0.7" filter="url(#blur2)"/>
</g>
</g>
<text x="451.2" y="591.3" font-size="13.6" text-anchor="middle" font-weight="normal" fill="#1a1a1a" >CD38</text>
<rect x="486" y="601" width="10.5" height="54" fill="url(#lg)"/>
<text x="491.7" y="597" font-size="10.8" text-anchor="middle" font-weight="normal" fill="#1a1a1a" >High</text>
<text x="491.5" y="664.8" font-size="10.8" text-anchor="middle" font-weight="normal" fill="#1a1a1a" >Low</text>
<g stroke="#111" stroke-width="1.3" fill="none"><path d="M47.7,648 L47.7,664.8 L64,664.8"/></g>
<path d="M47.7,642.5 L44.6,649.5 L50.8,649.5Z" fill="#111"/>
<path d="M69.8,664.8 L62.8,661.8 L62.8,667.8Z" fill="#111"/>
<text transform="translate(39.5,653.3) rotate(-90)" x="0" y="0" font-size="12.6" text-anchor="middle" textLength="30.9" lengthAdjust="spacingAndGlyphs" font-weight="bold" fill="#1a1a1a">UMAP2</text>
<text x="58.7" y="681.3" font-size="12.6" text-anchor="middle" textLength="30" lengthAdjust="spacingAndGlyphs" font-weight="bold" fill="#1a1a1a">UMAP1</text>
<circle cx="221.8" cy="692" r="2.1" fill="#d98b3a"/>
<text x="228" y="696.3" font-size="10.6" text-anchor="start" font-weight="normal" fill="#222" >Treg</text>
<circle cx="263.8" cy="692" r="2.1" fill="#6db352"/>
<text x="270.5" y="696.3" font-size="11" text-anchor="start" font-weight="normal" fill="#222" >CD4 TCM</text>
</g>
<rect x="0.5" y="0.5" width="519" height="707" fill="none" stroke="#2a2a2a" stroke-width="1"/>
</svg></body></html>
